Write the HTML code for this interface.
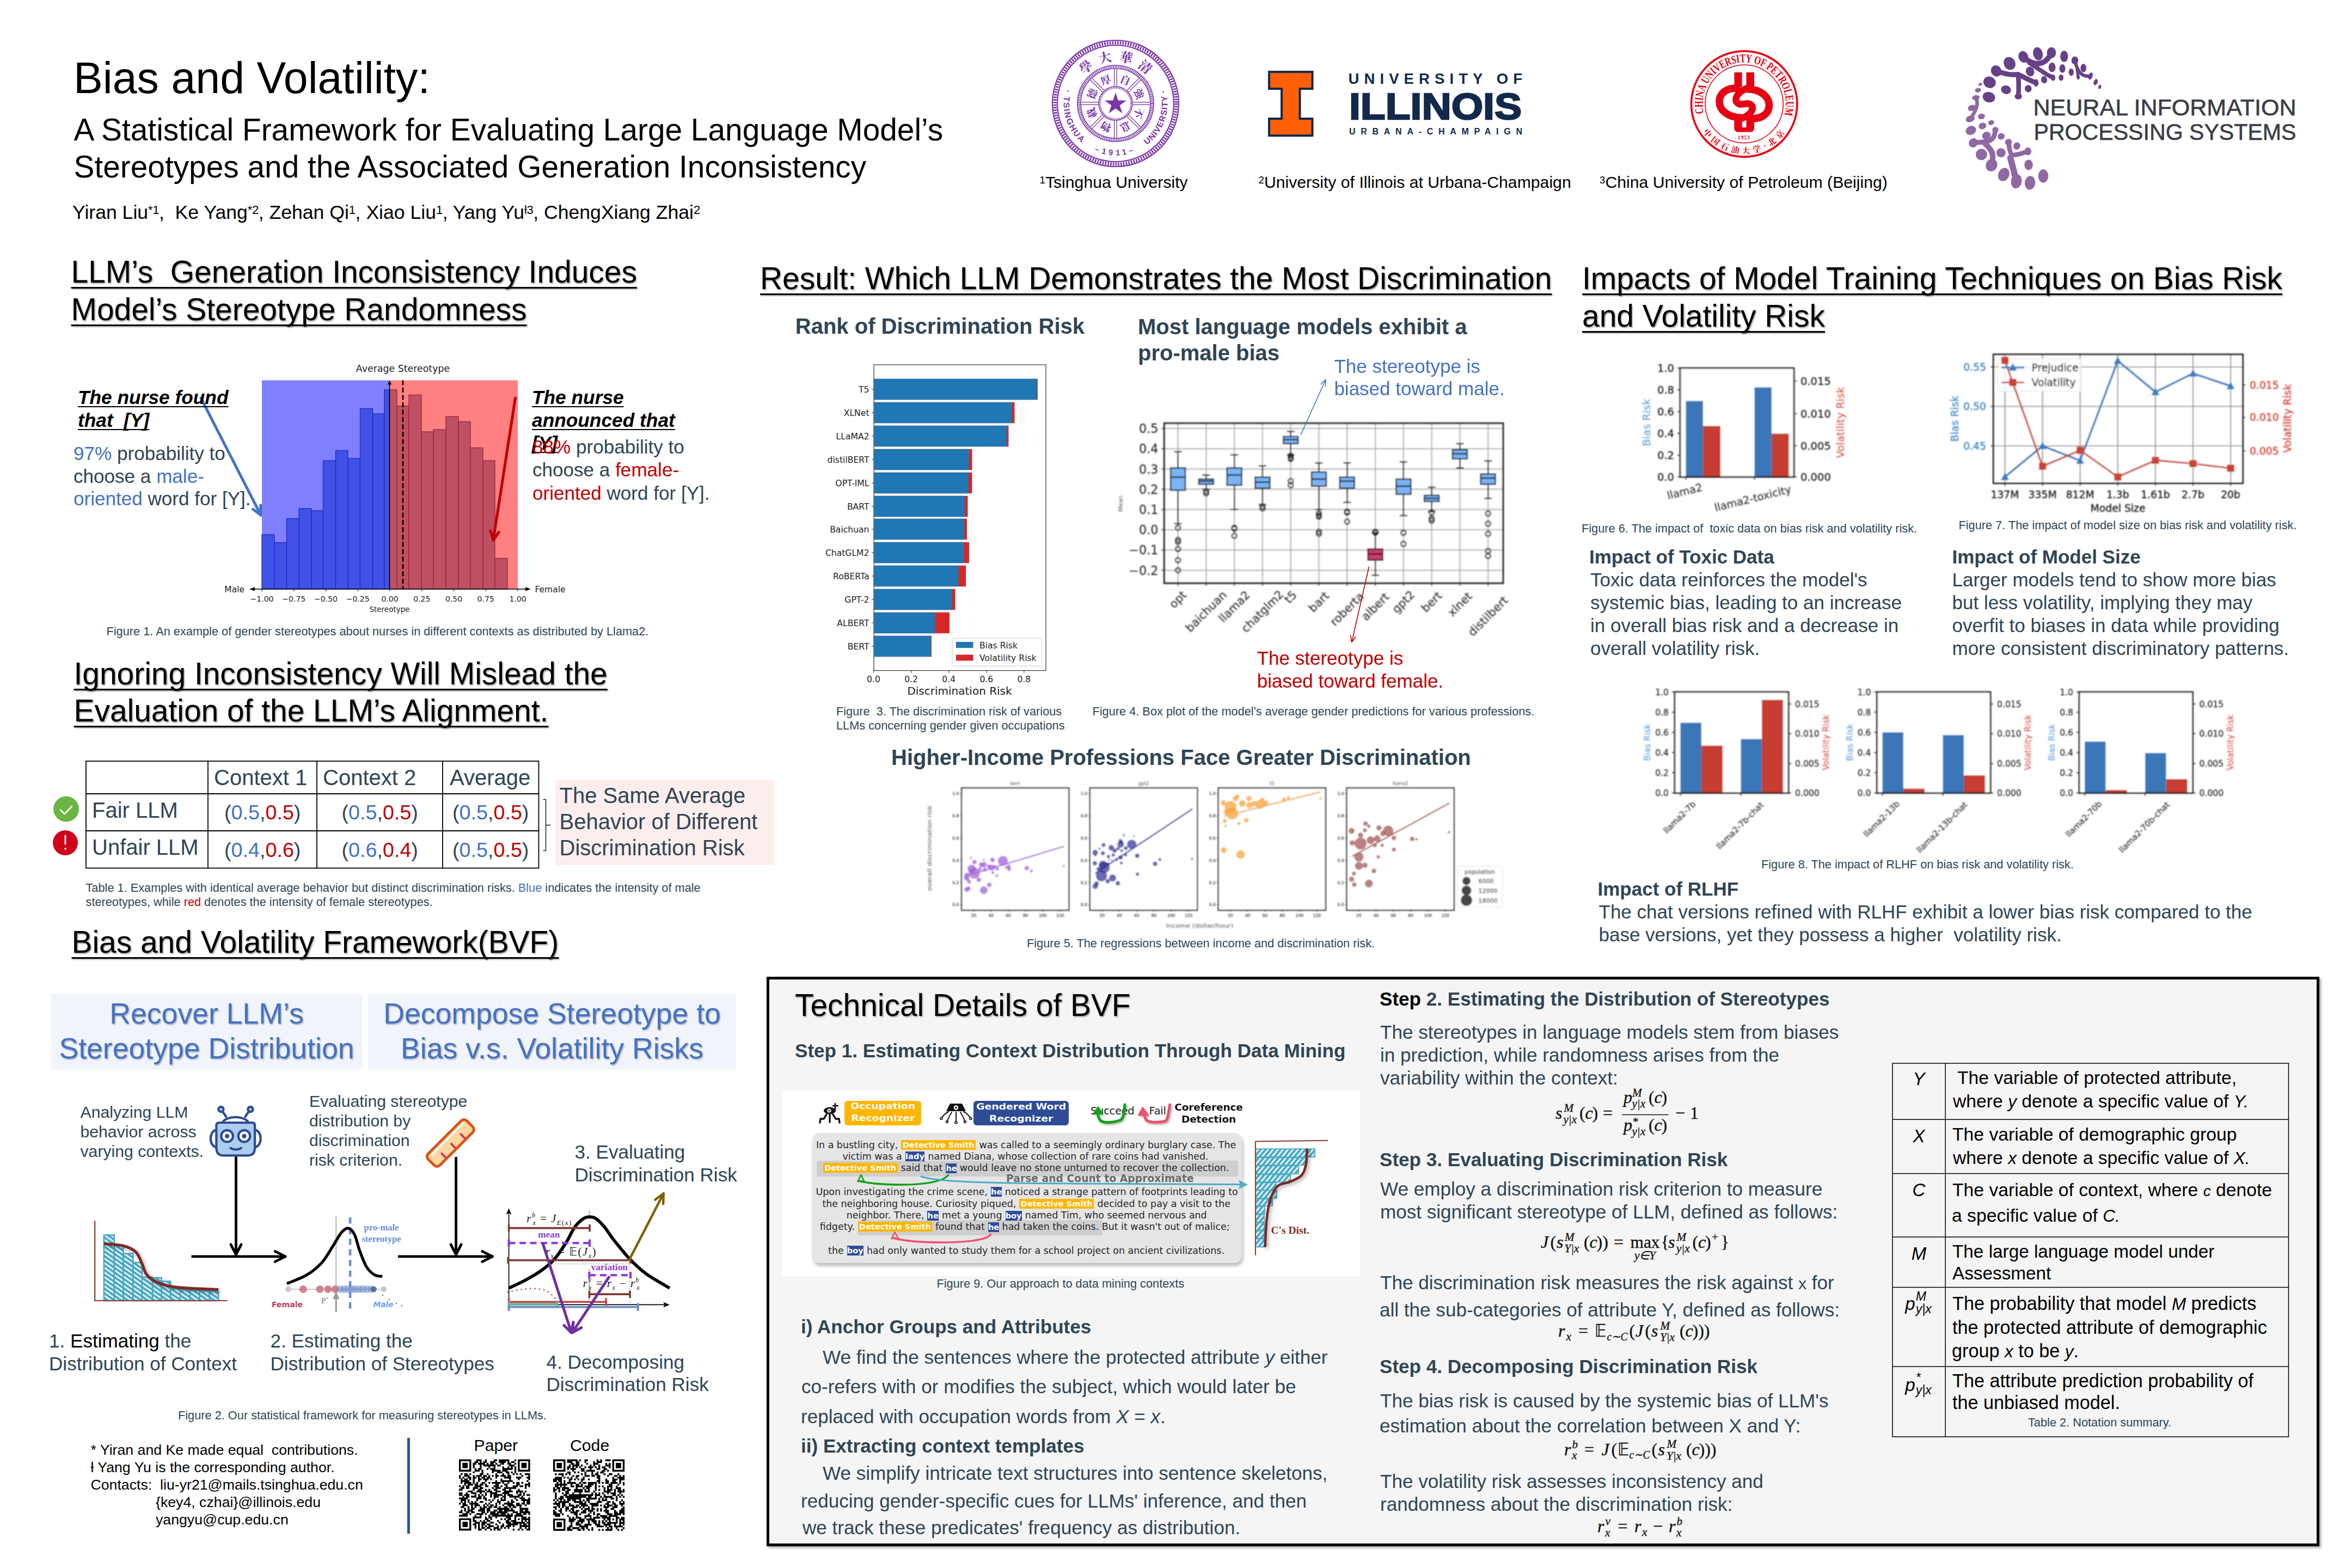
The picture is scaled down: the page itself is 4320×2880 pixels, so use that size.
<!DOCTYPE html>
<html lang="en"><head><meta charset="utf-8"><title>Bias and Volatility poster</title>
<style>
html,body{margin:0;padding:0;background:#fff}
#p{position:relative;width:4320px;height:2880px;overflow:hidden;background:#fff;font-family:'Liberation Sans',sans-serif}
.t{position:absolute;white-space:nowrap;margin:0}
.h{text-decoration:underline;text-decoration-thickness:3px;text-underline-offset:8px;text-decoration-skip-ink:none;text-shadow:1.5px 1.5px 2.5px rgba(0,0,0,.38)}
.sh{text-shadow:2px 2px 3px rgba(0,0,0,.4)}
svg text{white-space:pre}
</style></head><body><div id="p">
<div style="position:absolute;left:1020px;top:1432.5px;width:402px;height:156.5px;background:#fdeeee"></div>
<div style="position:absolute;left:94px;top:1824.5px;width:571px;height:140.5px;background:#f1f4fb"></div>
<div style="position:absolute;left:676px;top:1824.5px;width:676px;height:140.5px;background:#f1f4fb"></div>
<div style="position:absolute;left:748px;top:2641px;width:5px;height:175.5px;background:#2f5597"></div><div style="position:absolute;left:1408px;top:1794px;width:2842px;height:1036px;background:#f5f5f5;border:5px solid #000;box-shadow:3px 3px 4px rgba(0,0,0,.35)"></div>
<div style="position:absolute;left:1437px;top:2003px;width:1060.7px;height:340.5px;background:#fff"></div>
<div style="position:absolute;left:1491.5px;top:2080.6px;width:789.3px;height:239.6px;background:#e5e5e5;border-radius:14px;box-shadow:2px 5px 6px rgba(0,0,0,.28)"></div>
<div style="position:absolute;left:1500.4px;top:2132px;width:773.5px;height:29px;background:#cecece;border-radius:4px"></div>
<div style="position:absolute;left:1575.7px;top:2241px;width:449px;height:27.5px;background:#cecece;border-radius:4px"></div>
<div style="position:absolute;left:1551.4px;top:2022.4px;width:141.1px;height:44.4px;background:#ffb600;border-radius:6px"></div>
<div style="position:absolute;left:1788.2px;top:2022.4px;width:175.2px;height:44.4px;background:#2e4c96;border-radius:6px"></div>
<div class="t" style="font-family:'DejaVu Sans',sans-serif;left:1551.4px;width:141.1px;top:2020.8px;text-align:center;font-weight:bold;font-size:16.2px;line-height:22px;color:#fff;letter-spacing:-0.2px;transform:scaleX(1.18);transform-origin:50% 50%">Occupation</div>
<div class="t" style="font-family:'DejaVu Sans',sans-serif;left:1551.4px;width:141.1px;top:2043.2px;text-align:center;font-weight:bold;font-size:16.2px;line-height:22px;color:#fff;letter-spacing:-0.2px;transform:scaleX(1.18);transform-origin:50% 50%">Recognizer</div>
<div class="t" style="font-family:'DejaVu Sans',sans-serif;left:1788.2px;width:175.2px;top:2022.0px;text-align:center;font-weight:bold;font-size:16.2px;line-height:22px;color:#fff;letter-spacing:-0.2px;transform:scaleX(1.18);transform-origin:50% 50%">Gendered Word</div>
<div class="t" style="font-family:'DejaVu Sans',sans-serif;left:1788.2px;width:175.2px;top:2044.2px;text-align:center;font-weight:bold;font-size:16.2px;line-height:22px;color:#fff;letter-spacing:-0.2px;transform:scaleX(1.18);transform-origin:50% 50%">Recognizer</div>
<div class="t" style="font-family:'DejaVu Sans',sans-serif;left:2140px;width:160px;top:2023.4px;text-align:center;font-weight:bold;font-size:17.6px;line-height:22px;color:#111;letter-spacing:-0.2px;transform:scaleX(1.06);transform-origin:50% 50%">Coreference</div>
<div class="t" style="font-family:'DejaVu Sans',sans-serif;left:2140px;width:160px;top:2044.9px;text-align:center;font-weight:bold;font-size:17.6px;line-height:22px;color:#111;letter-spacing:-0.2px;transform:scaleX(1.06);transform-origin:50% 50%">Detection</div>
<div class="t" style="font-family:'DejaVu Sans',sans-serif;left:2003px;top:2028.8px;font-size:19.5px;line-height:24px;color:#222;letter-spacing:-0.3px">Succeed</div>
<div class="t" style="font-family:'DejaVu Sans',sans-serif;left:2110.5px;top:2029.3px;font-size:19.5px;line-height:24px;color:#222;letter-spacing:-0.3px">Fail</div>
<div class="t" style="font-family:'DejaVu Sans',sans-serif;left:1848px;top:2153.8px;font-size:18.6px;font-weight:bold;line-height:22px;color:#6a6a6a;letter-spacing:0.1px">Parse and Count to Approximate</div>
<div class="t" style="font-family:'DejaVu Sans',sans-serif;left:1498.9px;top:2091.1px;font-size:17.45px;line-height:24px;color:#262626;white-space:pre">In a bustling city, <span style="display:inline-block;width:137px;height:18px;line-height:18px;background:#ffb600;color:#fff;font-weight:bold;font-size:14.6px;text-align:center;vertical-align:1.2px;margin:0 0.5px">Detective Smith</span> was called to a seemingly ordinary burglary case. The</div>
<div class="t" style="font-family:'DejaVu Sans',sans-serif;left:1547.4px;top:2111.5px;font-size:17.45px;line-height:24px;color:#262626;white-space:pre">victim was a <span style="display:inline-block;width:35.7px;height:18px;line-height:18px;background:#2e4c96;color:#fff;font-weight:bold;font-size:14.6px;text-align:center;vertical-align:0.5px;margin:0 0.5px">lady</span> named Diana, whose collection of rare coins had vanished.</div>
<div class="t" style="font-family:'DejaVu Sans',sans-serif;left:1511.2px;top:2133.2px;font-size:17.45px;line-height:24px;color:#262626;white-space:pre"><span style="display:inline-block;width:137px;height:18px;line-height:18px;background:#ffb600;color:#fff;font-weight:bold;font-size:14.6px;text-align:center;vertical-align:1.2px;margin:0 0.5px">Detective Smith</span> said that <span style="display:inline-block;width:19.3px;height:18px;line-height:18px;background:#2e4c96;color:#fff;font-weight:bold;font-size:14.6px;text-align:center;vertical-align:0.5px;margin:0 0.5px">he</span> would leave no stone unturned to recover the collection.</div>
<div class="t" style="font-family:'DejaVu Sans',sans-serif;left:1498.4px;top:2176.8px;font-size:17.45px;line-height:24px;color:#262626;white-space:pre">Upon investigating the crime scene, <span style="display:inline-block;width:19.6px;height:18px;line-height:18px;background:#2e4c96;color:#fff;font-weight:bold;font-size:14.6px;text-align:center;vertical-align:0.5px;margin:0 0.5px">he</span> noticed a strange pattern of footprints leading to</div>
<div class="t" style="font-family:'DejaVu Sans',sans-serif;left:1510.4px;top:2198.9px;font-size:17.45px;line-height:24px;color:#262626;white-space:pre">the neighboring house. Curiosity piqued, <span style="display:inline-block;width:137px;height:18px;line-height:18px;background:#ffb600;color:#fff;font-weight:bold;font-size:14.6px;text-align:center;vertical-align:1.2px;margin:0 0.5px">Detective Smith</span> decided to pay a visit to the</div>
<div class="t" style="font-family:'DejaVu Sans',sans-serif;left:1554.8px;top:2220.2px;font-size:17.45px;line-height:24px;color:#262626;white-space:pre">neighbor. There, <span style="display:inline-block;width:20.5px;height:18px;line-height:18px;background:#2e4c96;color:#fff;font-weight:bold;font-size:14.6px;text-align:center;vertical-align:0.5px;margin:0 0.5px">he</span> met a young <span style="display:inline-block;width:30.2px;height:18px;line-height:18px;background:#2e4c96;color:#fff;font-weight:bold;font-size:14.6px;text-align:center;vertical-align:0.5px;margin:0 0.5px">boy</span> named Tim, who seemed nervous and</div>
<div class="t" style="font-family:'DejaVu Sans',sans-serif;left:1505.8px;top:2241.1px;font-size:17.45px;line-height:24px;color:#262626;white-space:pre">fidgety. <span style="display:inline-block;width:136px;height:18px;line-height:18px;background:#ffb600;color:#fff;font-weight:bold;font-size:14.6px;text-align:center;vertical-align:1.2px;margin:0 0.5px">Detective Smith</span> found that <span style="display:inline-block;width:19.6px;height:18px;line-height:18px;background:#2e4c96;color:#fff;font-weight:bold;font-size:14.6px;text-align:center;vertical-align:0.5px;margin:0 0.5px">he</span> had taken the coins. But it wasn't out of malice;</div>
<div class="t" style="font-family:'DejaVu Sans',sans-serif;left:1521.1px;top:2284.5px;font-size:17.45px;line-height:24px;color:#262626;white-space:pre">the <span style="display:inline-block;width:30.1px;height:18px;line-height:18px;background:#2e4c96;color:#fff;font-weight:bold;font-size:14.6px;text-align:center;vertical-align:0.5px;margin:0 0.5px">boy</span> had only wanted to study them for a school project on ancient civilizations.</div>
<div class="t" style="font-family:'Liberation Serif',serif;left:2334.5px;top:2248.1px;font-size:19.5px;font-weight:bold;line-height:24px;color:#7b2c25">C's Dist.</div>
<svg width="4320" height="2880" viewBox="0 0 4320 2880" style="position:absolute;left:0;top:0">
<g fill="none" stroke="#7a35a6">
<circle cx="2049" cy="190" r="116" stroke-width="2.2"/>
<circle cx="2049" cy="190" r="111.5" stroke-width="6" stroke-dasharray="2.6 2.2"/>
<circle cx="2049" cy="190" r="107" stroke-width="2.2"/>
<circle cx="2049" cy="190" r="70" stroke-width="1.6"/>
<circle cx="2049" cy="190" r="67" stroke-width="4" stroke-dasharray="1.6 1.6"/>
<circle cx="2049" cy="190" r="64" stroke-width="1.6"/>
<circle cx="2049" cy="190" r="31" stroke-width="1.6"/>
<circle cx="2049" cy="190" r="28.5" stroke-width="2.5" stroke-dasharray="1.5 1.5"/>
<line x1="2081.0" y1="187.8" x2="2112.0" y2="187.8" stroke-width="1.3"/>
<line x1="2081.0" y1="192.2" x2="2112.0" y2="192.2" stroke-width="1.3"/>
<line x1="2073.2" y1="211.1" x2="2095.1" y2="233.0" stroke-width="1.3"/>
<line x1="2070.1" y1="214.2" x2="2092.0" y2="236.1" stroke-width="1.3"/>
<line x1="2051.2" y1="222.0" x2="2051.2" y2="253.0" stroke-width="1.3"/>
<line x1="2046.8" y1="222.0" x2="2046.8" y2="253.0" stroke-width="1.3"/>
<line x1="2027.9" y1="214.2" x2="2006.0" y2="236.1" stroke-width="1.3"/>
<line x1="2024.8" y1="211.1" x2="2002.9" y2="233.0" stroke-width="1.3"/>
<line x1="2017.0" y1="192.2" x2="1986.0" y2="192.2" stroke-width="1.3"/>
<line x1="2017.0" y1="187.8" x2="1986.0" y2="187.8" stroke-width="1.3"/>
<line x1="2024.8" y1="168.9" x2="2002.9" y2="147.0" stroke-width="1.3"/>
<line x1="2027.9" y1="165.8" x2="2006.0" y2="143.9" stroke-width="1.3"/>
<line x1="2046.8" y1="158.0" x2="2046.8" y2="127.0" stroke-width="1.3"/>
<line x1="2051.2" y1="158.0" x2="2051.2" y2="127.0" stroke-width="1.3"/>
<line x1="2070.1" y1="165.8" x2="2092.0" y2="143.9" stroke-width="1.3"/>
<line x1="2073.2" y1="168.9" x2="2095.1" y2="147.0" stroke-width="1.3"/>
</g>
<polygon points="2049.0,170.0 2053.8,184.4 2069.0,184.5 2056.8,193.5 2061.3,208.0 2049.0,199.2 2036.7,208.0 2041.2,193.5 2029.0,184.5 2044.2,184.4" fill="#7a35a6"/>
<text x="2067.4" y="145.7" transform="rotate(22.5 2067.4 145.7)" font-family="'Noto Serif CJK SC','Noto Sans CJK SC',serif" font-weight="bold" font-size="19" fill="#7a35a6" text-anchor="middle" dominant-baseline="central">自</text>
<text x="2093.3" y="171.6" transform="rotate(67.5 2093.3 171.6)" font-family="'Noto Serif CJK SC','Noto Sans CJK SC',serif" font-weight="bold" font-size="19" fill="#7a35a6" text-anchor="middle" dominant-baseline="central">強</text>
<text x="2093.3" y="208.4" transform="rotate(112.5 2093.3 208.4)" font-family="'Noto Serif CJK SC','Noto Sans CJK SC',serif" font-weight="bold" font-size="19" fill="#7a35a6" text-anchor="middle" dominant-baseline="central">不</text>
<text x="2067.4" y="234.3" transform="rotate(157.5 2067.4 234.3)" font-family="'Noto Serif CJK SC','Noto Sans CJK SC',serif" font-weight="bold" font-size="19" fill="#7a35a6" text-anchor="middle" dominant-baseline="central">息</text>
<text x="2030.6" y="234.3" transform="rotate(202.5 2030.6 234.3)" font-family="'Noto Serif CJK SC','Noto Sans CJK SC',serif" font-weight="bold" font-size="19" fill="#7a35a6" text-anchor="middle" dominant-baseline="central">物</text>
<text x="2004.7" y="208.4" transform="rotate(247.5 2004.7 208.4)" font-family="'Noto Serif CJK SC','Noto Sans CJK SC',serif" font-weight="bold" font-size="19" fill="#7a35a6" text-anchor="middle" dominant-baseline="central">載</text>
<text x="2004.7" y="171.6" transform="rotate(-67.5 2004.7 171.6)" font-family="'Noto Serif CJK SC','Noto Sans CJK SC',serif" font-weight="bold" font-size="19" fill="#7a35a6" text-anchor="middle" dominant-baseline="central">德</text>
<text x="2030.6" y="145.7" transform="rotate(-22.5 2030.6 145.7)" font-family="'Noto Serif CJK SC','Noto Sans CJK SC',serif" font-weight="bold" font-size="19" fill="#7a35a6" text-anchor="middle" dominant-baseline="central">厚</text>
<text x="1993.6" y="121.6" transform="rotate(-39.0 1993.6 121.6)" font-family="'Noto Serif CJK SC','Noto Sans CJK SC',serif" font-weight="bold" font-size="24" fill="#7a35a6" text-anchor="middle" dominant-baseline="central">學</text>
<text x="2029.2" y="104.3" transform="rotate(-13.0 2029.2 104.3)" font-family="'Noto Serif CJK SC','Noto Sans CJK SC',serif" font-weight="bold" font-size="24" fill="#7a35a6" text-anchor="middle" dominant-baseline="central">大</text>
<text x="2068.8" y="104.3" transform="rotate(13.0 2068.8 104.3)" font-family="'Noto Serif CJK SC','Noto Sans CJK SC',serif" font-weight="bold" font-size="24" fill="#7a35a6" text-anchor="middle" dominant-baseline="central">華</text>
<text x="2104.4" y="121.6" transform="rotate(39.0 2104.4 121.6)" font-family="'Noto Serif CJK SC','Noto Sans CJK SC',serif" font-weight="bold" font-size="24" fill="#7a35a6" text-anchor="middle" dominant-baseline="central">清</text>
<path id="tsA" d="M1957.2 163.7A95.5 95.5 0 0 0 1990.2 265.3" fill="none"/>
<path id="tsB" d="M2010.2 277.2A95.5 95.5 0 0 0 2087.8 277.2" fill="none"/>
<path id="tsC" d="M2106.5 266.3A95.5 95.5 0 0 0 2139.8 160.5" fill="none"/>
<text font-family="'Liberation Sans',sans-serif" font-weight="bold" font-size="15.5" fill="#7a35a6"><textPath href="#tsA" textLength="108" lengthAdjust="spacing">· TSINGHUA</textPath></text>
<text font-family="'Liberation Sans',sans-serif" font-weight="bold" font-size="14.5" fill="#7a35a6"><textPath href="#tsB" textLength="74" lengthAdjust="spacing">–1911–</textPath></text>
<text font-family="'Liberation Sans',sans-serif" font-weight="bold" font-size="15.5" fill="#7a35a6"><textPath href="#tsC" textLength="114" lengthAdjust="spacing">UNIVERSITY ·</textPath></text>
<polygon points="2331,132 2410.5,132 2410.5,163 2387.5,163 2387.5,218 2410.5,218 2410.5,249 2331,249 2331,218 2354,218 2354,163 2331,163" fill="#ff5f05" stroke="#13294b" stroke-width="4"/>
<text x="2476.5" y="154" font-family="'Liberation Sans',sans-serif" font-weight="bold" font-size="27.5" fill="#13294b" textLength="319.5" lengthAdjust="spacing">UNIVERSITY OF</text>
<text x="2478" y="218.5" font-family="'Liberation Sans',sans-serif" font-weight="bold" font-size="69" fill="#13294b" stroke="#13294b" stroke-width="2.5" textLength="317" lengthAdjust="spacingAndGlyphs">ILLINOIS</text>
<text x="2478" y="246.5" font-family="'Liberation Sans',sans-serif" font-weight="bold" font-size="16" fill="#13294b" textLength="318" lengthAdjust="spacing">URBANA-CHAMPAIGN</text>
<circle cx="3203.7" cy="190.9" r="97.2" fill="#fff" stroke="#e60012" stroke-width="3.6"/>
<circle cx="3203.7" cy="190.9" r="71.6" fill="none" stroke="#e60012" stroke-width="1.6"/>
<path id="cuA" d="M3129.2 208.1A76.5 76.5 0 1 1 3276.9 213.3" fill="none"/>
<text font-family="'Liberation Serif',serif" font-weight="bold" font-size="21.5" fill="#e60012"><textPath href="#cuA" textLength="278" lengthAdjust="spacingAndGlyphs">CHINA UNIVERSITY OF PETROLEUM</textPath></text>
<path id="cuB" d="M3127.8 242.1A91.5 91.5 0 0 0 3279.6 242.1" fill="none"/>
<text font-family="'Noto Serif CJK SC','Noto Sans CJK SC',serif" font-weight="bold" font-size="15" fill="#e60012"><textPath href="#cuB" textLength="176" lengthAdjust="spacing">中国石油大学·北京</textPath></text>
<text x="3203.2" y="256.2" font-family="'Liberation Serif',serif" font-weight="bold" font-size="9.5" fill="#e60012" text-anchor="middle" letter-spacing="1">1953</text>
<g transform="translate(3203.7 189.9) scale(1.0 1.0)" fill="none" stroke="#e60012" stroke-linecap="butt">
<path d="M-11.2 -57V-30" stroke-width="14.2"/><path d="M11 -57V-30" stroke-width="14.6"/>
<path d="M-11.2 28V45.5M11 28V45.5" stroke-width="14.4"/>
<path d="M-18.4 44V46a6.5 6.5 0 0 0 6.5 6.5H11.7a6.5 6.5 0 0 0 6.5 -6.5V44z" fill="#e60012" stroke="none"/>
<path d="M-8 -27.5C-58 -34 -60 26 -4 26.5" stroke-width="13.5"/>
<path d="M8 27.5C58 34 60 -26 4 -26.5" stroke-width="13.5"/>
<path d="M13 -30C-22 -22 -22 6 0 1C22 -4 22 22 -13 30" stroke-width="12.5"/>
</g>
<g fill="#674188" stroke="#674188" stroke-linecap="round" stroke-linejoin="round">
<ellipse cx="3743.1" cy="98.7" rx="8.8" ry="12.2" transform="rotate(-15 3743.1 98.7)" stroke="none"/>
<ellipse cx="3767.9" cy="96.8" rx="8.4" ry="10.1" transform="rotate(0 3767.9 96.8)" stroke="none"/>
<ellipse cx="3791.3" cy="103.5" rx="7.2" ry="10.5" transform="rotate(0 3791.3 103.5)" stroke="none"/>
<ellipse cx="3811.0" cy="111.1" rx="6.3" ry="7.4" transform="rotate(0 3811.0 111.1)" stroke="none"/>
<ellipse cx="3826.7" cy="125.1" rx="5.3" ry="7.8" transform="rotate(0 3826.7 125.1)" stroke="none"/>
<ellipse cx="3849.2" cy="150.7" rx="3.6" ry="5.9" transform="rotate(20 3849.2 150.7)" stroke="none"/>
<ellipse cx="3856.7" cy="159.7" rx="2.5" ry="4.0" transform="rotate(20 3856.7 159.7)" stroke="none"/>
<ellipse cx="3716.3" cy="104.4" rx="8.8" ry="10.9" transform="rotate(-20 3716.3 104.4)" stroke="none"/>
<ellipse cx="3691.0" cy="116.5" rx="10.5" ry="12.2" transform="rotate(-30 3691.0 116.5)" stroke="none"/>
<ellipse cx="3666.5" cy="130.3" rx="9.5" ry="10.5" transform="rotate(-30 3666.5 130.3)" stroke="none"/>
<ellipse cx="3654.3" cy="151.1" rx="11.6" ry="10.5" transform="rotate(20 3654.3 151.1)" stroke="none"/>
<ellipse cx="3653.1" cy="178.5" rx="11.6" ry="9.7" transform="rotate(15 3653.1 178.5)" stroke="none"/>
<ellipse cx="3684.5" cy="164.9" rx="9.3" ry="7.8" transform="rotate(15 3684.5 164.9)" stroke="none"/>
<ellipse cx="3728.7" cy="131.4" rx="7.6" ry="9.0" transform="rotate(-20 3728.7 131.4)" stroke="none"/>
<ellipse cx="3769.1" cy="123.6" rx="6.5" ry="8.8" transform="rotate(0 3769.1 123.6)" stroke="none"/>
<ellipse cx="3788.0" cy="125.9" rx="5.5" ry="7.8" transform="rotate(0 3788.0 125.9)" stroke="none"/>
<ellipse cx="3804.3" cy="132.6" rx="4.6" ry="6.7" transform="rotate(0 3804.3 132.6)" stroke="none"/>
<ellipse cx="3785.7" cy="142.7" rx="4.4" ry="5.9" transform="rotate(0 3785.7 142.7)" stroke="none"/>
<ellipse cx="3754.5" cy="146.5" rx="5.5" ry="6.7" transform="rotate(-10 3754.5 146.5)" stroke="none"/>
<ellipse cx="3725.3" cy="162.8" rx="6.3" ry="6.7" transform="rotate(-20 3725.3 162.8)" stroke="none"/>
<ellipse cx="3707.1" cy="177.1" rx="6.7" ry="5.5" transform="rotate(0 3707.1 177.1)" stroke="none"/>
<ellipse cx="3770.8" cy="142.7" rx="4.2" ry="5.9" transform="rotate(0 3770.8 142.7)" stroke="none"/>
<ellipse cx="3739.6" cy="152.3" rx="4.6" ry="6.7" transform="rotate(0 3739.6 152.3)" stroke="none"/>
<ellipse cx="3839.7" cy="139.8" rx="3.8" ry="6.7" transform="rotate(20 3839.7 139.8)" stroke="none"/>
<ellipse cx="3817.1" cy="141.7" rx="2.9" ry="4.2" transform="rotate(0 3817.1 141.7)" stroke="none"/>
<path d="M3666.5 130.3Q3689.5 137.9 3698.1 137.0Q3706.7 136.0 3715.3 140.8Q3723.9 145.6 3739.6 152.3" fill="none" stroke-width="9.2"/>
<path d="M3706.7 136.0Q3708.6 156.1 3707.1 177.1" fill="none" stroke-width="8.6"/>
<path d="M3716.3 104.4Q3727.8 115.0 3737.3 116.4Q3746.9 117.8 3754.5 113.5Q3762.2 109.2 3767.9 96.8" fill="none" stroke-width="9.8"/>
<path d="M3727.8 115.9Q3746.9 128.4 3753.1 132.7Q3759.3 137.0 3770.8 142.7" fill="none" stroke-width="8.0"/>
<path d="M3811.0 111.1Q3814.8 127.4 3821.0 134.1Q3827.2 140.8 3839.7 139.8" fill="none" stroke-width="6.1"/>
<path d="M3814.8 127.4L3817.1 141.7" fill="none" stroke-width="4.9"/>
</g>
<g fill="#9069a4" stroke="#9069a4" stroke-linecap="round" stroke-linejoin="round">
<ellipse cx="3637.4" cy="154.8" rx="3.8" ry="2.5" transform="rotate(-15 3637.4 154.8)" stroke="none"/>
<ellipse cx="3633.2" cy="165.7" rx="5.7" ry="4.0" transform="rotate(-10 3633.2 165.7)" stroke="none"/>
<ellipse cx="3629.2" cy="179.4" rx="6.9" ry="4.6" transform="rotate(-10 3629.2 179.4)" stroke="none"/>
<ellipse cx="3622.0" cy="198.2" rx="7.6" ry="5.5" transform="rotate(-15 3622.0 198.2)" stroke="none"/>
<ellipse cx="3639.4" cy="213.9" rx="6.5" ry="5.1" transform="rotate(-15 3639.4 213.9)" stroke="none"/>
<ellipse cx="3618.7" cy="218.3" rx="8.4" ry="5.9" transform="rotate(-20 3618.7 218.3)" stroke="none"/>
<ellipse cx="3620.0" cy="239.5" rx="9.9" ry="8.0" transform="rotate(-25 3620.0 239.5)" stroke="none"/>
<ellipse cx="3641.3" cy="231.3" rx="7.2" ry="5.9" transform="rotate(-20 3641.3 231.3)" stroke="none"/>
<ellipse cx="3657.3" cy="225.2" rx="5.5" ry="4.4" transform="rotate(-20 3657.3 225.2)" stroke="none"/>
<ellipse cx="3665.0" cy="238.4" rx="5.7" ry="5.1" transform="rotate(0 3665.0 238.4)" stroke="none"/>
<ellipse cx="3648.5" cy="249.1" rx="8.0" ry="6.9" transform="rotate(-25 3648.5 249.1)" stroke="none"/>
<ellipse cx="3675.7" cy="250.4" rx="6.5" ry="5.9" transform="rotate(-25 3675.7 250.4)" stroke="none"/>
<ellipse cx="3624.4" cy="262.3" rx="8.0" ry="8.8" transform="rotate(40 3624.4 262.3)" stroke="none"/>
<ellipse cx="3639.4" cy="283.7" rx="10.5" ry="10.5" transform="rotate(-40 3639.4 283.7)" stroke="none"/>
<ellipse cx="3675.3" cy="280.5" rx="8.4" ry="8.4" transform="rotate(-40 3675.3 280.5)" stroke="none"/>
<ellipse cx="3689.1" cy="261.3" rx="6.3" ry="6.3" transform="rotate(0 3689.1 261.3)" stroke="none"/>
<ellipse cx="3704.4" cy="268.2" rx="6.3" ry="6.9" transform="rotate(20 3704.4 268.2)" stroke="none"/>
<ellipse cx="3724.7" cy="278.0" rx="6.3" ry="7.2" transform="rotate(0 3724.7 278.0)" stroke="none"/>
<ellipse cx="3726.0" cy="302.7" rx="7.8" ry="9.5" transform="rotate(0 3726.0 302.7)" stroke="none"/>
<ellipse cx="3657.9" cy="303.4" rx="10.5" ry="11.6" transform="rotate(30 3657.9 303.4)" stroke="none"/>
<ellipse cx="3680.3" cy="320.6" rx="10.1" ry="12.6" transform="rotate(25 3680.3 320.6)" stroke="none"/>
<ellipse cx="3703.6" cy="333.1" rx="9.9" ry="13.0" transform="rotate(10 3703.6 333.1)" stroke="none"/>
<ellipse cx="3728.5" cy="335.9" rx="9.7" ry="12.6" transform="rotate(5 3728.5 335.9)" stroke="none"/>
<ellipse cx="3753.0" cy="323.3" rx="9.3" ry="12.2" transform="rotate(0 3753.0 323.3)" stroke="none"/>
<path d="M3629.2 179.4Q3636.9 194.4 3618.7 218.3" fill="none" stroke-width="6.7"/>
<path d="M3665.0 238.4Q3663.7 255.6 3653.6 258.5Q3643.6 261.3 3624.4 262.3" fill="none" stroke-width="8.6"/>
<path d="M3643.6 261.3Q3656.0 272.8 3658.9 280.5Q3661.7 288.1 3657.9 303.4" fill="none" stroke-width="10.4"/>
<path d="M3689.1 261.3Q3691.4 280.5 3694.8 283.8Q3698.1 287.2 3724.7 278.0" fill="none" stroke-width="8.6"/>
<path d="M3692.4 290.0Q3698.1 310.1 3703.6 333.1" fill="none" stroke-width="11.6"/>
</g>
<text x="3734.5" y="212" font-family="'Liberation Sans',sans-serif" font-size="43" fill="#3a3d45" stroke="#3a3d45" stroke-width="0.6" textLength="483" lengthAdjust="spacingAndGlyphs">NEURAL INFORMATION</text>
<text x="3735.5" y="256.5" font-family="'Liberation Sans',sans-serif" font-size="43" fill="#3a3d45" stroke="#3a3d45" stroke-width="0.6" textLength="482" lengthAdjust="spacingAndGlyphs">PROCESSING SYSTEMS</text><rect x="481.0" y="698.5" width="234.5" height="383.5" fill="#8080ff"/>
<rect x="715.5" y="698.5" width="235.5" height="383.5" fill="#ff8080"/>
<rect x="481.0" y="982.0" width="23.0" height="100.0" fill="#4052e6" stroke="#2228c0" stroke-width="1.3"/>
<rect x="504.0" y="996.5" width="22.5" height="85.5" fill="#4052e6" stroke="#2228c0" stroke-width="1.3"/>
<rect x="526.5" y="952.5" width="22.5" height="129.5" fill="#4052e6" stroke="#2228c0" stroke-width="1.3"/>
<rect x="549.0" y="934.0" width="23.0" height="148.0" fill="#4052e6" stroke="#2228c0" stroke-width="1.3"/>
<rect x="572.0" y="938.0" width="21.5" height="144.0" fill="#4052e6" stroke="#2228c0" stroke-width="1.3"/>
<rect x="593.5" y="846.0" width="23.0" height="236.0" fill="#4052e6" stroke="#2228c0" stroke-width="1.3"/>
<rect x="616.5" y="827.5" width="22.5" height="254.5" fill="#4052e6" stroke="#2228c0" stroke-width="1.3"/>
<rect x="639.0" y="842.0" width="22.5" height="240.0" fill="#4052e6" stroke="#2228c0" stroke-width="1.3"/>
<rect x="661.5" y="750.5" width="23.0" height="331.5" fill="#4052e6" stroke="#2228c0" stroke-width="1.3"/>
<rect x="684.5" y="760.0" width="21.5" height="322.0" fill="#4052e6" stroke="#2228c0" stroke-width="1.3"/>
<rect x="706.0" y="716.0" width="9.5" height="366.0" fill="#4052e6" stroke="#2228c0" stroke-width="1.3"/>
<rect x="715.5" y="716.0" width="13.5" height="366.0" fill="#bf5062" stroke="#96283c" stroke-width="1.3"/>
<rect x="729.0" y="745.5" width="22.0" height="336.5" fill="#bf5062" stroke="#96283c" stroke-width="1.3"/>
<rect x="751.0" y="725.5" width="23.0" height="356.5" fill="#bf5062" stroke="#96283c" stroke-width="1.3"/>
<rect x="774.0" y="793.0" width="22.0" height="289.0" fill="#bf5062" stroke="#96283c" stroke-width="1.3"/>
<rect x="796.0" y="789.0" width="23.0" height="293.0" fill="#bf5062" stroke="#96283c" stroke-width="1.3"/>
<rect x="819.0" y="765.0" width="23.0" height="317.0" fill="#bf5062" stroke="#96283c" stroke-width="1.3"/>
<rect x="842.0" y="774.5" width="22.0" height="307.5" fill="#bf5062" stroke="#96283c" stroke-width="1.3"/>
<rect x="864.0" y="822.5" width="23.0" height="259.5" fill="#bf5062" stroke="#96283c" stroke-width="1.3"/>
<rect x="887.0" y="846.0" width="22.0" height="236.0" fill="#bf5062" stroke="#96283c" stroke-width="1.3"/>
<rect x="909.0" y="1025.5" width="23.0" height="56.5" fill="#bf5062" stroke="#96283c" stroke-width="1.3"/>
<line x1="715.5" y1="704.5" x2="715.5" y2="1082.0" stroke="#000" stroke-width="1.6"/>
<polygon points="715.5,698.5 712.0,706.5 719.0,706.5" fill="#000"/>
<line x1="740.0" y1="698.5" x2="740.0" y2="1082.0" stroke="#000" stroke-width="2.6" stroke-dasharray="9 4.5"/>
<line x1="462.0" y1="1082.0" x2="971.0" y2="1082.0" stroke="#000" stroke-width="1.6"/>
<polygon points="458.0,1082.0 468.0,1078.5 468.0,1085.5" fill="#000"/>
<polygon points="975.0,1082.0 965.0,1078.5 965.0,1085.5" fill="#000"/>
<g font-family="'DejaVu Sans',sans-serif" fill="#222" font-size="14" text-anchor="middle">
<line x1="481.0" y1="1082.0" x2="481.0" y2="1086.0" stroke="#000" stroke-width="1"/>
<text x="481.0" y="1105.0">−1.00</text>
<line x1="539.8" y1="1082.0" x2="539.8" y2="1086.0" stroke="#000" stroke-width="1"/>
<text x="539.8" y="1105.0">−0.75</text>
<line x1="598.5" y1="1082.0" x2="598.5" y2="1086.0" stroke="#000" stroke-width="1"/>
<text x="598.5" y="1105.0">−0.50</text>
<line x1="657.2" y1="1082.0" x2="657.2" y2="1086.0" stroke="#000" stroke-width="1"/>
<text x="657.2" y="1105.0">−0.25</text>
<line x1="716.0" y1="1082.0" x2="716.0" y2="1086.0" stroke="#000" stroke-width="1"/>
<text x="716.0" y="1105.0">0.00</text>
<line x1="774.8" y1="1082.0" x2="774.8" y2="1086.0" stroke="#000" stroke-width="1"/>
<text x="774.8" y="1105.0">0.25</text>
<line x1="833.5" y1="1082.0" x2="833.5" y2="1086.0" stroke="#000" stroke-width="1"/>
<text x="833.5" y="1105.0">0.50</text>
<line x1="892.2" y1="1082.0" x2="892.2" y2="1086.0" stroke="#000" stroke-width="1"/>
<text x="892.2" y="1105.0">0.75</text>
<line x1="951.0" y1="1082.0" x2="951.0" y2="1086.0" stroke="#000" stroke-width="1"/>
<text x="951.0" y="1105.0">1.00</text>
<text x="715.5" y="1124.0" font-size="13.5">Stereotype</text>
<text x="740.0" y="682.5" font-size="17.4">Average Stereotype</text>
<text x="449.0" y="1088.0" font-size="15.5" text-anchor="end">Male</text>
<text x="982.5" y="1088.0" font-size="15.5" text-anchor="start">Female</text>
</g>
<line x1="369.0" y1="731.0" x2="479.0" y2="946.0" stroke="#4472c4" stroke-width="5" stroke-linecap="round"/><line x1="479.0" y1="946.0" x2="464.6" y2="935.2" stroke="#4472c4" stroke-width="5" stroke-linecap="round"/><line x1="479.0" y1="946.0" x2="478.7" y2="928.0" stroke="#4472c4" stroke-width="5" stroke-linecap="round"/>
<line x1="946.5" y1="731.0" x2="906.0" y2="992.0" stroke="#c00000" stroke-width="5" stroke-linecap="round"/><line x1="906.0" y1="992.0" x2="900.7" y2="974.8" stroke="#c00000" stroke-width="5" stroke-linecap="round"/><line x1="906.0" y1="992.0" x2="916.3" y2="977.2" stroke="#c00000" stroke-width="5" stroke-linecap="round"/>
<g stroke="#000" stroke-width="1.8" fill="none"><rect x="158" y="1398" width="831.5" height="196.5"/>
<line x1="382" y1="1398" x2="382" y2="1594.5"/>
<line x1="582" y1="1398" x2="582" y2="1594.5"/>
<line x1="813" y1="1398" x2="813" y2="1594.5"/>
<line x1="158" y1="1458" x2="989.5" y2="1458"/>
<line x1="158" y1="1526" x2="989.5" y2="1526"/>
</g>
<circle cx="121.5" cy="1486" r="23.5" fill="#6ab544"/>
<path d="M111 1487.5l7.5 7.5l13.5 -14" fill="none" stroke="#fff" stroke-width="2.6" stroke-linecap="round" stroke-linejoin="round"/>
<circle cx="120" cy="1548" r="23" fill="#d0021b"/>
<path d="M120 1535v15" stroke="#fff" stroke-width="3" stroke-linecap="round"/><circle cx="120" cy="1559" r="1.8" fill="#fff"/>
<path d="M997.5 1468.5h5v47h9h-9v47h-5" fill="none" stroke="#222" stroke-width="1.5"/>
<defs><pattern id="hat" width="7" height="7" patternUnits="userSpaceOnUse" patternTransform="rotate(35)"><rect width="7" height="7" fill="#e3f1f6"/><rect width="7" height="3.8" fill="#44a6c2"/></pattern><filter id="soft" x="-5%" y="-5%" width="110%" height="110%"><feGaussianBlur stdDeviation="0.7"/></filter><filter id="soft2" x="-5%" y="-5%" width="110%" height="110%"><feGaussianBlur stdDeviation="0.8"/></filter><filter id="soft3" x="-5%" y="-5%" width="110%" height="110%"><feGaussianBlur stdDeviation="0.85"/></filter><filter id="sh" x="-10%" y="-10%" width="130%" height="140%"><feDropShadow dx="3" dy="3" stdDeviation="3" flood-color="#000" flood-opacity="0.35"/></filter></defs>
<g stroke="#2e4a8f" stroke-width="4.2" fill="#aacdf0" stroke-linecap="round" stroke-linejoin="round">
<line x1="415.3" y1="2051.0" x2="405.9" y2="2037.5"/>
<circle cx="405.9" cy="2037.5" r="4.6" fill="#aacdf0"/>
<line x1="450.5" y1="2051.0" x2="459.9" y2="2037.5"/>
<circle cx="459.9" cy="2037.5" r="4.6" fill="#aacdf0"/>
<path d="M408.9 2061.2A25 14 0 0 1 456.1 2061.2" fill="#fff"/>
<path d="M397.4 2075.3C383.4 2077.3 383.4 2105.1 397.4 2107.1" fill="#fff"/>
<path d="M468.2 2075.3C482.2 2077.3 482.2 2105.1 468.2 2107.1" fill="#fff"/>
<path d="M402.4 2062.0H463.1Q468.1 2062.0 468.1 2067.0V2108.4Q468.1 2122.4 454.1 2122.4H411.4Q397.4 2122.4 397.4 2108.4V2067.0Q397.4 2062.0 402.4 2062.0Z"/>
<circle cx="417.1" cy="2086.7" r="10.8" fill="#fff"/>
<circle cx="417.1" cy="2086.7" r="4" fill="#2e4a8f" stroke="none"/>
<circle cx="448.5" cy="2086.7" r="10.8" fill="#fff"/>
<circle cx="448.5" cy="2086.7" r="4" fill="#2e4a8f" stroke="none"/>
<path d="M423.5 2108.7Q433.2 2114.3 442.9 2108.7" fill="none"/>
</g>
<line x1="433.5" y1="2124.5" x2="433.5" y2="2304.5" stroke="#000" stroke-width="4.8" stroke-linecap="butt"/><line x1="433.5" y1="2304.5" x2="424.0" y2="2285.8" stroke="#000" stroke-width="4.8" stroke-linecap="round"/><line x1="433.5" y1="2304.5" x2="443.0" y2="2285.8" stroke="#000" stroke-width="4.8" stroke-linecap="round"/>
<line x1="351.5" y1="2307.8" x2="524.0" y2="2307.8" stroke="#000" stroke-width="4.8" stroke-linecap="butt"/><line x1="524.0" y1="2307.8" x2="505.3" y2="2317.3" stroke="#000" stroke-width="4.8" stroke-linecap="round"/><line x1="524.0" y1="2307.8" x2="505.3" y2="2298.3" stroke="#000" stroke-width="4.8" stroke-linecap="round"/>
<line x1="837.6" y1="2125.0" x2="837.6" y2="2304.5" stroke="#000" stroke-width="4.8" stroke-linecap="butt"/><line x1="837.6" y1="2304.5" x2="828.1" y2="2285.8" stroke="#000" stroke-width="4.8" stroke-linecap="round"/><line x1="837.6" y1="2304.5" x2="847.1" y2="2285.8" stroke="#000" stroke-width="4.8" stroke-linecap="round"/>
<line x1="731.0" y1="2307.8" x2="904.5" y2="2307.8" stroke="#000" stroke-width="4.8" stroke-linecap="butt"/><line x1="904.5" y1="2307.8" x2="885.8" y2="2317.3" stroke="#000" stroke-width="4.8" stroke-linecap="round"/><line x1="904.5" y1="2307.8" x2="885.8" y2="2298.3" stroke="#000" stroke-width="4.8" stroke-linecap="round"/>
<g filter="url(#soft)">
<rect x="190.8" y="2268.4" width="19.1" height="120.7" fill="url(#hat)" stroke="#44a6c2" stroke-width="2.4"/>
<rect x="209.9" y="2287.0" width="16.6" height="102.0" fill="url(#hat)" stroke="#44a6c2" stroke-width="2.4"/>
<rect x="226.5" y="2302.3" width="17.9" height="86.7" fill="url(#hat)" stroke="#44a6c2" stroke-width="2.4"/>
<rect x="244.4" y="2318.9" width="16.6" height="70.2" fill="url(#hat)" stroke="#44a6c2" stroke-width="2.4"/>
<rect x="261.0" y="2345.7" width="19.1" height="43.4" fill="url(#hat)" stroke="#44a6c2" stroke-width="2.4"/>
<rect x="280.1" y="2346.9" width="16.6" height="42.1" fill="url(#hat)" stroke="#44a6c2" stroke-width="2.4"/>
<rect x="296.7" y="2353.3" width="16.6" height="35.7" fill="url(#hat)" stroke="#44a6c2" stroke-width="2.4"/>
<rect x="313.3" y="2367.3" width="17.9" height="21.7" fill="url(#hat)" stroke="#44a6c2" stroke-width="2.4"/>
<rect x="331.1" y="2369.4" width="17.9" height="19.6" fill="url(#hat)" stroke="#44a6c2" stroke-width="2.4"/>
<rect x="349.0" y="2370.4" width="17.9" height="18.6" fill="url(#hat)" stroke="#44a6c2" stroke-width="2.4"/>
<rect x="366.8" y="2371.2" width="17.9" height="17.9" fill="url(#hat)" stroke="#44a6c2" stroke-width="2.4"/>
<rect x="384.7" y="2372.4" width="16.6" height="16.6" fill="url(#hat)" stroke="#44a6c2" stroke-width="2.4"/>
<path d="M190.8 2284.4C196.8 2285.1 216.8 2285.7 226.5 2288.3C236.3 2290.8 243.8 2294.2 249.5 2299.7C255.2 2305.3 257.6 2314.4 261.0 2321.4C264.4 2328.4 264.6 2335.9 269.9 2341.8C275.2 2347.8 283.1 2353.3 292.9 2357.1C302.6 2361.0 310.5 2362.9 328.6 2364.8C346.6 2366.7 389.2 2368.0 401.3 2368.6" fill="none" stroke="#7b2c25" stroke-width="5.2" filter="url(#sh)"/>
<path d="M174.2 2242.3L174.2 2389.0L417.9 2389.0" fill="none" stroke="#8b3a32" stroke-width="2.2"/>
</g>
<line x1="617.3" y1="2233.5" x2="617.3" y2="2410" stroke="#c8c8c8" stroke-width="3"/>
<polygon points="617.3,2372 611,2386 623.6,2386" fill="#9a9a9a"/><line x1="617.3" y1="2384" x2="617.3" y2="2410" stroke="#9a9a9a" stroke-width="3"/>
<line x1="529.6" y1="2367.9" x2="704.8" y2="2367.9" stroke="#d0d0d0" stroke-width="2.5"/>
<circle cx="529.6" cy="2367.9" r="5.5" fill="#c9c9c9"/><circle cx="704.8" cy="2367.9" r="5.5" fill="#c9c9c9"/>
<circle cx="556.9" cy="2367.9" r="7" fill="#c8707c" fill-opacity="0.85"/>
<circle cx="587.5" cy="2367.9" r="7" fill="#c8707c" fill-opacity="0.85"/>
<circle cx="602.3" cy="2367.9" r="7" fill="#c8707c" fill-opacity="0.85"/>
<circle cx="615.6" cy="2367.9" r="7" fill="#c8707c" fill-opacity="0.85"/>
<circle cx="625" cy="2367.9" r="7" fill="#6c8dcc" fill-opacity="0.55"/>
<circle cx="632" cy="2367.9" r="7" fill="#6c8dcc" fill-opacity="0.55"/>
<circle cx="639" cy="2367.9" r="7" fill="#6c8dcc" fill-opacity="0.55"/>
<circle cx="646" cy="2367.9" r="7" fill="#6c8dcc" fill-opacity="0.55"/>
<circle cx="652" cy="2367.9" r="7" fill="#6c8dcc" fill-opacity="0.55"/>
<circle cx="659" cy="2367.9" r="7" fill="#6c8dcc" fill-opacity="0.55"/>
<circle cx="666" cy="2367.9" r="7" fill="#6c8dcc" fill-opacity="0.55"/>
<circle cx="674" cy="2367.9" r="7" fill="#6c8dcc" fill-opacity="0.55"/>
<circle cx="682" cy="2367.9" r="7" fill="#6c8dcc" fill-opacity="0.55"/>
<circle cx="686.5" cy="2367.9" r="5.5" fill="#4a5a78" fill-opacity="0.8"/>
<line x1="643.1" y1="2236" x2="643.1" y2="2406" stroke="#6b8fd4" stroke-width="4.6" stroke-dasharray="11.5 8"/>
<path d="M527.0 2357.7C533.1 2355.0 552.6 2348.3 563.3 2341.8C574.0 2335.4 583.2 2327.8 591.3 2318.9C599.4 2309.9 605.8 2297.4 611.7 2288.3C617.7 2279.1 622.4 2269.4 627.0 2264.0C631.7 2258.6 635.8 2255.2 639.8 2255.9C643.8 2256.5 647.9 2261.2 651.3 2267.9C654.7 2274.5 656.6 2286.1 660.2 2295.9C663.8 2305.7 668.3 2318.9 673.0 2326.5C677.6 2334.2 683.4 2338.9 688.3 2341.8C693.2 2344.8 700.0 2344.0 702.3 2344.4" fill="none" stroke="#000" stroke-width="5.2"/>
<g font-family="'Liberation Serif',serif" font-weight="bold" font-size="16.5" fill="#6b8fd4" text-anchor="middle"><text x="700.5" y="2259.7">pro-male</text><text x="700.5" y="2281.4">stereotype</text></g>
<text x="499" y="2401" font-family="'DejaVu Sans',sans-serif" font-weight="bold" font-size="14.5" fill="#b8405c" textLength="57" lengthAdjust="spacingAndGlyphs">Female</text>
<text x="685.5" y="2401" font-family="'DejaVu Sans',sans-serif" font-style="italic" font-weight="bold" font-size="14.5" fill="#6ba4f0" textLength="37" lengthAdjust="spacingAndGlyphs">Male</text>
<text x="590" y="2394" font-family="'Liberation Serif',serif" font-weight="bold" font-size="14" fill="#999">P<tspan dy="-5" font-size="9">*</tspan></text>
<circle cx="703" cy="2379" r="1.2" fill="#555"/>
<circle cx="715" cy="2387" r="1.2" fill="#555"/>
<circle cx="728" cy="2394" r="1.2" fill="#555"/>
<circle cx="738" cy="2398" r="1.2" fill="#555"/>
<g transform="translate(827.4 2099.5) rotate(-45)"><rect x="-50" y="-15" width="100" height="30" rx="7" fill="#fdd9a0" stroke="#d9541a" stroke-width="5"/><line x1="-42" y1="-9.5" x2="42" y2="-9.5" stroke="#fff" stroke-width="3.5"/><g stroke="#d6336c" stroke-width="4" stroke-linecap="round"><line x1="-25" y1="12" x2="-25" y2="2"/><line x1="0" y1="12" x2="0" y2="2"/><line x1="25" y1="12" x2="25" y2="2"/></g></g>
<line x1="934.6" y1="2226.5" x2="934.6" y2="2398.0" stroke="#000" stroke-width="1.6" stroke-linecap="butt"/>
<polygon points="934.6,2218.9 929.6,2230.9 934.6,2227.9 939.6,2230.9" fill="#000"/>
<line x1="934.6" y1="2396.4" x2="1223.9" y2="2396.4" stroke="#000" stroke-width="1.6" stroke-linecap="butt"/>
<polygon points="1230.0,2396.4 1218.0,2391.4 1221.0,2396.4 1218.0,2401.4" fill="#000"/>
<line x1="1082.4" y1="2223.5" x2="1082.4" y2="2235.7" stroke="#c8c8c8" stroke-width="3" stroke-linecap="butt"/>
<line x1="1014.2" y1="2321.4" x2="1156.5" y2="2321.4" stroke="#c8c8c8" stroke-width="2.2" stroke-dasharray="2.5 2.5" stroke-linecap="butt"/>
<line x1="1156.5" y1="2321.4" x2="1156.5" y2="2394.9" stroke="#c8c8c8" stroke-width="2.2" stroke-dasharray="2.5 2.5" stroke-linecap="butt"/>
<line x1="1082.4" y1="2330.6" x2="1082.4" y2="2388.8" stroke="#c8c8c8" stroke-width="3" stroke-linecap="butt"/>
<path d="M934.6 2365.8C939.4 2363.5 953.7 2357.4 963.7 2352.0C973.6 2346.7 985.1 2340.3 994.3 2333.7C1003.5 2327.0 1011.1 2320.9 1018.8 2312.2C1026.4 2303.6 1034.1 2291.3 1040.2 2281.6C1046.3 2271.9 1050.4 2261.2 1055.5 2254.1C1060.6 2246.9 1066.2 2241.9 1070.8 2238.8C1075.4 2235.6 1079.0 2235.1 1083.1 2235.1C1087.1 2235.1 1090.7 2235.6 1095.3 2238.8C1099.9 2241.9 1105.5 2248.0 1110.6 2254.1C1115.7 2260.2 1118.3 2265.8 1125.9 2275.5C1133.6 2285.2 1146.3 2301.5 1156.5 2312.2C1166.7 2323.0 1174.9 2330.9 1187.1 2339.8C1199.4 2348.7 1222.9 2361.5 1230.0 2365.8" fill="none" stroke="#000" stroke-width="5.8"/>
<line x1="934.6" y1="2255.6" x2="1083.1" y2="2255.6" stroke="#7b3a33" stroke-width="3.6" stroke-linecap="butt"/><line x1="934.6" y1="2248.9" x2="934.6" y2="2262.3" stroke="#7b3a33" stroke-width="3.6" stroke-linecap="butt"/><line x1="1083.1" y1="2248.9" x2="1083.1" y2="2262.3" stroke="#7b3a33" stroke-width="3.6" stroke-linecap="butt"/>
<line x1="934.6" y1="2283.2" x2="1083.1" y2="2283.2" stroke="#8a3fd9" stroke-width="4.2" stroke-dasharray="12 7.5" stroke-linecap="butt"/><line x1="934.6" y1="2276.4" x2="934.6" y2="2289.9" stroke="#8a3fd9" stroke-width="4.2" stroke-linecap="butt"/><line x1="1083.1" y1="2276.4" x2="1083.1" y2="2289.9" stroke="#8a3fd9" stroke-width="4.2" stroke-linecap="butt"/>
<line x1="933.1" y1="2314.7" x2="1158.1" y2="2314.7" stroke="#7b3a33" stroke-width="3.6" stroke-linecap="butt"/><line x1="933.1" y1="2308.6" x2="933.1" y2="2320.8" stroke="#7b3a33" stroke-width="3.6" stroke-linecap="butt"/><line x1="1158.1" y1="2308.6" x2="1158.1" y2="2320.8" stroke="#7b3a33" stroke-width="3.6" stroke-linecap="butt"/>
<line x1="1082.4" y1="2342.2" x2="1158.1" y2="2342.2" stroke="#8a3fd9" stroke-width="4.2" stroke-dasharray="12 7.5" stroke-linecap="butt"/><line x1="1082.4" y1="2336.1" x2="1082.4" y2="2348.4" stroke="#8a3fd9" stroke-width="4.2" stroke-linecap="butt"/><line x1="1158.1" y1="2336.1" x2="1158.1" y2="2348.4" stroke="#8a3fd9" stroke-width="4.2" stroke-linecap="butt"/>
<line x1="1082.4" y1="2377.1" x2="1157.1" y2="2377.1" stroke="#7b3a33" stroke-width="3.6" stroke-linecap="butt"/><line x1="1082.4" y1="2370.4" x2="1082.4" y2="2383.9" stroke="#7b3a33" stroke-width="3.6" stroke-linecap="butt"/><line x1="1157.1" y1="2370.4" x2="1157.1" y2="2383.9" stroke="#7b3a33" stroke-width="3.6" stroke-linecap="butt"/>
<line x1="934.6" y1="2391.2" x2="1113.1" y2="2391.2" stroke="#c0474a" stroke-width="3.6" stroke-linecap="butt"/>
<line x1="1113.1" y1="2384.2" x2="1113.1" y2="2398.6" stroke="#c0474a" stroke-width="3.6" stroke-linecap="butt"/>
<line x1="934.6" y1="2384.2" x2="934.6" y2="2394.9" stroke="#c0474a" stroke-width="3.6" stroke-linecap="butt"/>
<line x1="934.6" y1="2395.8" x2="1023.4" y2="2395.8" stroke="#6fb09c" stroke-width="5" stroke-linecap="butt"/>
<line x1="1023.4" y1="2388.8" x2="1023.4" y2="2402.6" stroke="#6fb09c" stroke-width="4" stroke-linecap="butt"/>
<line x1="934.6" y1="2390.3" x2="934.6" y2="2402.6" stroke="#6fb09c" stroke-width="4" stroke-linecap="butt"/>
<line x1="934.6" y1="2400.7" x2="1171.8" y2="2400.7" stroke="#6a8ccb" stroke-width="3.6" stroke-linecap="butt"/>
<line x1="1171.8" y1="2393.4" x2="1171.8" y2="2407.8" stroke="#6a8ccb" stroke-width="4" stroke-linecap="butt"/>
<line x1="934.6" y1="2398.0" x2="934.6" y2="2407.8" stroke="#6a8ccb" stroke-width="4" stroke-linecap="butt"/>
<path d="M931.5 2373.5C935.4 2372.7 946.6 2370.0 954.5 2368.9C962.4 2367.8 970.8 2366.4 979.0 2366.7C987.1 2367.1 996.3 2367.8 1003.5 2371.0C1010.6 2374.3 1018.8 2383.8 1021.8 2386.3" fill="none" stroke="#c0474a" stroke-width="2.4" stroke-dasharray="2.4 6"/>
<g font-family="'Liberation Serif',serif" font-style="italic" font-size="20.5" fill="#111" letter-spacing="1.6">
<text x="967.3" y="2244.9">r<tspan font-size="12" dy="-9">b</tspan><tspan font-size="12" dy="14" dx="-6">x</tspan><tspan dy="-5" font-style="normal"> = </tspan>J<tspan font-size="12.5" dy="5">E</tspan><tspan font-size="12.5" font-style="normal">(</tspan><tspan font-size="12.5">x</tspan><tspan font-size="12.5" font-style="normal">)</tspan></text>
<text x="1001.9" y="2306.1">r<tspan font-size="12" dy="5">x</tspan><tspan dy="-5" font-style="normal"> = 𝔼(</tspan>J<tspan font-size="12" dy="5">x</tspan><tspan dy="-5" font-style="normal">)</tspan></text>
<text x="1070.8" y="2364.3">r<tspan font-size="12" dy="-9">v</tspan><tspan font-size="12" dy="14" dx="-6">x</tspan><tspan dy="-5" font-style="normal"> = </tspan>r<tspan font-size="12" dy="5">x</tspan><tspan dy="-5" font-style="normal"> − </tspan>r<tspan font-size="12" dy="-9">b</tspan><tspan font-size="12" dy="14" dx="-6">x</tspan></text>
</g>
<g font-family="'Liberation Serif',serif" font-weight="bold" font-size="16.5" fill="#8a3fd9">
<text x="988.2" y="2273.4" textLength="40" lengthAdjust="spacingAndGlyphs">mean</text>
<text x="1085.5" y="2333.1" textLength="67.5" lengthAdjust="spacingAndGlyphs">variation</text>
</g>
<line x1="997.3" y1="2284.7" x2="1049.4" y2="2447.6" stroke="#7030a0" stroke-width="5" stroke-linecap="round"/><line x1="1049.4" y1="2447.6" x2="1035.8" y2="2434.3" stroke="#7030a0" stroke-width="5" stroke-linecap="round"/><line x1="1049.4" y1="2447.6" x2="1052.8" y2="2428.9" stroke="#7030a0" stroke-width="5" stroke-linecap="round"/>
<line x1="1118.3" y1="2345.9" x2="1051.2" y2="2447.6" stroke="#7030a0" stroke-width="5" stroke-linecap="round"/><line x1="1051.2" y1="2447.6" x2="1053.0" y2="2428.6" stroke="#7030a0" stroke-width="5" stroke-linecap="round"/><line x1="1051.2" y1="2447.6" x2="1067.9" y2="2438.5" stroke="#7030a0" stroke-width="5" stroke-linecap="round"/>
<line x1="1155.9" y1="2313.8" x2="1218.7" y2="2192.2" stroke="#7f6000" stroke-width="4.4" stroke-linecap="round"/><line x1="1218.7" y1="2192.2" x2="1218.2" y2="2211.2" stroke="#7f6000" stroke-width="4.4" stroke-linecap="round"/><line x1="1218.7" y1="2192.2" x2="1203.4" y2="2203.6" stroke="#7f6000" stroke-width="4.4" stroke-linecap="round"/>
<rect x="843" y="2680.5" width="130.5" height="130.5" fill="#fff"/><path d="M843.00 2680.50h22.43v3.33h-22.43zM874.83 2680.50h9.70v3.33h-9.70zM890.74 2680.50h3.33v3.33h-3.33zM906.66 2680.50h6.52v3.33h-6.52zM916.21 2680.50h19.25v3.33h-19.25zM944.85 2680.50h3.33v3.33h-3.33zM951.22 2680.50h22.43v3.33h-22.43zM843.00 2683.68h3.33v3.33h-3.33zM862.10 2683.68h3.33v3.33h-3.33zM871.65 2683.68h6.52v3.33h-6.52zM881.20 2683.68h3.33v3.33h-3.33zM887.56 2683.68h6.52v3.33h-6.52zM900.29 2683.68h9.70v3.33h-9.70zM916.21 2683.68h12.88v3.33h-12.88zM932.12 2683.68h3.33v3.33h-3.33zM938.49 2683.68h6.52v3.33h-6.52zM951.22 2683.68h3.33v3.33h-3.33zM970.32 2683.68h3.33v3.33h-3.33zM843.00 2686.87h3.33v3.33h-3.33zM849.37 2686.87h9.70v3.33h-9.70zM862.10 2686.87h3.33v3.33h-3.33zM868.46 2686.87h6.52v3.33h-6.52zM878.01 2686.87h12.88v3.33h-12.88zM893.93 2686.87h3.33v3.33h-3.33zM900.29 2686.87h6.52v3.33h-6.52zM909.84 2686.87h3.33v3.33h-3.33zM919.39 2686.87h6.52v3.33h-6.52zM932.12 2686.87h6.52v3.33h-6.52zM944.85 2686.87h3.33v3.33h-3.33zM951.22 2686.87h3.33v3.33h-3.33zM957.59 2686.87h9.70v3.33h-9.70zM970.32 2686.87h3.33v3.33h-3.33zM843.00 2690.05h3.33v3.33h-3.33zM849.37 2690.05h9.70v3.33h-9.70zM862.10 2690.05h3.33v3.33h-3.33zM868.46 2690.05h3.33v3.33h-3.33zM881.20 2690.05h3.33v3.33h-3.33zM887.56 2690.05h22.43v3.33h-22.43zM913.02 2690.05h6.52v3.33h-6.52zM935.30 2690.05h9.70v3.33h-9.70zM951.22 2690.05h3.33v3.33h-3.33zM957.59 2690.05h9.70v3.33h-9.70zM970.32 2690.05h3.33v3.33h-3.33zM843.00 2693.23h3.33v3.33h-3.33zM849.37 2693.23h9.70v3.33h-9.70zM862.10 2693.23h3.33v3.33h-3.33zM868.46 2693.23h3.33v3.33h-3.33zM881.20 2693.23h3.33v3.33h-3.33zM897.11 2693.23h3.33v3.33h-3.33zM906.66 2693.23h3.33v3.33h-3.33zM922.57 2693.23h3.33v3.33h-3.33zM932.12 2693.23h3.33v3.33h-3.33zM938.49 2693.23h3.33v3.33h-3.33zM944.85 2693.23h3.33v3.33h-3.33zM951.22 2693.23h3.33v3.33h-3.33zM957.59 2693.23h9.70v3.33h-9.70zM970.32 2693.23h3.33v3.33h-3.33zM843.00 2696.41h3.33v3.33h-3.33zM862.10 2696.41h3.33v3.33h-3.33zM871.65 2696.41h3.33v3.33h-3.33zM878.01 2696.41h6.52v3.33h-6.52zM893.93 2696.41h3.33v3.33h-3.33zM900.29 2696.41h9.70v3.33h-9.70zM922.57 2696.41h19.25v3.33h-19.25zM944.85 2696.41h3.33v3.33h-3.33zM951.22 2696.41h3.33v3.33h-3.33zM970.32 2696.41h3.33v3.33h-3.33zM843.00 2699.60h22.43v3.33h-22.43zM871.65 2699.60h9.70v3.33h-9.70zM884.38 2699.60h3.33v3.33h-3.33zM903.48 2699.60h16.06v3.33h-16.06zM922.57 2699.60h9.70v3.33h-9.70zM944.85 2699.60h3.33v3.33h-3.33zM951.22 2699.60h22.43v3.33h-22.43zM868.46 2702.78h3.33v3.33h-3.33zM884.38 2702.78h3.33v3.33h-3.33zM903.48 2702.78h3.33v3.33h-3.33zM913.02 2702.78h9.70v3.33h-9.70zM928.94 2702.78h6.52v3.33h-6.52zM938.49 2702.78h3.33v3.33h-3.33zM944.85 2702.78h3.33v3.33h-3.33zM846.18 2705.96h3.33v3.33h-3.33zM852.55 2705.96h6.52v3.33h-6.52zM862.10 2705.96h3.33v3.33h-3.33zM881.20 2705.96h6.52v3.33h-6.52zM893.93 2705.96h3.33v3.33h-3.33zM909.84 2705.96h3.33v3.33h-3.33zM922.57 2705.96h3.33v3.33h-3.33zM932.12 2705.96h3.33v3.33h-3.33zM941.67 2705.96h3.33v3.33h-3.33zM948.04 2705.96h3.33v3.33h-3.33zM954.40 2705.96h3.33v3.33h-3.33zM963.95 2705.96h9.70v3.33h-9.70zM843.00 2709.15h3.33v3.33h-3.33zM852.55 2709.15h9.70v3.33h-9.70zM868.46 2709.15h3.33v3.33h-3.33zM874.83 2709.15h9.70v3.33h-9.70zM887.56 2709.15h6.52v3.33h-6.52zM897.11 2709.15h3.33v3.33h-3.33zM903.48 2709.15h3.33v3.33h-3.33zM909.84 2709.15h6.52v3.33h-6.52zM919.39 2709.15h9.70v3.33h-9.70zM932.12 2709.15h6.52v3.33h-6.52zM957.59 2709.15h3.33v3.33h-3.33zM970.32 2709.15h3.33v3.33h-3.33zM843.00 2712.33h3.33v3.33h-3.33zM849.37 2712.33h3.33v3.33h-3.33zM858.91 2712.33h6.52v3.33h-6.52zM868.46 2712.33h6.52v3.33h-6.52zM878.01 2712.33h3.33v3.33h-3.33zM884.38 2712.33h6.52v3.33h-6.52zM893.93 2712.33h6.52v3.33h-6.52zM909.84 2712.33h3.33v3.33h-3.33zM925.76 2712.33h12.88v3.33h-12.88zM948.04 2712.33h9.70v3.33h-9.70zM967.13 2712.33h6.52v3.33h-6.52zM846.18 2715.51h3.33v3.33h-3.33zM852.55 2715.51h6.52v3.33h-6.52zM862.10 2715.51h3.33v3.33h-3.33zM868.46 2715.51h3.33v3.33h-3.33zM878.01 2715.51h6.52v3.33h-6.52zM887.56 2715.51h9.70v3.33h-9.70zM900.29 2715.51h3.33v3.33h-3.33zM919.39 2715.51h3.33v3.33h-3.33zM935.30 2715.51h3.33v3.33h-3.33zM951.22 2715.51h3.33v3.33h-3.33zM970.32 2715.51h3.33v3.33h-3.33zM846.18 2718.70h16.06v3.33h-16.06zM868.46 2718.70h3.33v3.33h-3.33zM878.01 2718.70h3.33v3.33h-3.33zM890.74 2718.70h3.33v3.33h-3.33zM909.84 2718.70h3.33v3.33h-3.33zM919.39 2718.70h22.43v3.33h-22.43zM967.13 2718.70h3.33v3.33h-3.33zM846.18 2721.88h3.33v3.33h-3.33zM852.55 2721.88h12.88v3.33h-12.88zM868.46 2721.88h3.33v3.33h-3.33zM874.83 2721.88h3.33v3.33h-3.33zM884.38 2721.88h6.52v3.33h-6.52zM897.11 2721.88h3.33v3.33h-3.33zM903.48 2721.88h16.06v3.33h-16.06zM922.57 2721.88h3.33v3.33h-3.33zM932.12 2721.88h3.33v3.33h-3.33zM941.67 2721.88h3.33v3.33h-3.33zM948.04 2721.88h6.52v3.33h-6.52zM957.59 2721.88h3.33v3.33h-3.33zM970.32 2721.88h3.33v3.33h-3.33zM852.55 2725.06h3.33v3.33h-3.33zM858.91 2725.06h9.70v3.33h-9.70zM871.65 2725.06h6.52v3.33h-6.52zM881.20 2725.06h6.52v3.33h-6.52zM890.74 2725.06h3.33v3.33h-3.33zM909.84 2725.06h6.52v3.33h-6.52zM925.76 2725.06h6.52v3.33h-6.52zM948.04 2725.06h6.52v3.33h-6.52zM963.95 2725.06h9.70v3.33h-9.70zM843.00 2728.24h3.33v3.33h-3.33zM849.37 2728.24h3.33v3.33h-3.33zM855.73 2728.24h6.52v3.33h-6.52zM871.65 2728.24h12.88v3.33h-12.88zM890.74 2728.24h6.52v3.33h-6.52zM906.66 2728.24h9.70v3.33h-9.70zM919.39 2728.24h3.33v3.33h-3.33zM928.94 2728.24h3.33v3.33h-3.33zM941.67 2728.24h9.70v3.33h-9.70zM954.40 2728.24h6.52v3.33h-6.52zM963.95 2728.24h3.33v3.33h-3.33zM970.32 2728.24h3.33v3.33h-3.33zM846.18 2731.43h6.52v3.33h-6.52zM855.73 2731.43h6.52v3.33h-6.52zM868.46 2731.43h9.70v3.33h-9.70zM881.20 2731.43h6.52v3.33h-6.52zM903.48 2731.43h3.33v3.33h-3.33zM909.84 2731.43h9.70v3.33h-9.70zM925.76 2731.43h22.43v3.33h-22.43zM963.95 2731.43h3.33v3.33h-3.33zM843.00 2734.61h6.52v3.33h-6.52zM868.46 2734.61h3.33v3.33h-3.33zM878.01 2734.61h6.52v3.33h-6.52zM890.74 2734.61h3.33v3.33h-3.33zM897.11 2734.61h3.33v3.33h-3.33zM906.66 2734.61h6.52v3.33h-6.52zM922.57 2734.61h6.52v3.33h-6.52zM935.30 2734.61h3.33v3.33h-3.33zM951.22 2734.61h3.33v3.33h-3.33zM858.91 2737.79h9.70v3.33h-9.70zM874.83 2737.79h16.06v3.33h-16.06zM893.93 2737.79h9.70v3.33h-9.70zM909.84 2737.79h9.70v3.33h-9.70zM925.76 2737.79h16.06v3.33h-16.06zM948.04 2737.79h12.88v3.33h-12.88zM963.95 2737.79h3.33v3.33h-3.33zM843.00 2740.98h6.52v3.33h-6.52zM855.73 2740.98h3.33v3.33h-3.33zM865.28 2740.98h9.70v3.33h-9.70zM881.20 2740.98h3.33v3.33h-3.33zM890.74 2740.98h3.33v3.33h-3.33zM900.29 2740.98h12.88v3.33h-12.88zM922.57 2740.98h12.88v3.33h-12.88zM948.04 2740.98h3.33v3.33h-3.33zM954.40 2740.98h3.33v3.33h-3.33zM960.77 2740.98h3.33v3.33h-3.33zM843.00 2744.16h6.52v3.33h-6.52zM852.55 2744.16h9.70v3.33h-9.70zM871.65 2744.16h3.33v3.33h-3.33zM878.01 2744.16h3.33v3.33h-3.33zM884.38 2744.16h3.33v3.33h-3.33zM890.74 2744.16h3.33v3.33h-3.33zM900.29 2744.16h3.33v3.33h-3.33zM906.66 2744.16h16.06v3.33h-16.06zM925.76 2744.16h3.33v3.33h-3.33zM932.12 2744.16h9.70v3.33h-9.70zM951.22 2744.16h6.52v3.33h-6.52zM960.77 2744.16h3.33v3.33h-3.33zM967.13 2744.16h6.52v3.33h-6.52zM849.37 2747.34h3.33v3.33h-3.33zM855.73 2747.34h6.52v3.33h-6.52zM865.28 2747.34h9.70v3.33h-9.70zM878.01 2747.34h6.52v3.33h-6.52zM887.56 2747.34h3.33v3.33h-3.33zM900.29 2747.34h3.33v3.33h-3.33zM906.66 2747.34h9.70v3.33h-9.70zM922.57 2747.34h6.52v3.33h-6.52zM935.30 2747.34h19.25v3.33h-19.25zM957.59 2747.34h3.33v3.33h-3.33zM843.00 2750.52h16.06v3.33h-16.06zM874.83 2750.52h9.70v3.33h-9.70zM887.56 2750.52h6.52v3.33h-6.52zM906.66 2750.52h3.33v3.33h-3.33zM919.39 2750.52h3.33v3.33h-3.33zM925.76 2750.52h3.33v3.33h-3.33zM944.85 2750.52h3.33v3.33h-3.33zM954.40 2750.52h9.70v3.33h-9.70zM970.32 2750.52h3.33v3.33h-3.33zM846.18 2753.71h9.70v3.33h-9.70zM858.91 2753.71h3.33v3.33h-3.33zM874.83 2753.71h3.33v3.33h-3.33zM890.74 2753.71h3.33v3.33h-3.33zM897.11 2753.71h3.33v3.33h-3.33zM903.48 2753.71h3.33v3.33h-3.33zM913.02 2753.71h3.33v3.33h-3.33zM919.39 2753.71h9.70v3.33h-9.70zM938.49 2753.71h3.33v3.33h-3.33zM948.04 2753.71h3.33v3.33h-3.33zM957.59 2753.71h16.06v3.33h-16.06zM846.18 2756.89h3.33v3.33h-3.33zM852.55 2756.89h3.33v3.33h-3.33zM858.91 2756.89h3.33v3.33h-3.33zM865.28 2756.89h3.33v3.33h-3.33zM871.65 2756.89h3.33v3.33h-3.33zM881.20 2756.89h6.52v3.33h-6.52zM900.29 2756.89h3.33v3.33h-3.33zM913.02 2756.89h6.52v3.33h-6.52zM932.12 2756.89h3.33v3.33h-3.33zM938.49 2756.89h6.52v3.33h-6.52zM960.77 2756.89h3.33v3.33h-3.33zM967.13 2756.89h6.52v3.33h-6.52zM843.00 2760.07h3.33v3.33h-3.33zM849.37 2760.07h6.52v3.33h-6.52zM862.10 2760.07h16.06v3.33h-16.06zM890.74 2760.07h3.33v3.33h-3.33zM897.11 2760.07h3.33v3.33h-3.33zM909.84 2760.07h3.33v3.33h-3.33zM916.21 2760.07h3.33v3.33h-3.33zM925.76 2760.07h16.06v3.33h-16.06zM948.04 2760.07h6.52v3.33h-6.52zM957.59 2760.07h6.52v3.33h-6.52zM967.13 2760.07h6.52v3.33h-6.52zM849.37 2763.26h9.70v3.33h-9.70zM865.28 2763.26h3.33v3.33h-3.33zM871.65 2763.26h9.70v3.33h-9.70zM887.56 2763.26h3.33v3.33h-3.33zM893.93 2763.26h3.33v3.33h-3.33zM900.29 2763.26h6.52v3.33h-6.52zM909.84 2763.26h3.33v3.33h-3.33zM922.57 2763.26h3.33v3.33h-3.33zM932.12 2763.26h12.88v3.33h-12.88zM948.04 2763.26h9.70v3.33h-9.70zM963.95 2763.26h3.33v3.33h-3.33zM846.18 2766.44h6.52v3.33h-6.52zM858.91 2766.44h3.33v3.33h-3.33zM865.28 2766.44h3.33v3.33h-3.33zM871.65 2766.44h3.33v3.33h-3.33zM881.20 2766.44h3.33v3.33h-3.33zM887.56 2766.44h6.52v3.33h-6.52zM897.11 2766.44h6.52v3.33h-6.52zM906.66 2766.44h6.52v3.33h-6.52zM916.21 2766.44h3.33v3.33h-3.33zM925.76 2766.44h6.52v3.33h-6.52zM935.30 2766.44h3.33v3.33h-3.33zM941.67 2766.44h6.52v3.33h-6.52zM954.40 2766.44h3.33v3.33h-3.33zM852.55 2769.62h3.33v3.33h-3.33zM858.91 2769.62h3.33v3.33h-3.33zM865.28 2769.62h6.52v3.33h-6.52zM881.20 2769.62h9.70v3.33h-9.70zM893.93 2769.62h6.52v3.33h-6.52zM913.02 2769.62h22.43v3.33h-22.43zM938.49 2769.62h3.33v3.33h-3.33zM954.40 2769.62h16.06v3.33h-16.06zM846.18 2772.80h3.33v3.33h-3.33zM852.55 2772.80h3.33v3.33h-3.33zM858.91 2772.80h9.70v3.33h-9.70zM878.01 2772.80h12.88v3.33h-12.88zM893.93 2772.80h6.52v3.33h-6.52zM906.66 2772.80h6.52v3.33h-6.52zM916.21 2772.80h6.52v3.33h-6.52zM925.76 2772.80h19.25v3.33h-19.25zM954.40 2772.80h6.52v3.33h-6.52zM963.95 2772.80h6.52v3.33h-6.52zM843.00 2775.99h6.52v3.33h-6.52zM855.73 2775.99h6.52v3.33h-6.52zM865.28 2775.99h6.52v3.33h-6.52zM884.38 2775.99h6.52v3.33h-6.52zM893.93 2775.99h3.33v3.33h-3.33zM900.29 2775.99h9.70v3.33h-9.70zM913.02 2775.99h19.25v3.33h-19.25zM941.67 2775.99h9.70v3.33h-9.70zM954.40 2775.99h19.25v3.33h-19.25zM849.37 2779.17h9.70v3.33h-9.70zM862.10 2779.17h3.33v3.33h-3.33zM874.83 2779.17h12.88v3.33h-12.88zM890.74 2779.17h3.33v3.33h-3.33zM900.29 2779.17h16.06v3.33h-16.06zM919.39 2779.17h9.70v3.33h-9.70zM932.12 2779.17h3.33v3.33h-3.33zM938.49 2779.17h3.33v3.33h-3.33zM948.04 2779.17h9.70v3.33h-9.70zM960.77 2779.17h6.52v3.33h-6.52zM970.32 2779.17h3.33v3.33h-3.33zM843.00 2782.35h16.06v3.33h-16.06zM871.65 2782.35h3.33v3.33h-3.33zM881.20 2782.35h3.33v3.33h-3.33zM897.11 2782.35h3.33v3.33h-3.33zM903.48 2782.35h38.35v3.33h-38.35zM944.85 2782.35h16.06v3.33h-16.06zM868.46 2785.54h16.06v3.33h-16.06zM890.74 2785.54h3.33v3.33h-3.33zM897.11 2785.54h6.52v3.33h-6.52zM909.84 2785.54h3.33v3.33h-3.33zM928.94 2785.54h9.70v3.33h-9.70zM944.85 2785.54h3.33v3.33h-3.33zM957.59 2785.54h9.70v3.33h-9.70zM970.32 2785.54h3.33v3.33h-3.33zM843.00 2788.72h22.43v3.33h-22.43zM868.46 2788.72h3.33v3.33h-3.33zM890.74 2788.72h6.52v3.33h-6.52zM900.29 2788.72h3.33v3.33h-3.33zM919.39 2788.72h3.33v3.33h-3.33zM925.76 2788.72h3.33v3.33h-3.33zM932.12 2788.72h6.52v3.33h-6.52zM944.85 2788.72h3.33v3.33h-3.33zM951.22 2788.72h3.33v3.33h-3.33zM957.59 2788.72h16.06v3.33h-16.06zM843.00 2791.90h3.33v3.33h-3.33zM862.10 2791.90h3.33v3.33h-3.33zM868.46 2791.90h6.52v3.33h-6.52zM881.20 2791.90h3.33v3.33h-3.33zM887.56 2791.90h3.33v3.33h-3.33zM893.93 2791.90h6.52v3.33h-6.52zM913.02 2791.90h3.33v3.33h-3.33zM928.94 2791.90h6.52v3.33h-6.52zM938.49 2791.90h9.70v3.33h-9.70zM957.59 2791.90h3.33v3.33h-3.33zM963.95 2791.90h3.33v3.33h-3.33zM970.32 2791.90h3.33v3.33h-3.33zM843.00 2795.09h3.33v3.33h-3.33zM849.37 2795.09h9.70v3.33h-9.70zM862.10 2795.09h3.33v3.33h-3.33zM871.65 2795.09h9.70v3.33h-9.70zM884.38 2795.09h9.70v3.33h-9.70zM900.29 2795.09h6.52v3.33h-6.52zM916.21 2795.09h3.33v3.33h-3.33zM928.94 2795.09h9.70v3.33h-9.70zM941.67 2795.09h22.43v3.33h-22.43zM967.13 2795.09h6.52v3.33h-6.52zM843.00 2798.27h3.33v3.33h-3.33zM849.37 2798.27h9.70v3.33h-9.70zM862.10 2798.27h3.33v3.33h-3.33zM868.46 2798.27h6.52v3.33h-6.52zM878.01 2798.27h3.33v3.33h-3.33zM884.38 2798.27h6.52v3.33h-6.52zM893.93 2798.27h6.52v3.33h-6.52zM909.84 2798.27h3.33v3.33h-3.33zM922.57 2798.27h3.33v3.33h-3.33zM932.12 2798.27h19.25v3.33h-19.25zM954.40 2798.27h3.33v3.33h-3.33zM960.77 2798.27h6.52v3.33h-6.52zM970.32 2798.27h3.33v3.33h-3.33zM843.00 2801.45h3.33v3.33h-3.33zM849.37 2801.45h9.70v3.33h-9.70zM862.10 2801.45h3.33v3.33h-3.33zM871.65 2801.45h3.33v3.33h-3.33zM878.01 2801.45h3.33v3.33h-3.33zM884.38 2801.45h3.33v3.33h-3.33zM890.74 2801.45h3.33v3.33h-3.33zM897.11 2801.45h9.70v3.33h-9.70zM913.02 2801.45h3.33v3.33h-3.33zM919.39 2801.45h6.52v3.33h-6.52zM928.94 2801.45h9.70v3.33h-9.70zM941.67 2801.45h3.33v3.33h-3.33zM954.40 2801.45h19.25v3.33h-19.25zM843.00 2804.63h3.33v3.33h-3.33zM862.10 2804.63h3.33v3.33h-3.33zM871.65 2804.63h3.33v3.33h-3.33zM878.01 2804.63h3.33v3.33h-3.33zM884.38 2804.63h6.52v3.33h-6.52zM893.93 2804.63h6.52v3.33h-6.52zM906.66 2804.63h9.70v3.33h-9.70zM919.39 2804.63h3.33v3.33h-3.33zM925.76 2804.63h3.33v3.33h-3.33zM932.12 2804.63h3.33v3.33h-3.33zM954.40 2804.63h3.33v3.33h-3.33zM963.95 2804.63h3.33v3.33h-3.33zM970.32 2804.63h3.33v3.33h-3.33zM843.00 2807.82h22.43v3.33h-22.43zM878.01 2807.82h6.52v3.33h-6.52zM890.74 2807.82h3.33v3.33h-3.33zM900.29 2807.82h3.33v3.33h-3.33zM906.66 2807.82h3.33v3.33h-3.33zM913.02 2807.82h6.52v3.33h-6.52zM941.67 2807.82h3.33v3.33h-3.33zM951.22 2807.82h3.33v3.33h-3.33zM957.59 2807.82h3.33v3.33h-3.33zM967.13 2807.82h6.52v3.33h-6.52z" fill="#000"/>
<rect x="1016" y="2680.5" width="131" height="131" fill="#fff"/><path d="M1016.00 2680.50h22.52v3.35h-22.52zM1041.56 2680.50h19.32v3.35h-19.32zM1063.93 2680.50h3.35v3.35h-3.35zM1073.51 2680.50h6.54v3.35h-6.54zM1095.88 2680.50h3.35v3.35h-3.35zM1102.27 2680.50h3.35v3.35h-3.35zM1111.85 2680.50h9.74v3.35h-9.74zM1124.63 2680.50h22.52v3.35h-22.52zM1016.00 2683.70h3.35v3.35h-3.35zM1035.17 2683.70h3.35v3.35h-3.35zM1041.56 2683.70h9.74v3.35h-9.74zM1057.54 2683.70h6.54v3.35h-6.54zM1073.51 2683.70h3.35v3.35h-3.35zM1089.49 2683.70h3.35v3.35h-3.35zM1095.88 2683.70h9.74v3.35h-9.74zM1124.63 2683.70h3.35v3.35h-3.35zM1143.80 2683.70h3.35v3.35h-3.35zM1016.00 2686.89h3.35v3.35h-3.35zM1022.39 2686.89h9.74v3.35h-9.74zM1035.17 2686.89h3.35v3.35h-3.35zM1047.95 2686.89h6.54v3.35h-6.54zM1057.54 2686.89h6.54v3.35h-6.54zM1076.71 2686.89h3.35v3.35h-3.35zM1089.49 2686.89h9.74v3.35h-9.74zM1111.85 2686.89h3.35v3.35h-3.35zM1118.24 2686.89h3.35v3.35h-3.35zM1124.63 2686.89h3.35v3.35h-3.35zM1131.02 2686.89h9.74v3.35h-9.74zM1143.80 2686.89h3.35v3.35h-3.35zM1016.00 2690.09h3.35v3.35h-3.35zM1022.39 2690.09h9.74v3.35h-9.74zM1035.17 2690.09h3.35v3.35h-3.35zM1044.76 2690.09h3.35v3.35h-3.35zM1051.15 2690.09h12.93v3.35h-12.93zM1067.12 2690.09h3.35v3.35h-3.35zM1083.10 2690.09h3.35v3.35h-3.35zM1089.49 2690.09h3.35v3.35h-3.35zM1099.07 2690.09h3.35v3.35h-3.35zM1111.85 2690.09h9.74v3.35h-9.74zM1124.63 2690.09h3.35v3.35h-3.35zM1131.02 2690.09h9.74v3.35h-9.74zM1143.80 2690.09h3.35v3.35h-3.35zM1016.00 2693.28h3.35v3.35h-3.35zM1022.39 2693.28h9.74v3.35h-9.74zM1035.17 2693.28h3.35v3.35h-3.35zM1041.56 2693.28h6.54v3.35h-6.54zM1051.15 2693.28h3.35v3.35h-3.35zM1057.54 2693.28h3.35v3.35h-3.35zM1063.93 2693.28h3.35v3.35h-3.35zM1073.51 2693.28h3.35v3.35h-3.35zM1079.90 2693.28h9.74v3.35h-9.74zM1092.68 2693.28h3.35v3.35h-3.35zM1099.07 2693.28h3.35v3.35h-3.35zM1105.46 2693.28h6.54v3.35h-6.54zM1118.24 2693.28h3.35v3.35h-3.35zM1124.63 2693.28h3.35v3.35h-3.35zM1131.02 2693.28h9.74v3.35h-9.74zM1143.80 2693.28h3.35v3.35h-3.35zM1016.00 2696.48h3.35v3.35h-3.35zM1035.17 2696.48h3.35v3.35h-3.35zM1041.56 2696.48h3.35v3.35h-3.35zM1047.95 2696.48h9.74v3.35h-9.74zM1067.12 2696.48h6.54v3.35h-6.54zM1083.10 2696.48h3.35v3.35h-3.35zM1095.88 2696.48h6.54v3.35h-6.54zM1108.66 2696.48h6.54v3.35h-6.54zM1124.63 2696.48h3.35v3.35h-3.35zM1143.80 2696.48h3.35v3.35h-3.35zM1016.00 2699.67h22.52v3.35h-22.52zM1051.15 2699.67h3.35v3.35h-3.35zM1067.12 2699.67h6.54v3.35h-6.54zM1076.71 2699.67h16.13v3.35h-16.13zM1105.46 2699.67h6.54v3.35h-6.54zM1115.05 2699.67h3.35v3.35h-3.35zM1124.63 2699.67h22.52v3.35h-22.52zM1041.56 2702.87h6.54v3.35h-6.54zM1054.34 2702.87h3.35v3.35h-3.35zM1060.73 2702.87h3.35v3.35h-3.35zM1073.51 2702.87h3.35v3.35h-3.35zM1086.29 2702.87h3.35v3.35h-3.35zM1095.88 2702.87h3.35v3.35h-3.35zM1102.27 2702.87h6.54v3.35h-6.54zM1019.20 2706.06h3.35v3.35h-3.35zM1025.59 2706.06h9.74v3.35h-9.74zM1038.37 2706.06h3.35v3.35h-3.35zM1044.76 2706.06h3.35v3.35h-3.35zM1067.12 2706.06h3.35v3.35h-3.35zM1073.51 2706.06h3.35v3.35h-3.35zM1086.29 2706.06h3.35v3.35h-3.35zM1092.68 2706.06h6.54v3.35h-6.54zM1108.66 2706.06h3.35v3.35h-3.35zM1118.24 2706.06h6.54v3.35h-6.54zM1134.22 2706.06h3.35v3.35h-3.35zM1031.98 2709.26h3.35v3.35h-3.35zM1051.15 2709.26h3.35v3.35h-3.35zM1057.54 2709.26h6.54v3.35h-6.54zM1073.51 2709.26h9.74v3.35h-9.74zM1086.29 2709.26h6.54v3.35h-6.54zM1095.88 2709.26h6.54v3.35h-6.54zM1115.05 2709.26h3.35v3.35h-3.35zM1127.83 2709.26h6.54v3.35h-6.54zM1137.41 2709.26h3.35v3.35h-3.35zM1143.80 2709.26h3.35v3.35h-3.35zM1019.20 2712.45h12.93v3.35h-12.93zM1035.17 2712.45h3.35v3.35h-3.35zM1041.56 2712.45h3.35v3.35h-3.35zM1047.95 2712.45h3.35v3.35h-3.35zM1057.54 2712.45h3.35v3.35h-3.35zM1070.32 2712.45h3.35v3.35h-3.35zM1095.88 2712.45h6.54v3.35h-6.54zM1124.63 2712.45h3.35v3.35h-3.35zM1134.22 2712.45h12.93v3.35h-12.93zM1016.00 2715.65h16.13v3.35h-16.13zM1044.76 2715.65h6.54v3.35h-6.54zM1054.34 2715.65h3.35v3.35h-3.35zM1060.73 2715.65h3.35v3.35h-3.35zM1067.12 2715.65h6.54v3.35h-6.54zM1079.90 2715.65h3.35v3.35h-3.35zM1099.07 2715.65h3.35v3.35h-3.35zM1111.85 2715.65h3.35v3.35h-3.35zM1124.63 2715.65h9.74v3.35h-9.74zM1137.41 2715.65h9.74v3.35h-9.74zM1016.00 2718.84h6.54v3.35h-6.54zM1025.59 2718.84h6.54v3.35h-6.54zM1035.17 2718.84h3.35v3.35h-3.35zM1044.76 2718.84h3.35v3.35h-3.35zM1067.12 2718.84h3.35v3.35h-3.35zM1095.88 2718.84h6.54v3.35h-6.54zM1111.85 2718.84h6.54v3.35h-6.54zM1124.63 2718.84h6.54v3.35h-6.54zM1137.41 2718.84h3.35v3.35h-3.35zM1022.39 2722.04h3.35v3.35h-3.35zM1028.78 2722.04h3.35v3.35h-3.35zM1035.17 2722.04h3.35v3.35h-3.35zM1041.56 2722.04h16.13v3.35h-16.13zM1063.93 2722.04h3.35v3.35h-3.35zM1070.32 2722.04h6.54v3.35h-6.54zM1079.90 2722.04h16.13v3.35h-16.13zM1099.07 2722.04h3.35v3.35h-3.35zM1105.46 2722.04h3.35v3.35h-3.35zM1111.85 2722.04h6.54v3.35h-6.54zM1121.44 2722.04h12.93v3.35h-12.93zM1137.41 2722.04h3.35v3.35h-3.35zM1143.80 2722.04h3.35v3.35h-3.35zM1019.20 2725.23h22.52v3.35h-22.52zM1047.95 2725.23h3.35v3.35h-3.35zM1057.54 2725.23h6.54v3.35h-6.54zM1067.12 2725.23h3.35v3.35h-3.35zM1079.90 2725.23h9.74v3.35h-9.74zM1092.68 2725.23h3.35v3.35h-3.35zM1118.24 2725.23h6.54v3.35h-6.54zM1134.22 2725.23h3.35v3.35h-3.35zM1143.80 2725.23h3.35v3.35h-3.35zM1019.20 2728.43h6.54v3.35h-6.54zM1028.78 2728.43h3.35v3.35h-3.35zM1035.17 2728.43h3.35v3.35h-3.35zM1047.95 2728.43h6.54v3.35h-6.54zM1057.54 2728.43h12.93v3.35h-12.93zM1073.51 2728.43h12.93v3.35h-12.93zM1092.68 2728.43h3.35v3.35h-3.35zM1099.07 2728.43h3.35v3.35h-3.35zM1105.46 2728.43h3.35v3.35h-3.35zM1115.05 2728.43h9.74v3.35h-9.74zM1131.02 2728.43h3.35v3.35h-3.35zM1016.00 2731.62h3.35v3.35h-3.35zM1022.39 2731.62h6.54v3.35h-6.54zM1031.98 2731.62h12.93v3.35h-12.93zM1057.54 2731.62h3.35v3.35h-3.35zM1070.32 2731.62h3.35v3.35h-3.35zM1076.71 2731.62h6.54v3.35h-6.54zM1092.68 2731.62h3.35v3.35h-3.35zM1108.66 2731.62h3.35v3.35h-3.35zM1115.05 2731.62h3.35v3.35h-3.35zM1121.44 2731.62h3.35v3.35h-3.35zM1131.02 2731.62h9.74v3.35h-9.74zM1016.00 2734.82h6.54v3.35h-6.54zM1025.59 2734.82h3.35v3.35h-3.35zM1031.98 2734.82h6.54v3.35h-6.54zM1041.56 2734.82h6.54v3.35h-6.54zM1054.34 2734.82h16.13v3.35h-16.13zM1073.51 2734.82h3.35v3.35h-3.35zM1079.90 2734.82h3.35v3.35h-3.35zM1092.68 2734.82h3.35v3.35h-3.35zM1099.07 2734.82h3.35v3.35h-3.35zM1108.66 2734.82h3.35v3.35h-3.35zM1115.05 2734.82h9.74v3.35h-9.74zM1127.83 2734.82h3.35v3.35h-3.35zM1134.22 2734.82h6.54v3.35h-6.54zM1143.80 2734.82h3.35v3.35h-3.35zM1016.00 2738.01h3.35v3.35h-3.35zM1025.59 2738.01h3.35v3.35h-3.35zM1038.37 2738.01h6.54v3.35h-6.54zM1054.34 2738.01h16.13v3.35h-16.13zM1073.51 2738.01h9.74v3.35h-9.74zM1089.49 2738.01h3.35v3.35h-3.35zM1108.66 2738.01h12.93v3.35h-12.93zM1127.83 2738.01h3.35v3.35h-3.35zM1134.22 2738.01h12.93v3.35h-12.93zM1019.20 2741.21h3.35v3.35h-3.35zM1031.98 2741.21h3.35v3.35h-3.35zM1038.37 2741.21h6.54v3.35h-6.54zM1051.15 2741.21h3.35v3.35h-3.35zM1063.93 2741.21h3.35v3.35h-3.35zM1086.29 2741.21h3.35v3.35h-3.35zM1092.68 2741.21h3.35v3.35h-3.35zM1099.07 2741.21h3.35v3.35h-3.35zM1105.46 2741.21h3.35v3.35h-3.35zM1115.05 2741.21h3.35v3.35h-3.35zM1121.44 2741.21h9.74v3.35h-9.74zM1137.41 2741.21h3.35v3.35h-3.35zM1019.20 2744.40h3.35v3.35h-3.35zM1035.17 2744.40h6.54v3.35h-6.54zM1044.76 2744.40h44.88v3.35h-44.88zM1092.68 2744.40h9.74v3.35h-9.74zM1108.66 2744.40h3.35v3.35h-3.35zM1124.63 2744.40h6.54v3.35h-6.54zM1134.22 2744.40h3.35v3.35h-3.35zM1140.61 2744.40h3.35v3.35h-3.35zM1019.20 2747.60h3.35v3.35h-3.35zM1028.78 2747.60h6.54v3.35h-6.54zM1038.37 2747.60h38.49v3.35h-38.49zM1079.90 2747.60h6.54v3.35h-6.54zM1092.68 2747.60h3.35v3.35h-3.35zM1102.27 2747.60h3.35v3.35h-3.35zM1108.66 2747.60h16.13v3.35h-16.13zM1131.02 2747.60h3.35v3.35h-3.35zM1137.41 2747.60h3.35v3.35h-3.35zM1143.80 2747.60h3.35v3.35h-3.35zM1019.20 2750.79h3.35v3.35h-3.35zM1025.59 2750.79h9.74v3.35h-9.74zM1041.56 2750.79h25.71v3.35h-25.71zM1076.71 2750.79h19.32v3.35h-19.32zM1099.07 2750.79h3.35v3.35h-3.35zM1105.46 2750.79h3.35v3.35h-3.35zM1111.85 2750.79h3.35v3.35h-3.35zM1121.44 2750.79h6.54v3.35h-6.54zM1131.02 2750.79h3.35v3.35h-3.35zM1016.00 2753.99h3.35v3.35h-3.35zM1022.39 2753.99h3.35v3.35h-3.35zM1028.78 2753.99h3.35v3.35h-3.35zM1035.17 2753.99h3.35v3.35h-3.35zM1041.56 2753.99h6.54v3.35h-6.54zM1051.15 2753.99h6.54v3.35h-6.54zM1063.93 2753.99h3.35v3.35h-3.35zM1070.32 2753.99h3.35v3.35h-3.35zM1076.71 2753.99h6.54v3.35h-6.54zM1099.07 2753.99h3.35v3.35h-3.35zM1105.46 2753.99h9.74v3.35h-9.74zM1131.02 2753.99h3.35v3.35h-3.35zM1140.61 2753.99h3.35v3.35h-3.35zM1019.20 2757.18h3.35v3.35h-3.35zM1025.59 2757.18h19.32v3.35h-19.32zM1054.34 2757.18h16.13v3.35h-16.13zM1073.51 2757.18h3.35v3.35h-3.35zM1079.90 2757.18h3.35v3.35h-3.35zM1095.88 2757.18h9.74v3.35h-9.74zM1115.05 2757.18h6.54v3.35h-6.54zM1124.63 2757.18h3.35v3.35h-3.35zM1137.41 2757.18h3.35v3.35h-3.35zM1143.80 2757.18h3.35v3.35h-3.35zM1016.00 2760.38h12.93v3.35h-12.93zM1031.98 2760.38h6.54v3.35h-6.54zM1044.76 2760.38h3.35v3.35h-3.35zM1063.93 2760.38h12.93v3.35h-12.93zM1083.10 2760.38h16.13v3.35h-16.13zM1111.85 2760.38h6.54v3.35h-6.54zM1124.63 2760.38h6.54v3.35h-6.54zM1137.41 2760.38h9.74v3.35h-9.74zM1022.39 2763.57h6.54v3.35h-6.54zM1031.98 2763.57h6.54v3.35h-6.54zM1044.76 2763.57h9.74v3.35h-9.74zM1057.54 2763.57h6.54v3.35h-6.54zM1067.12 2763.57h12.93v3.35h-12.93zM1086.29 2763.57h12.93v3.35h-12.93zM1102.27 2763.57h3.35v3.35h-3.35zM1108.66 2763.57h3.35v3.35h-3.35zM1115.05 2763.57h9.74v3.35h-9.74zM1127.83 2763.57h6.54v3.35h-6.54zM1140.61 2763.57h3.35v3.35h-3.35zM1016.00 2766.77h6.54v3.35h-6.54zM1025.59 2766.77h3.35v3.35h-3.35zM1031.98 2766.77h3.35v3.35h-3.35zM1038.37 2766.77h6.54v3.35h-6.54zM1051.15 2766.77h9.74v3.35h-9.74zM1063.93 2766.77h3.35v3.35h-3.35zM1070.32 2766.77h3.35v3.35h-3.35zM1079.90 2766.77h3.35v3.35h-3.35zM1086.29 2766.77h3.35v3.35h-3.35zM1108.66 2766.77h9.74v3.35h-9.74zM1124.63 2766.77h9.74v3.35h-9.74zM1143.80 2766.77h3.35v3.35h-3.35zM1019.20 2769.96h3.35v3.35h-3.35zM1028.78 2769.96h3.35v3.35h-3.35zM1038.37 2769.96h6.54v3.35h-6.54zM1047.95 2769.96h6.54v3.35h-6.54zM1067.12 2769.96h3.35v3.35h-3.35zM1073.51 2769.96h9.74v3.35h-9.74zM1086.29 2769.96h6.54v3.35h-6.54zM1095.88 2769.96h3.35v3.35h-3.35zM1102.27 2769.96h3.35v3.35h-3.35zM1111.85 2769.96h3.35v3.35h-3.35zM1121.44 2769.96h6.54v3.35h-6.54zM1140.61 2769.96h6.54v3.35h-6.54zM1016.00 2773.16h3.35v3.35h-3.35zM1025.59 2773.16h6.54v3.35h-6.54zM1038.37 2773.16h3.35v3.35h-3.35zM1044.76 2773.16h3.35v3.35h-3.35zM1051.15 2773.16h3.35v3.35h-3.35zM1057.54 2773.16h6.54v3.35h-6.54zM1070.32 2773.16h6.54v3.35h-6.54zM1079.90 2773.16h9.74v3.35h-9.74zM1095.88 2773.16h3.35v3.35h-3.35zM1102.27 2773.16h3.35v3.35h-3.35zM1108.66 2773.16h9.74v3.35h-9.74zM1127.83 2773.16h3.35v3.35h-3.35zM1137.41 2773.16h9.74v3.35h-9.74zM1016.00 2776.35h6.54v3.35h-6.54zM1028.78 2776.35h3.35v3.35h-3.35zM1047.95 2776.35h12.93v3.35h-12.93zM1067.12 2776.35h9.74v3.35h-9.74zM1083.10 2776.35h3.35v3.35h-3.35zM1089.49 2776.35h3.35v3.35h-3.35zM1111.85 2776.35h6.54v3.35h-6.54zM1127.83 2776.35h6.54v3.35h-6.54zM1137.41 2776.35h9.74v3.35h-9.74zM1016.00 2779.55h12.93v3.35h-12.93zM1031.98 2779.55h3.35v3.35h-3.35zM1054.34 2779.55h6.54v3.35h-6.54zM1063.93 2779.55h3.35v3.35h-3.35zM1079.90 2779.55h3.35v3.35h-3.35zM1089.49 2779.55h3.35v3.35h-3.35zM1095.88 2779.55h6.54v3.35h-6.54zM1115.05 2779.55h9.74v3.35h-9.74zM1127.83 2779.55h12.93v3.35h-12.93zM1143.80 2779.55h3.35v3.35h-3.35zM1019.20 2782.74h9.74v3.35h-9.74zM1041.56 2782.74h3.35v3.35h-3.35zM1057.54 2782.74h3.35v3.35h-3.35zM1073.51 2782.74h12.93v3.35h-12.93zM1095.88 2782.74h3.35v3.35h-3.35zM1102.27 2782.74h12.93v3.35h-12.93zM1118.24 2782.74h16.13v3.35h-16.13zM1044.76 2785.94h3.35v3.35h-3.35zM1051.15 2785.94h3.35v3.35h-3.35zM1057.54 2785.94h9.74v3.35h-9.74zM1073.51 2785.94h3.35v3.35h-3.35zM1083.10 2785.94h3.35v3.35h-3.35zM1089.49 2785.94h12.93v3.35h-12.93zM1105.46 2785.94h16.13v3.35h-16.13zM1131.02 2785.94h6.54v3.35h-6.54zM1140.61 2785.94h6.54v3.35h-6.54zM1016.00 2789.13h22.52v3.35h-22.52zM1044.76 2789.13h12.93v3.35h-12.93zM1063.93 2789.13h9.74v3.35h-9.74zM1076.71 2789.13h16.13v3.35h-16.13zM1108.66 2789.13h3.35v3.35h-3.35zM1115.05 2789.13h6.54v3.35h-6.54zM1124.63 2789.13h3.35v3.35h-3.35zM1131.02 2789.13h3.35v3.35h-3.35zM1137.41 2789.13h9.74v3.35h-9.74zM1016.00 2792.33h3.35v3.35h-3.35zM1035.17 2792.33h3.35v3.35h-3.35zM1044.76 2792.33h9.74v3.35h-9.74zM1060.73 2792.33h12.93v3.35h-12.93zM1079.90 2792.33h3.35v3.35h-3.35zM1086.29 2792.33h9.74v3.35h-9.74zM1099.07 2792.33h3.35v3.35h-3.35zM1105.46 2792.33h3.35v3.35h-3.35zM1111.85 2792.33h3.35v3.35h-3.35zM1118.24 2792.33h3.35v3.35h-3.35zM1131.02 2792.33h3.35v3.35h-3.35zM1137.41 2792.33h3.35v3.35h-3.35zM1143.80 2792.33h3.35v3.35h-3.35zM1016.00 2795.52h3.35v3.35h-3.35zM1022.39 2795.52h9.74v3.35h-9.74zM1035.17 2795.52h3.35v3.35h-3.35zM1047.95 2795.52h3.35v3.35h-3.35zM1057.54 2795.52h6.54v3.35h-6.54zM1067.12 2795.52h3.35v3.35h-3.35zM1079.90 2795.52h3.35v3.35h-3.35zM1089.49 2795.52h6.54v3.35h-6.54zM1099.07 2795.52h3.35v3.35h-3.35zM1105.46 2795.52h6.54v3.35h-6.54zM1115.05 2795.52h19.32v3.35h-19.32zM1137.41 2795.52h9.74v3.35h-9.74zM1016.00 2798.72h3.35v3.35h-3.35zM1022.39 2798.72h9.74v3.35h-9.74zM1035.17 2798.72h3.35v3.35h-3.35zM1047.95 2798.72h3.35v3.35h-3.35zM1057.54 2798.72h9.74v3.35h-9.74zM1073.51 2798.72h12.93v3.35h-12.93zM1092.68 2798.72h9.74v3.35h-9.74zM1108.66 2798.72h12.93v3.35h-12.93zM1127.83 2798.72h3.35v3.35h-3.35zM1137.41 2798.72h3.35v3.35h-3.35zM1143.80 2798.72h3.35v3.35h-3.35zM1016.00 2801.91h3.35v3.35h-3.35zM1022.39 2801.91h9.74v3.35h-9.74zM1035.17 2801.91h3.35v3.35h-3.35zM1044.76 2801.91h6.54v3.35h-6.54zM1063.93 2801.91h16.13v3.35h-16.13zM1095.88 2801.91h12.93v3.35h-12.93zM1111.85 2801.91h3.35v3.35h-3.35zM1118.24 2801.91h6.54v3.35h-6.54zM1127.83 2801.91h16.13v3.35h-16.13zM1016.00 2805.11h3.35v3.35h-3.35zM1035.17 2805.11h3.35v3.35h-3.35zM1041.56 2805.11h6.54v3.35h-6.54zM1051.15 2805.11h12.93v3.35h-12.93zM1067.12 2805.11h6.54v3.35h-6.54zM1076.71 2805.11h3.35v3.35h-3.35zM1086.29 2805.11h3.35v3.35h-3.35zM1115.05 2805.11h3.35v3.35h-3.35zM1121.44 2805.11h3.35v3.35h-3.35zM1131.02 2805.11h3.35v3.35h-3.35zM1143.80 2805.11h3.35v3.35h-3.35zM1016.00 2808.30h22.52v3.35h-22.52zM1041.56 2808.30h9.74v3.35h-9.74zM1060.73 2808.30h6.54v3.35h-6.54zM1070.32 2808.30h3.35v3.35h-3.35zM1079.90 2808.30h3.35v3.35h-3.35zM1086.29 2808.30h3.35v3.35h-3.35zM1099.07 2808.30h3.35v3.35h-3.35zM1105.46 2808.30h3.35v3.35h-3.35zM1111.85 2808.30h12.93v3.35h-12.93zM1134.22 2808.30h3.35v3.35h-3.35zM1140.61 2808.30h3.35v3.35h-3.35z" fill="#000"/><rect x="1605" y="670" width="316" height="561.5999999999999" fill="#fff" stroke="#222" stroke-width="1.1"/>
<g font-family="'DejaVu Sans',sans-serif" font-size="15.6" fill="#222" text-anchor="end">
<rect x="1605" y="695.8" width="301.0" height="38.4" fill="#d62728"/>
<rect x="1605" y="695.8" width="300.0" height="38.4" fill="#1f77b4"/>
<line x1="1601" y1="715.0" x2="1605" y2="715.0" stroke="#222" stroke-width="1"/>
<text x="1596.5" y="720.6">T5</text>
<rect x="1605" y="738.8" width="258.5" height="38.4" fill="#d62728"/>
<rect x="1605" y="738.8" width="253.5" height="38.4" fill="#1f77b4"/>
<line x1="1601" y1="758.0" x2="1605" y2="758.0" stroke="#222" stroke-width="1"/>
<text x="1596.5" y="763.6">XLNet</text>
<rect x="1605" y="781.8" width="247.5" height="38.4" fill="#d62728"/>
<rect x="1605" y="781.8" width="244.5" height="38.4" fill="#1f77b4"/>
<line x1="1601" y1="801.0" x2="1605" y2="801.0" stroke="#222" stroke-width="1"/>
<text x="1596.5" y="806.6">LLaMA2</text>
<rect x="1605" y="824.8" width="180.5" height="38.4" fill="#d62728"/>
<rect x="1605" y="824.8" width="175.0" height="38.4" fill="#1f77b4"/>
<line x1="1601" y1="844.0" x2="1605" y2="844.0" stroke="#222" stroke-width="1"/>
<text x="1596.5" y="849.6">distilBERT</text>
<rect x="1605" y="867.8" width="180.5" height="38.4" fill="#d62728"/>
<rect x="1605" y="867.8" width="174.0" height="38.4" fill="#1f77b4"/>
<line x1="1601" y1="887.0" x2="1605" y2="887.0" stroke="#222" stroke-width="1"/>
<text x="1596.5" y="892.6">OPT-IML</text>
<rect x="1605" y="910.8" width="172.5" height="38.4" fill="#d62728"/>
<rect x="1605" y="910.8" width="167.0" height="38.4" fill="#1f77b4"/>
<line x1="1601" y1="930.0" x2="1605" y2="930.0" stroke="#222" stroke-width="1"/>
<text x="1596.5" y="935.6">BART</text>
<rect x="1605" y="952.8" width="171.0" height="38.4" fill="#d62728"/>
<rect x="1605" y="952.8" width="166.0" height="38.4" fill="#1f77b4"/>
<line x1="1601" y1="972.0" x2="1605" y2="972.0" stroke="#222" stroke-width="1"/>
<text x="1596.5" y="977.6">Baichuan</text>
<rect x="1605" y="995.8" width="175.0" height="38.4" fill="#d62728"/>
<rect x="1605" y="995.8" width="165.0" height="38.4" fill="#1f77b4"/>
<line x1="1601" y1="1015.0" x2="1605" y2="1015.0" stroke="#222" stroke-width="1"/>
<text x="1596.5" y="1020.6">ChatGLM2</text>
<rect x="1605" y="1038.8" width="169.0" height="38.4" fill="#d62728"/>
<rect x="1605" y="1038.8" width="155.5" height="38.4" fill="#1f77b4"/>
<line x1="1601" y1="1058.0" x2="1605" y2="1058.0" stroke="#222" stroke-width="1"/>
<text x="1596.5" y="1063.6">RoBERTa</text>
<rect x="1605" y="1081.8" width="149.5" height="38.4" fill="#d62728"/>
<rect x="1605" y="1081.8" width="143.5" height="38.4" fill="#1f77b4"/>
<line x1="1601" y1="1101.0" x2="1605" y2="1101.0" stroke="#222" stroke-width="1"/>
<text x="1596.5" y="1106.6">GPT-2</text>
<rect x="1605" y="1124.8" width="139.0" height="38.4" fill="#d62728"/>
<rect x="1605" y="1124.8" width="112.5" height="38.4" fill="#1f77b4"/>
<line x1="1601" y1="1144.0" x2="1605" y2="1144.0" stroke="#222" stroke-width="1"/>
<text x="1596.5" y="1149.6">ALBERT</text>
<rect x="1605" y="1167.8" width="106.0" height="38.4" fill="#d62728"/>
<rect x="1605" y="1167.8" width="105.0" height="38.4" fill="#1f77b4"/>
<line x1="1601" y1="1187.0" x2="1605" y2="1187.0" stroke="#222" stroke-width="1"/>
<text x="1596.5" y="1192.6">BERT</text>
</g>
<g font-family="'DejaVu Sans',sans-serif" font-size="15.6" fill="#222" text-anchor="middle">
<line x1="1604.5" y1="1231.6" x2="1604.5" y2="1236.1" stroke="#222" stroke-width="1"/>
<text x="1604.5" y="1253">0.0</text>
<line x1="1673.6" y1="1231.6" x2="1673.6" y2="1236.1" stroke="#222" stroke-width="1"/>
<text x="1673.6" y="1253">0.2</text>
<line x1="1742.7" y1="1231.6" x2="1742.7" y2="1236.1" stroke="#222" stroke-width="1"/>
<text x="1742.7" y="1253">0.4</text>
<line x1="1811.8" y1="1231.6" x2="1811.8" y2="1236.1" stroke="#222" stroke-width="1"/>
<text x="1811.8" y="1253">0.6</text>
<line x1="1880.9" y1="1231.6" x2="1880.9" y2="1236.1" stroke="#222" stroke-width="1"/>
<text x="1880.9" y="1253">0.8</text>
<text x="1762.5" y="1276" font-size="20">Discrimination Risk</text>
</g>
<rect x="1749" y="1172" width="164.5" height="51.5" rx="3" fill="#fff" fill-opacity="0.85" stroke="#ccc" stroke-width="1"/>
<rect x="1756" y="1179" width="31.5" height="11" fill="#1f77b4"/><rect x="1756" y="1202.5" width="31.5" height="11" fill="#d62728"/>
<g font-family="'DejaVu Sans',sans-serif" font-size="15.6" fill="#222"><text x="1799" y="1190.5">Bias Risk</text><text x="1799" y="1214">Volatility Risk</text></g>
<g filter="url(#soft3)">
<rect x="2138.5" y="777.5" width="622.1999999999998" height="293.5" fill="#fff"/>
<line x1="2138.5" y1="787.0" x2="2760.7" y2="787.0" stroke="#aaa" stroke-width="2"/>
<line x1="2133.5" y1="787.0" x2="2138.5" y2="787.0" stroke="#333" stroke-width="1.6"/>
<line x1="2138.5" y1="824.2" x2="2760.7" y2="824.2" stroke="#aaa" stroke-width="2"/>
<line x1="2133.5" y1="824.2" x2="2138.5" y2="824.2" stroke="#333" stroke-width="1.6"/>
<line x1="2138.5" y1="861.4" x2="2760.7" y2="861.4" stroke="#aaa" stroke-width="2"/>
<line x1="2133.5" y1="861.4" x2="2138.5" y2="861.4" stroke="#333" stroke-width="1.6"/>
<line x1="2138.5" y1="898.6" x2="2760.7" y2="898.6" stroke="#aaa" stroke-width="2"/>
<line x1="2133.5" y1="898.6" x2="2138.5" y2="898.6" stroke="#333" stroke-width="1.6"/>
<line x1="2138.5" y1="935.8" x2="2760.7" y2="935.8" stroke="#aaa" stroke-width="2"/>
<line x1="2133.5" y1="935.8" x2="2138.5" y2="935.8" stroke="#333" stroke-width="1.6"/>
<line x1="2138.5" y1="973.0" x2="2760.7" y2="973.0" stroke="#aaa" stroke-width="2"/>
<line x1="2133.5" y1="973.0" x2="2138.5" y2="973.0" stroke="#333" stroke-width="1.6"/>
<line x1="2138.5" y1="1010.2" x2="2760.7" y2="1010.2" stroke="#aaa" stroke-width="2"/>
<line x1="2133.5" y1="1010.2" x2="2138.5" y2="1010.2" stroke="#333" stroke-width="1.6"/>
<line x1="2138.5" y1="1047.4" x2="2760.7" y2="1047.4" stroke="#aaa" stroke-width="2"/>
<line x1="2133.5" y1="1047.4" x2="2138.5" y2="1047.4" stroke="#333" stroke-width="1.6"/>
<line x1="2163.6" y1="777.5" x2="2163.6" y2="1071" stroke="#aaa" stroke-width="2"/>
<line x1="2163.6" y1="1071" x2="2163.6" y2="1076" stroke="#333" stroke-width="1.6"/>
<line x1="2215.4" y1="777.5" x2="2215.4" y2="1071" stroke="#aaa" stroke-width="2"/>
<line x1="2215.4" y1="1071" x2="2215.4" y2="1076" stroke="#333" stroke-width="1.6"/>
<line x1="2267.2" y1="777.5" x2="2267.2" y2="1071" stroke="#aaa" stroke-width="2"/>
<line x1="2267.2" y1="1071" x2="2267.2" y2="1076" stroke="#333" stroke-width="1.6"/>
<line x1="2318.9" y1="777.5" x2="2318.9" y2="1071" stroke="#aaa" stroke-width="2"/>
<line x1="2318.9" y1="1071" x2="2318.9" y2="1076" stroke="#333" stroke-width="1.6"/>
<line x1="2370.7" y1="777.5" x2="2370.7" y2="1071" stroke="#aaa" stroke-width="2"/>
<line x1="2370.7" y1="1071" x2="2370.7" y2="1076" stroke="#333" stroke-width="1.6"/>
<line x1="2422.5" y1="777.5" x2="2422.5" y2="1071" stroke="#aaa" stroke-width="2"/>
<line x1="2422.5" y1="1071" x2="2422.5" y2="1076" stroke="#333" stroke-width="1.6"/>
<line x1="2474.3" y1="777.5" x2="2474.3" y2="1071" stroke="#aaa" stroke-width="2"/>
<line x1="2474.3" y1="1071" x2="2474.3" y2="1076" stroke="#333" stroke-width="1.6"/>
<line x1="2526.1" y1="777.5" x2="2526.1" y2="1071" stroke="#aaa" stroke-width="2"/>
<line x1="2526.1" y1="1071" x2="2526.1" y2="1076" stroke="#333" stroke-width="1.6"/>
<line x1="2577.8" y1="777.5" x2="2577.8" y2="1071" stroke="#aaa" stroke-width="2"/>
<line x1="2577.8" y1="1071" x2="2577.8" y2="1076" stroke="#333" stroke-width="1.6"/>
<line x1="2629.6" y1="777.5" x2="2629.6" y2="1071" stroke="#aaa" stroke-width="2"/>
<line x1="2629.6" y1="1071" x2="2629.6" y2="1076" stroke="#333" stroke-width="1.6"/>
<line x1="2681.4" y1="777.5" x2="2681.4" y2="1071" stroke="#aaa" stroke-width="2"/>
<line x1="2681.4" y1="1071" x2="2681.4" y2="1076" stroke="#333" stroke-width="1.6"/>
<line x1="2733.2" y1="777.5" x2="2733.2" y2="1071" stroke="#aaa" stroke-width="2"/>
<line x1="2733.2" y1="1071" x2="2733.2" y2="1076" stroke="#333" stroke-width="1.6"/>
<line x1="2163.6" y1="829.8" x2="2163.6" y2="961.8" stroke="#2a2a2a" stroke-width="2.5"/>
<line x1="2156.6" y1="961.8" x2="2170.6" y2="961.8" stroke="#2a2a2a" stroke-width="2.5"/>
<line x1="2156.6" y1="829.8" x2="2170.6" y2="829.8" stroke="#2a2a2a" stroke-width="2.5"/>
<rect x="2150.1" y="859.5" width="27" height="40.9" fill="#7ab4f5" stroke="#26364a" stroke-width="2.5"/>
<line x1="2150.1" y1="876.3" x2="2177.1" y2="876.3" stroke="#26364a" stroke-width="2.8"/>
<circle cx="2163.6" cy="969.3" r="4.6" fill="none" stroke="#2a2a2a" stroke-width="2.5"/>
<circle cx="2163.6" cy="991.6" r="4.6" fill="none" stroke="#2a2a2a" stroke-width="2.5"/>
<circle cx="2163.6" cy="995.3" r="4.6" fill="none" stroke="#2a2a2a" stroke-width="2.5"/>
<circle cx="2163.6" cy="1008.3" r="4.6" fill="none" stroke="#2a2a2a" stroke-width="2.5"/>
<circle cx="2163.6" cy="1028.8" r="4.6" fill="none" stroke="#2a2a2a" stroke-width="2.5"/>
<circle cx="2163.6" cy="1047.4" r="4.6" fill="none" stroke="#2a2a2a" stroke-width="2.5"/>
<line x1="2215.4" y1="872.6" x2="2215.4" y2="898.6" stroke="#2a2a2a" stroke-width="2.5"/>
<line x1="2208.4" y1="898.6" x2="2222.4" y2="898.6" stroke="#2a2a2a" stroke-width="2.5"/>
<line x1="2208.4" y1="872.6" x2="2222.4" y2="872.6" stroke="#2a2a2a" stroke-width="2.5"/>
<rect x="2201.9" y="880.0" width="27" height="9.3" fill="#7ab4f5" stroke="#26364a" stroke-width="2.5"/>
<line x1="2201.9" y1="883.7" x2="2228.9" y2="883.7" stroke="#26364a" stroke-width="2.8"/>
<circle cx="2215.4" cy="902.3" r="4.6" fill="none" stroke="#2a2a2a" stroke-width="2.5"/>
<circle cx="2215.4" cy="906.0" r="4.6" fill="none" stroke="#2a2a2a" stroke-width="2.5"/>
<line x1="2267.2" y1="835.4" x2="2267.2" y2="935.8" stroke="#2a2a2a" stroke-width="2.5"/>
<line x1="2260.2" y1="935.8" x2="2274.2" y2="935.8" stroke="#2a2a2a" stroke-width="2.5"/>
<line x1="2260.2" y1="835.4" x2="2274.2" y2="835.4" stroke="#2a2a2a" stroke-width="2.5"/>
<rect x="2253.7" y="859.5" width="27" height="31.6" fill="#7ab4f5" stroke="#26364a" stroke-width="2.5"/>
<line x1="2253.7" y1="872.6" x2="2280.7" y2="872.6" stroke="#26364a" stroke-width="2.8"/>
<circle cx="2267.2" cy="969.3" r="4.6" fill="none" stroke="#2a2a2a" stroke-width="2.5"/>
<circle cx="2267.2" cy="971.1" r="4.6" fill="none" stroke="#2a2a2a" stroke-width="2.5"/>
<circle cx="2267.2" cy="984.2" r="4.6" fill="none" stroke="#2a2a2a" stroke-width="2.5"/>
<line x1="2318.9" y1="855.8" x2="2318.9" y2="926.5" stroke="#2a2a2a" stroke-width="2.5"/>
<line x1="2311.9" y1="926.5" x2="2325.9" y2="926.5" stroke="#2a2a2a" stroke-width="2.5"/>
<line x1="2311.9" y1="855.8" x2="2325.9" y2="855.8" stroke="#2a2a2a" stroke-width="2.5"/>
<rect x="2305.4" y="876.3" width="27" height="20.5" fill="#7ab4f5" stroke="#26364a" stroke-width="2.5"/>
<line x1="2305.4" y1="885.6" x2="2332.4" y2="885.6" stroke="#26364a" stroke-width="2.8"/>
<circle cx="2318.9" cy="930.2" r="4.6" fill="none" stroke="#2a2a2a" stroke-width="2.5"/>
<circle cx="2318.9" cy="933.9" r="4.6" fill="none" stroke="#2a2a2a" stroke-width="2.5"/>
<line x1="2370.7" y1="792.6" x2="2370.7" y2="835.4" stroke="#2a2a2a" stroke-width="2.5"/>
<line x1="2363.7" y1="835.4" x2="2377.7" y2="835.4" stroke="#2a2a2a" stroke-width="2.5"/>
<line x1="2363.7" y1="792.6" x2="2377.7" y2="792.6" stroke="#2a2a2a" stroke-width="2.5"/>
<rect x="2357.2" y="801.9" width="27" height="13.0" fill="#7ab4f5" stroke="#26364a" stroke-width="2.5"/>
<line x1="2357.2" y1="807.5" x2="2384.2" y2="807.5" stroke="#26364a" stroke-width="2.8"/>
<circle cx="2370.7" cy="837.2" r="4.6" fill="none" stroke="#2a2a2a" stroke-width="2.5"/>
<circle cx="2370.7" cy="840.9" r="4.6" fill="none" stroke="#2a2a2a" stroke-width="2.5"/>
<circle cx="2370.7" cy="842.8" r="4.6" fill="none" stroke="#2a2a2a" stroke-width="2.5"/>
<circle cx="2370.7" cy="883.7" r="4.6" fill="none" stroke="#2a2a2a" stroke-width="2.5"/>
<circle cx="2370.7" cy="891.2" r="4.6" fill="none" stroke="#2a2a2a" stroke-width="2.5"/>
<line x1="2422.5" y1="850.2" x2="2422.5" y2="935.8" stroke="#2a2a2a" stroke-width="2.5"/>
<line x1="2415.5" y1="935.8" x2="2429.5" y2="935.8" stroke="#2a2a2a" stroke-width="2.5"/>
<line x1="2415.5" y1="850.2" x2="2429.5" y2="850.2" stroke="#2a2a2a" stroke-width="2.5"/>
<rect x="2409.0" y="867.0" width="27" height="26.0" fill="#7ab4f5" stroke="#26364a" stroke-width="2.5"/>
<line x1="2409.0" y1="880.0" x2="2436.0" y2="880.0" stroke="#26364a" stroke-width="2.8"/>
<circle cx="2422.5" cy="943.2" r="4.6" fill="none" stroke="#2a2a2a" stroke-width="2.5"/>
<circle cx="2422.5" cy="947.0" r="4.6" fill="none" stroke="#2a2a2a" stroke-width="2.5"/>
<circle cx="2422.5" cy="948.8" r="4.6" fill="none" stroke="#2a2a2a" stroke-width="2.5"/>
<circle cx="2422.5" cy="976.7" r="4.6" fill="none" stroke="#2a2a2a" stroke-width="2.5"/>
<circle cx="2422.5" cy="980.4" r="4.6" fill="none" stroke="#2a2a2a" stroke-width="2.5"/>
<line x1="2474.3" y1="850.2" x2="2474.3" y2="922.8" stroke="#2a2a2a" stroke-width="2.5"/>
<line x1="2467.3" y1="922.8" x2="2481.3" y2="922.8" stroke="#2a2a2a" stroke-width="2.5"/>
<line x1="2467.3" y1="850.2" x2="2481.3" y2="850.2" stroke="#2a2a2a" stroke-width="2.5"/>
<rect x="2460.8" y="876.3" width="27" height="20.5" fill="#7ab4f5" stroke="#26364a" stroke-width="2.5"/>
<line x1="2460.8" y1="883.7" x2="2487.8" y2="883.7" stroke="#26364a" stroke-width="2.8"/>
<circle cx="2474.3" cy="939.5" r="4.6" fill="none" stroke="#2a2a2a" stroke-width="2.5"/>
<circle cx="2474.3" cy="941.4" r="4.6" fill="none" stroke="#2a2a2a" stroke-width="2.5"/>
<circle cx="2474.3" cy="958.1" r="4.6" fill="none" stroke="#2a2a2a" stroke-width="2.5"/>
<line x1="2526.1" y1="978.6" x2="2526.1" y2="1056.7" stroke="#2a2a2a" stroke-width="2.5"/>
<line x1="2519.1" y1="1056.7" x2="2533.1" y2="1056.7" stroke="#2a2a2a" stroke-width="2.5"/>
<line x1="2519.1" y1="978.6" x2="2533.1" y2="978.6" stroke="#2a2a2a" stroke-width="2.5"/>
<rect x="2512.6" y="1008.3" width="27" height="20.5" fill="#c04070" stroke="#6a1030" stroke-width="2.5"/>
<line x1="2512.6" y1="1017.6" x2="2539.6" y2="1017.6" stroke="#6a1030" stroke-width="2.8"/>
<circle cx="2526.1" cy="976.7" r="4.6" fill="none" stroke="#2a2a2a" stroke-width="2.5"/>
<circle cx="2526.1" cy="978.6" r="4.6" fill="none" stroke="#2a2a2a" stroke-width="2.5"/>
<line x1="2577.8" y1="848.4" x2="2577.8" y2="947.0" stroke="#2a2a2a" stroke-width="2.5"/>
<line x1="2570.8" y1="947.0" x2="2584.8" y2="947.0" stroke="#2a2a2a" stroke-width="2.5"/>
<line x1="2570.8" y1="848.4" x2="2584.8" y2="848.4" stroke="#2a2a2a" stroke-width="2.5"/>
<rect x="2564.3" y="880.0" width="27" height="27.9" fill="#7ab4f5" stroke="#26364a" stroke-width="2.5"/>
<line x1="2564.3" y1="893.0" x2="2591.3" y2="893.0" stroke="#26364a" stroke-width="2.8"/>
<circle cx="2577.8" cy="978.6" r="4.6" fill="none" stroke="#2a2a2a" stroke-width="2.5"/>
<circle cx="2577.8" cy="999.0" r="4.6" fill="none" stroke="#2a2a2a" stroke-width="2.5"/>
<line x1="2629.6" y1="894.9" x2="2629.6" y2="939.5" stroke="#2a2a2a" stroke-width="2.5"/>
<line x1="2622.6" y1="939.5" x2="2636.6" y2="939.5" stroke="#2a2a2a" stroke-width="2.5"/>
<line x1="2622.6" y1="894.9" x2="2636.6" y2="894.9" stroke="#2a2a2a" stroke-width="2.5"/>
<rect x="2616.1" y="909.8" width="27" height="11.2" fill="#7ab4f5" stroke="#26364a" stroke-width="2.5"/>
<line x1="2616.1" y1="915.3" x2="2643.1" y2="915.3" stroke="#26364a" stroke-width="2.8"/>
<circle cx="2629.6" cy="941.4" r="4.6" fill="none" stroke="#2a2a2a" stroke-width="2.5"/>
<circle cx="2629.6" cy="952.5" r="4.6" fill="none" stroke="#2a2a2a" stroke-width="2.5"/>
<circle cx="2629.6" cy="956.3" r="4.6" fill="none" stroke="#2a2a2a" stroke-width="2.5"/>
<line x1="2681.4" y1="814.9" x2="2681.4" y2="859.5" stroke="#2a2a2a" stroke-width="2.5"/>
<line x1="2674.4" y1="859.5" x2="2688.4" y2="859.5" stroke="#2a2a2a" stroke-width="2.5"/>
<line x1="2674.4" y1="814.9" x2="2688.4" y2="814.9" stroke="#2a2a2a" stroke-width="2.5"/>
<rect x="2667.9" y="826.1" width="27" height="16.7" fill="#7ab4f5" stroke="#26364a" stroke-width="2.5"/>
<line x1="2667.9" y1="833.5" x2="2694.9" y2="833.5" stroke="#26364a" stroke-width="2.8"/>
<line x1="2733.2" y1="846.5" x2="2733.2" y2="915.3" stroke="#2a2a2a" stroke-width="2.5"/>
<line x1="2726.2" y1="915.3" x2="2740.2" y2="915.3" stroke="#2a2a2a" stroke-width="2.5"/>
<line x1="2726.2" y1="846.5" x2="2740.2" y2="846.5" stroke="#2a2a2a" stroke-width="2.5"/>
<rect x="2719.7" y="870.7" width="27" height="18.6" fill="#7ab4f5" stroke="#26364a" stroke-width="2.5"/>
<line x1="2719.7" y1="878.1" x2="2746.7" y2="878.1" stroke="#26364a" stroke-width="2.8"/>
<circle cx="2733.2" cy="943.2" r="4.6" fill="none" stroke="#2a2a2a" stroke-width="2.5"/>
<circle cx="2733.2" cy="961.8" r="4.6" fill="none" stroke="#2a2a2a" stroke-width="2.5"/>
<circle cx="2733.2" cy="980.4" r="4.6" fill="none" stroke="#2a2a2a" stroke-width="2.5"/>
<circle cx="2733.2" cy="1012.1" r="4.6" fill="none" stroke="#2a2a2a" stroke-width="2.5"/>
<circle cx="2733.2" cy="1021.4" r="4.6" fill="none" stroke="#2a2a2a" stroke-width="2.5"/>
<rect x="2138.5" y="777.5" width="622.1999999999998" height="293.5" fill="none" stroke="#2a2a2a" stroke-width="3.4"/>
<g font-family="'DejaVu Sans',sans-serif" font-size="22.3" fill="#333" stroke="#333" stroke-width="0.3" text-anchor="end">
<text x="2127.5" y="795.2">0.5</text>
<text x="2127.5" y="832.4">0.4</text>
<text x="2127.5" y="869.6">0.3</text>
<text x="2127.5" y="906.8">0.2</text>
<text x="2127.5" y="944.0">0.1</text>
<text x="2127.5" y="981.2">0.0</text>
<text x="2127.5" y="1018.4">−0.1</text>
<text x="2127.5" y="1055.6">−0.2</text>
</g>
<text x="2062" y="925" font-family="'DejaVu Sans',sans-serif" font-size="11" font-style="italic" fill="#555" text-anchor="middle" transform="rotate(-90 2062 925)">Mean</text>
<g font-family="'DejaVu Sans',sans-serif" font-size="21" fill="#3a3a3a" stroke="#3a3a3a" stroke-width="0.3" text-anchor="middle">
<text x="2163.6" y="1108.2" transform="rotate(-45 2163.6 1101.2)">opt</text>
<text x="2215.4" y="1130.1" transform="rotate(-45 2215.4 1123.1)">baichuan</text>
<text x="2267.2" y="1121.4" transform="rotate(-45 2267.2 1114.4)">llama2</text>
<text x="2318.9" y="1130.1" transform="rotate(-45 2318.9 1123.1)">chatglm2</text>
<text x="2370.7" y="1103.8" transform="rotate(-45 2370.7 1096.8)">t5</text>
<text x="2422.5" y="1112.6" transform="rotate(-45 2422.5 1105.6)">bart</text>
<text x="2474.3" y="1125.8" transform="rotate(-45 2474.3 1118.8)">roberta</text>
<text x="2526.1" y="1121.4" transform="rotate(-45 2526.1 1114.4)">albert</text>
<text x="2577.8" y="1112.6" transform="rotate(-45 2577.8 1105.6)">gpt2</text>
<text x="2629.6" y="1112.6" transform="rotate(-45 2629.6 1105.6)">bert</text>
<text x="2681.4" y="1117.0" transform="rotate(-45 2681.4 1110.0)">xlnet</text>
<text x="2733.2" y="1138.9" transform="rotate(-45 2733.2 1131.9)">distilbert</text>
</g>
</g>
<g filter="url(#soft2)">
<rect x="1766.2" y="1447.3" width="197.0" height="224.5" fill="#fff" stroke="#222" stroke-width="2.2"/>
<text x="1864.7" y="1442" font-family="'DejaVu Sans',sans-serif" font-size="8.5" fill="#555" text-anchor="middle">bert</text>
<g font-family="'DejaVu Sans',sans-serif" font-size="7.5" fill="#444" stroke="#444" stroke-width="0.25">
<line x1="1763.2" y1="1661.8" x2="1766.2" y2="1661.8" stroke="#333" stroke-width="1"/>
<text x="1761.2" y="1664.4" text-anchor="end">0.0</text>
<line x1="1763.2" y1="1621.0" x2="1766.2" y2="1621.0" stroke="#333" stroke-width="1"/>
<text x="1761.2" y="1623.6" text-anchor="end">0.2</text>
<line x1="1763.2" y1="1580.2" x2="1766.2" y2="1580.2" stroke="#333" stroke-width="1"/>
<text x="1761.2" y="1582.8" text-anchor="end">0.4</text>
<line x1="1763.2" y1="1539.4" x2="1766.2" y2="1539.4" stroke="#333" stroke-width="1"/>
<text x="1761.2" y="1542.0" text-anchor="end">0.6</text>
<line x1="1763.2" y1="1498.6" x2="1766.2" y2="1498.6" stroke="#333" stroke-width="1"/>
<text x="1761.2" y="1501.2" text-anchor="end">0.8</text>
<line x1="1763.2" y1="1457.8" x2="1766.2" y2="1457.8" stroke="#333" stroke-width="1"/>
<text x="1761.2" y="1460.4" text-anchor="end">1.0</text>
<line x1="1788.4" y1="1671.8" x2="1788.4" y2="1674.8" stroke="#333" stroke-width="1"/>
<text x="1788.4" y="1683.8" text-anchor="middle">20</text>
<line x1="1820.2" y1="1671.8" x2="1820.2" y2="1674.8" stroke="#333" stroke-width="1"/>
<text x="1820.2" y="1683.8" text-anchor="middle">40</text>
<line x1="1852.0" y1="1671.8" x2="1852.0" y2="1674.8" stroke="#333" stroke-width="1"/>
<text x="1852.0" y="1683.8" text-anchor="middle">60</text>
<line x1="1883.7" y1="1671.8" x2="1883.7" y2="1674.8" stroke="#333" stroke-width="1"/>
<text x="1883.7" y="1683.8" text-anchor="middle">80</text>
<line x1="1915.5" y1="1671.8" x2="1915.5" y2="1674.8" stroke="#333" stroke-width="1"/>
<text x="1915.5" y="1683.8" text-anchor="middle">100</text>
<line x1="1947.3" y1="1671.8" x2="1947.3" y2="1674.8" stroke="#333" stroke-width="1"/>
<text x="1947.3" y="1683.8" text-anchor="middle">120</text>
</g>
<rect x="2002" y="1447.3" width="197.0999999999999" height="224.5" fill="#fff" stroke="#222" stroke-width="2.2"/>
<text x="2100.6" y="1442" font-family="'DejaVu Sans',sans-serif" font-size="8.5" fill="#555" text-anchor="middle">gpt2</text>
<g font-family="'DejaVu Sans',sans-serif" font-size="7.5" fill="#444" stroke="#444" stroke-width="0.25">
<line x1="1999" y1="1661.8" x2="2002" y2="1661.8" stroke="#333" stroke-width="1"/>
<text x="1997" y="1664.4" text-anchor="end">0.0</text>
<line x1="1999" y1="1621.0" x2="2002" y2="1621.0" stroke="#333" stroke-width="1"/>
<text x="1997" y="1623.6" text-anchor="end">0.2</text>
<line x1="1999" y1="1580.2" x2="2002" y2="1580.2" stroke="#333" stroke-width="1"/>
<text x="1997" y="1582.8" text-anchor="end">0.4</text>
<line x1="1999" y1="1539.4" x2="2002" y2="1539.4" stroke="#333" stroke-width="1"/>
<text x="1997" y="1542.0" text-anchor="end">0.6</text>
<line x1="1999" y1="1498.6" x2="2002" y2="1498.6" stroke="#333" stroke-width="1"/>
<text x="1997" y="1501.2" text-anchor="end">0.8</text>
<line x1="1999" y1="1457.8" x2="2002" y2="1457.8" stroke="#333" stroke-width="1"/>
<text x="1997" y="1460.4" text-anchor="end">1.0</text>
<line x1="2024.2" y1="1671.8" x2="2024.2" y2="1674.8" stroke="#333" stroke-width="1"/>
<text x="2024.2" y="1683.8" text-anchor="middle">20</text>
<line x1="2056.0" y1="1671.8" x2="2056.0" y2="1674.8" stroke="#333" stroke-width="1"/>
<text x="2056.0" y="1683.8" text-anchor="middle">40</text>
<line x1="2087.8" y1="1671.8" x2="2087.8" y2="1674.8" stroke="#333" stroke-width="1"/>
<text x="2087.8" y="1683.8" text-anchor="middle">60</text>
<line x1="2119.5" y1="1671.8" x2="2119.5" y2="1674.8" stroke="#333" stroke-width="1"/>
<text x="2119.5" y="1683.8" text-anchor="middle">80</text>
<line x1="2151.3" y1="1671.8" x2="2151.3" y2="1674.8" stroke="#333" stroke-width="1"/>
<text x="2151.3" y="1683.8" text-anchor="middle">100</text>
<line x1="2183.1" y1="1671.8" x2="2183.1" y2="1674.8" stroke="#333" stroke-width="1"/>
<text x="2183.1" y="1683.8" text-anchor="middle">120</text>
</g>
<rect x="2237.7" y="1447.3" width="197.20000000000027" height="224.5" fill="#fff" stroke="#222" stroke-width="2.2"/>
<text x="2336.3" y="1442" font-family="'DejaVu Sans',sans-serif" font-size="8.5" fill="#555" text-anchor="middle">t5</text>
<g font-family="'DejaVu Sans',sans-serif" font-size="7.5" fill="#444" stroke="#444" stroke-width="0.25">
<line x1="2234.7" y1="1661.8" x2="2237.7" y2="1661.8" stroke="#333" stroke-width="1"/>
<text x="2232.7" y="1664.4" text-anchor="end">0.0</text>
<line x1="2234.7" y1="1621.0" x2="2237.7" y2="1621.0" stroke="#333" stroke-width="1"/>
<text x="2232.7" y="1623.6" text-anchor="end">0.2</text>
<line x1="2234.7" y1="1580.2" x2="2237.7" y2="1580.2" stroke="#333" stroke-width="1"/>
<text x="2232.7" y="1582.8" text-anchor="end">0.4</text>
<line x1="2234.7" y1="1539.4" x2="2237.7" y2="1539.4" stroke="#333" stroke-width="1"/>
<text x="2232.7" y="1542.0" text-anchor="end">0.6</text>
<line x1="2234.7" y1="1498.6" x2="2237.7" y2="1498.6" stroke="#333" stroke-width="1"/>
<text x="2232.7" y="1501.2" text-anchor="end">0.8</text>
<line x1="2234.7" y1="1457.8" x2="2237.7" y2="1457.8" stroke="#333" stroke-width="1"/>
<text x="2232.7" y="1460.4" text-anchor="end">1.0</text>
<line x1="2259.9" y1="1671.8" x2="2259.9" y2="1674.8" stroke="#333" stroke-width="1"/>
<text x="2259.9" y="1683.8" text-anchor="middle">20</text>
<line x1="2291.7" y1="1671.8" x2="2291.7" y2="1674.8" stroke="#333" stroke-width="1"/>
<text x="2291.7" y="1683.8" text-anchor="middle">40</text>
<line x1="2323.5" y1="1671.8" x2="2323.5" y2="1674.8" stroke="#333" stroke-width="1"/>
<text x="2323.5" y="1683.8" text-anchor="middle">60</text>
<line x1="2355.2" y1="1671.8" x2="2355.2" y2="1674.8" stroke="#333" stroke-width="1"/>
<text x="2355.2" y="1683.8" text-anchor="middle">80</text>
<line x1="2387.0" y1="1671.8" x2="2387.0" y2="1674.8" stroke="#333" stroke-width="1"/>
<text x="2387.0" y="1683.8" text-anchor="middle">100</text>
<line x1="2418.8" y1="1671.8" x2="2418.8" y2="1674.8" stroke="#333" stroke-width="1"/>
<text x="2418.8" y="1683.8" text-anchor="middle">120</text>
</g>
<rect x="2473.5" y="1447.3" width="197.19999999999982" height="224.5" fill="#fff" stroke="#222" stroke-width="2.2"/>
<text x="2572.1" y="1442" font-family="'DejaVu Sans',sans-serif" font-size="8.5" fill="#555" text-anchor="middle">llama2</text>
<g font-family="'DejaVu Sans',sans-serif" font-size="7.5" fill="#444" stroke="#444" stroke-width="0.25">
<line x1="2470.5" y1="1661.8" x2="2473.5" y2="1661.8" stroke="#333" stroke-width="1"/>
<text x="2468.5" y="1664.4" text-anchor="end">0.0</text>
<line x1="2470.5" y1="1621.0" x2="2473.5" y2="1621.0" stroke="#333" stroke-width="1"/>
<text x="2468.5" y="1623.6" text-anchor="end">0.2</text>
<line x1="2470.5" y1="1580.2" x2="2473.5" y2="1580.2" stroke="#333" stroke-width="1"/>
<text x="2468.5" y="1582.8" text-anchor="end">0.4</text>
<line x1="2470.5" y1="1539.4" x2="2473.5" y2="1539.4" stroke="#333" stroke-width="1"/>
<text x="2468.5" y="1542.0" text-anchor="end">0.6</text>
<line x1="2470.5" y1="1498.6" x2="2473.5" y2="1498.6" stroke="#333" stroke-width="1"/>
<text x="2468.5" y="1501.2" text-anchor="end">0.8</text>
<line x1="2470.5" y1="1457.8" x2="2473.5" y2="1457.8" stroke="#333" stroke-width="1"/>
<text x="2468.5" y="1460.4" text-anchor="end">1.0</text>
<line x1="2495.7" y1="1671.8" x2="2495.7" y2="1674.8" stroke="#333" stroke-width="1"/>
<text x="2495.7" y="1683.8" text-anchor="middle">20</text>
<line x1="2527.5" y1="1671.8" x2="2527.5" y2="1674.8" stroke="#333" stroke-width="1"/>
<text x="2527.5" y="1683.8" text-anchor="middle">40</text>
<line x1="2559.3" y1="1671.8" x2="2559.3" y2="1674.8" stroke="#333" stroke-width="1"/>
<text x="2559.3" y="1683.8" text-anchor="middle">60</text>
<line x1="2591.0" y1="1671.8" x2="2591.0" y2="1674.8" stroke="#333" stroke-width="1"/>
<text x="2591.0" y="1683.8" text-anchor="middle">80</text>
<line x1="2622.8" y1="1671.8" x2="2622.8" y2="1674.8" stroke="#333" stroke-width="1"/>
<text x="2622.8" y="1683.8" text-anchor="middle">100</text>
<line x1="2654.6" y1="1671.8" x2="2654.6" y2="1674.8" stroke="#333" stroke-width="1"/>
<text x="2654.6" y="1683.8" text-anchor="middle">120</text>
</g>
<g fill="#9b59d9" fill-opacity="0.7">
<circle cx="1783.3" cy="1575.6" r="2.0"/>
<circle cx="1789.7" cy="1583.3" r="4.1"/>
<circle cx="1784.6" cy="1596.0" r="7.7"/>
<circle cx="1789.7" cy="1603.7" r="10.2"/>
<circle cx="1775.7" cy="1607.5" r="4.6"/>
<circle cx="1775.7" cy="1612.6" r="5.1"/>
<circle cx="1780.0" cy="1619.5" r="3.6"/>
<circle cx="1797.9" cy="1615.9" r="4.1"/>
<circle cx="1799.9" cy="1596.0" r="3.1"/>
<circle cx="1802.4" cy="1588.4" r="4.6"/>
<circle cx="1806.8" cy="1579.4" r="2.0"/>
<circle cx="1807.6" cy="1588.4" r="5.1"/>
<circle cx="1808.8" cy="1597.3" r="3.6"/>
<circle cx="1816.5" cy="1591.4" r="3.6"/>
<circle cx="1821.6" cy="1593.5" r="5.6"/>
<circle cx="1822.9" cy="1579.4" r="4.1"/>
<circle cx="1826.7" cy="1592.2" r="3.1"/>
<circle cx="1823.6" cy="1602.7" r="2.6"/>
<circle cx="1831.8" cy="1596.0" r="3.1"/>
<circle cx="1831.0" cy="1608.3" r="2.6"/>
<circle cx="1842.0" cy="1581.2" r="9.2"/>
<circle cx="1847.1" cy="1594.0" r="2.0"/>
<circle cx="1852.2" cy="1592.2" r="4.1"/>
<circle cx="1853.5" cy="1596.5" r="3.1"/>
<circle cx="1817.0" cy="1625.4" r="4.1"/>
<circle cx="1807.0" cy="1635.1" r="7.1"/>
<circle cx="1775.7" cy="1633.8" r="4.6"/>
<circle cx="1779.0" cy="1631.7" r="3.6"/>
<circle cx="1885.9" cy="1594.5" r="4.1"/>
<circle cx="1894.5" cy="1599.8" r="2.6"/>
<circle cx="1953.7" cy="1590.9" r="2.0"/>
</g>
<g fill="#2b2b90" fill-opacity="0.7">
<circle cx="2011.6" cy="1565.9" r="5.1"/>
<circle cx="2011.6" cy="1571.0" r="2.0"/>
<circle cx="2019.3" cy="1558.5" r="2.0"/>
<circle cx="2026.9" cy="1552.1" r="3.6"/>
<circle cx="2025.7" cy="1567.2" r="3.6"/>
<circle cx="2041.0" cy="1557.2" r="5.1"/>
<circle cx="2047.3" cy="1562.3" r="4.1"/>
<circle cx="2035.9" cy="1573.1" r="3.1"/>
<circle cx="2044.8" cy="1570.5" r="3.1"/>
<circle cx="2053.7" cy="1558.5" r="3.1"/>
<circle cx="2058.3" cy="1550.9" r="6.1"/>
<circle cx="2057.6" cy="1544.2" r="3.1"/>
<circle cx="2060.1" cy="1546.8" r="3.1"/>
<circle cx="2064.4" cy="1534.0" r="2.0"/>
<circle cx="2060.1" cy="1562.3" r="2.6"/>
<circle cx="2067.8" cy="1557.8" r="3.6"/>
<circle cx="2078.7" cy="1550.9" r="8.7"/>
<circle cx="2082.6" cy="1535.6" r="1.5"/>
<circle cx="2067.8" cy="1570.5" r="2.6"/>
<circle cx="2058.3" cy="1574.8" r="4.1"/>
<circle cx="2050.7" cy="1578.7" r="2.6"/>
<circle cx="2042.2" cy="1579.4" r="1.5"/>
<circle cx="2037.1" cy="1578.7" r="1.5"/>
<circle cx="2010.9" cy="1585.6" r="4.1"/>
<circle cx="2025.7" cy="1588.4" r="7.7"/>
<circle cx="2028.2" cy="1593.5" r="10.2"/>
<circle cx="2023.1" cy="1608.8" r="10.2"/>
<circle cx="2016.7" cy="1596.0" r="3.1"/>
<circle cx="2034.6" cy="1587.1" r="3.1"/>
<circle cx="2059.6" cy="1585.1" r="2.6"/>
<circle cx="2043.5" cy="1612.6" r="6.6"/>
<circle cx="2034.6" cy="1618.5" r="4.1"/>
<circle cx="2053.2" cy="1622.3" r="4.1"/>
<circle cx="2014.2" cy="1622.8" r="4.1"/>
<circle cx="2011.6" cy="1627.9" r="5.1"/>
<circle cx="2088.7" cy="1571.8" r="4.1"/>
<circle cx="2089.2" cy="1605.5" r="3.1"/>
<circle cx="2121.6" cy="1586.6" r="4.1"/>
<circle cx="2130.3" cy="1578.7" r="2.6"/>
<circle cx="2189.4" cy="1577.4" r="2.0"/>
</g>
<g fill="#f5a033" fill-opacity="0.7">
<circle cx="2246.8" cy="1474.7" r="4.9"/>
<circle cx="2252.3" cy="1491.2" r="4.9"/>
<circle cx="2260.2" cy="1482.0" r="11.0"/>
<circle cx="2263.3" cy="1494.3" r="11.0"/>
<circle cx="2269.4" cy="1466.7" r="4.9"/>
<circle cx="2272.5" cy="1462.5" r="3.7"/>
<circle cx="2281.7" cy="1475.9" r="6.1"/>
<circle cx="2293.9" cy="1466.7" r="4.9"/>
<circle cx="2295.1" cy="1479.0" r="6.1"/>
<circle cx="2303.1" cy="1475.9" r="4.9"/>
<circle cx="2314.1" cy="1477.1" r="8.6"/>
<circle cx="2318.4" cy="1468.6" r="3.7"/>
<circle cx="2324.5" cy="1474.7" r="4.9"/>
<circle cx="2358.2" cy="1468.6" r="3.7"/>
<circle cx="2366.1" cy="1465.5" r="3.1"/>
<circle cx="2425.5" cy="1466.7" r="2.4"/>
<circle cx="2249.8" cy="1507.8" r="3.7"/>
<circle cx="2251.0" cy="1516.9" r="2.4"/>
<circle cx="2289.0" cy="1506.5" r="4.3"/>
<circle cx="2247.4" cy="1561.6" r="5.5"/>
<circle cx="2278.6" cy="1569.6" r="8.0"/>
<circle cx="2275.5" cy="1512.7" r="3.1"/>
</g>
<g fill="#9e4a4a" fill-opacity="0.7">
<circle cx="2482.5" cy="1526.1" r="5.5"/>
<circle cx="2483.7" cy="1548.2" r="4.9"/>
<circle cx="2499.0" cy="1534.1" r="4.9"/>
<circle cx="2508.2" cy="1512.7" r="4.3"/>
<circle cx="2507.0" cy="1524.9" r="3.7"/>
<circle cx="2514.3" cy="1517.6" r="3.1"/>
<circle cx="2499.0" cy="1549.4" r="11.0"/>
<circle cx="2495.9" cy="1573.9" r="8.6"/>
<circle cx="2495.9" cy="1590.4" r="7.3"/>
<circle cx="2507.0" cy="1589.2" r="4.9"/>
<circle cx="2517.4" cy="1543.3" r="7.3"/>
<circle cx="2529.6" cy="1540.2" r="6.1"/>
<circle cx="2532.7" cy="1520.6" r="4.9"/>
<circle cx="2540.0" cy="1531.0" r="4.9"/>
<circle cx="2549.8" cy="1526.1" r="9.8"/>
<circle cx="2560.2" cy="1539.0" r="4.3"/>
<circle cx="2560.2" cy="1560.4" r="3.7"/>
<circle cx="2531.5" cy="1573.9" r="3.1"/>
<circle cx="2523.5" cy="1599.6" r="4.3"/>
<circle cx="2486.8" cy="1604.5" r="3.7"/>
<circle cx="2482.5" cy="1614.9" r="4.9"/>
<circle cx="2487.4" cy="1624.7" r="4.3"/>
<circle cx="2514.3" cy="1622.9" r="7.3"/>
<circle cx="2593.9" cy="1540.8" r="4.3"/>
<circle cx="2601.9" cy="1541.4" r="2.4"/>
<circle cx="2661.3" cy="1528.6" r="2.4"/>
<circle cx="2525.3" cy="1552.5" r="3.7"/>
<circle cx="2538.8" cy="1552.5" r="3.1"/>
</g>
<line x1="1774.4" y1="1608.8" x2="1954.2" y2="1554.7" stroke="#a970e8" stroke-width="2.4"/>
<line x1="2011.6" y1="1604.2" x2="2190.2" y2="1485.8" stroke="#3a3a9a" stroke-width="2.4"/>
<line x1="2248" y1="1499.2" x2="2425.7" y2="1454.5" stroke="#f5b050" stroke-width="2.4"/>
<line x1="2483.9" y1="1572.7" x2="2662.7" y2="1474.7" stroke="#a85a5a" stroke-width="2.4"/>
<text x="1711" y="1558" font-family="'DejaVu Sans',sans-serif" font-size="11" fill="#555" text-anchor="middle" transform="rotate(-90 1711 1558)" textLength="157" lengthAdjust="spacingAndGlyphs">overall discrimination risk</text>
<text x="2203.5" y="1703.5" font-family="'DejaVu Sans',sans-serif" font-size="11" fill="#555" text-anchor="middle" textLength="124" lengthAdjust="spacingAndGlyphs">income (dollar/hour)</text>
<rect x="2677" y="1591" width="82.5" height="75" rx="2" fill="#fff" stroke="#ddd" stroke-width="1"/>
<g font-family="'DejaVu Sans',sans-serif" fill="#444" stroke="#444" stroke-width="0.3" font-size="11"><text x="2718" y="1605" text-anchor="middle" font-size="10.5">population</text>
<circle cx="2693.5" cy="1618" r="7.5" fill="#333" fill-opacity="0.9" stroke="none"/><text x="2715.5" y="1622">6000</text>
<circle cx="2693.5" cy="1635.5" r="9" fill="#333" fill-opacity="0.9" stroke="none"/><text x="2715.5" y="1639.5">12000</text>
<circle cx="2693.5" cy="1653.5" r="10.5" fill="#333" fill-opacity="0.9" stroke="none"/><text x="2715.5" y="1657.5">18000</text>
</g></g>
<line x1="2389" y1="799" x2="2435" y2="697" stroke="#4472c4" stroke-width="1.6"/><line x1="2435" y1="697" x2="2434.5" y2="710.0" stroke="#4472c4" stroke-width="1.6"/><line x1="2435" y1="697" x2="2425.6" y2="706.0" stroke="#4472c4" stroke-width="1.6"/>
<line x1="2514.5" y1="1040.7" x2="2482.7" y2="1179.7" stroke="#c00000" stroke-width="1.6"/><line x1="2482.7" y1="1179.7" x2="2480.6" y2="1166.9" stroke="#c00000" stroke-width="1.6"/><line x1="2482.7" y1="1179.7" x2="2490.1" y2="1169.0" stroke="#c00000" stroke-width="1.6"/><g filter="url(#soft2)"><rect x="3086" y="676" width="209" height="200" fill="#fff"/>
<rect x="3096.5" y="736.5" width="31.5" height="139.5" fill="#3a76b8"/>
<rect x="3128" y="782.5" width="32" height="93.5" fill="#c63c31"/>
<rect x="3222.5" y="711.5" width="31.5" height="164.5" fill="#3a76b8"/>
<rect x="3254" y="796.5" width="31.5" height="79.5" fill="#c63c31"/>
<rect x="3086" y="676" width="209" height="200" fill="none" stroke="#111" stroke-width="2.6"/>
<g font-family="'DejaVu Sans',sans-serif" font-size="19.5" fill="#222" stroke="#222" stroke-width="0.35">
<line x1="3081" y1="876.0" x2="3086" y2="876.0" stroke="#222" stroke-width="1.6"/>
<text x="3075" y="883.0" text-anchor="end">0.0</text>
<line x1="3081" y1="836.0" x2="3086" y2="836.0" stroke="#222" stroke-width="1.6"/>
<text x="3075" y="843.0" text-anchor="end">0.2</text>
<line x1="3081" y1="796.0" x2="3086" y2="796.0" stroke="#222" stroke-width="1.6"/>
<text x="3075" y="803.0" text-anchor="end">0.4</text>
<line x1="3081" y1="756.0" x2="3086" y2="756.0" stroke="#222" stroke-width="1.6"/>
<text x="3075" y="763.0" text-anchor="end">0.6</text>
<line x1="3081" y1="716.0" x2="3086" y2="716.0" stroke="#222" stroke-width="1.6"/>
<text x="3075" y="723.0" text-anchor="end">0.8</text>
<line x1="3081" y1="676.0" x2="3086" y2="676.0" stroke="#222" stroke-width="1.6"/>
<text x="3075" y="683.0" text-anchor="end">1.0</text>
<line x1="3295" y1="876.0" x2="3300" y2="876.0" stroke="#222" stroke-width="1.6"/>
<text x="3307" y="883.0">0.000</text>
<line x1="3295" y1="818.5" x2="3300" y2="818.5" stroke="#222" stroke-width="1.6"/>
<text x="3307" y="825.5">0.005</text>
<line x1="3295" y1="759.5" x2="3300" y2="759.5" stroke="#222" stroke-width="1.6"/>
<text x="3307" y="766.5">0.010</text>
<line x1="3295" y1="700.0" x2="3300" y2="700.0" stroke="#222" stroke-width="1.6"/>
<text x="3307" y="707.0">0.015</text>
</g>
<text x="3031" y="776.0" font-family="'DejaVu Sans',sans-serif" font-size="19.5" fill="#5a9ad4" text-anchor="middle" transform="rotate(-90 3031 776.0)">Bias Risk</text>
<text x="3387" y="776.0" font-family="'DejaVu Sans',sans-serif" font-size="19.5" fill="#d4483d" text-anchor="middle" transform="rotate(-90 3387 776.0)">Volatility Risk</text>
<line x1="3096.5" y1="876" x2="3096.5" y2="881" stroke="#222" stroke-width="1.6"/>
<text x="3096" y="909" font-family="'DejaVu Sans',sans-serif" font-size="19.5" fill="#3a3a3a" stroke="#3a3a3a" stroke-width="0.3" text-anchor="middle" transform="rotate(-14 3096 909)">llama2</text>
<line x1="3222.5" y1="876" x2="3222.5" y2="881" stroke="#222" stroke-width="1.6"/>
<text x="3221" y="922" font-family="'DejaVu Sans',sans-serif" font-size="19.5" fill="#3a3a3a" stroke="#3a3a3a" stroke-width="0.3" text-anchor="middle" transform="rotate(-14 3221 922)">llama2-toxicity</text></g>
<g filter="url(#soft2)">
<rect x="3661.5" y="651" width="457.89999999999964" height="236.5" fill="#fff"/>
<line x1="3661.5" y1="674" x2="4119.4" y2="674" stroke="#9c9c9c" stroke-width="2.2"/>
<line x1="3656.5" y1="674" x2="3661.5" y2="674" stroke="#333" stroke-width="1.6"/>
<line x1="3661.5" y1="746.5" x2="4119.4" y2="746.5" stroke="#9c9c9c" stroke-width="2.2"/>
<line x1="3656.5" y1="746.5" x2="3661.5" y2="746.5" stroke="#333" stroke-width="1.6"/>
<line x1="3661.5" y1="819" x2="4119.4" y2="819" stroke="#9c9c9c" stroke-width="2.2"/>
<line x1="3656.5" y1="819" x2="3661.5" y2="819" stroke="#333" stroke-width="1.6"/>
<line x1="3682.5" y1="651" x2="3682.5" y2="887.5" stroke="#9c9c9c" stroke-width="2.2"/>
<line x1="3682.5" y1="887.5" x2="3682.5" y2="892.5" stroke="#333" stroke-width="1.6"/>
<line x1="3751.6" y1="651" x2="3751.6" y2="887.5" stroke="#9c9c9c" stroke-width="2.2"/>
<line x1="3751.6" y1="887.5" x2="3751.6" y2="892.5" stroke="#333" stroke-width="1.6"/>
<line x1="3820.7" y1="651" x2="3820.7" y2="887.5" stroke="#9c9c9c" stroke-width="2.2"/>
<line x1="3820.7" y1="887.5" x2="3820.7" y2="892.5" stroke="#333" stroke-width="1.6"/>
<line x1="3889.8" y1="651" x2="3889.8" y2="887.5" stroke="#9c9c9c" stroke-width="2.2"/>
<line x1="3889.8" y1="887.5" x2="3889.8" y2="892.5" stroke="#333" stroke-width="1.6"/>
<line x1="3958.9" y1="651" x2="3958.9" y2="887.5" stroke="#9c9c9c" stroke-width="2.2"/>
<line x1="3958.9" y1="887.5" x2="3958.9" y2="892.5" stroke="#333" stroke-width="1.6"/>
<line x1="4028.0" y1="651" x2="4028.0" y2="887.5" stroke="#9c9c9c" stroke-width="2.2"/>
<line x1="4028.0" y1="887.5" x2="4028.0" y2="892.5" stroke="#333" stroke-width="1.6"/>
<line x1="4097.1" y1="651" x2="4097.1" y2="887.5" stroke="#9c9c9c" stroke-width="2.2"/>
<line x1="4097.1" y1="887.5" x2="4097.1" y2="892.5" stroke="#333" stroke-width="1.6"/>
<rect x="3670" y="658.5" width="152.5" height="60.5" rx="3" fill="#fff" fill-opacity="0.8" stroke="#ddd" stroke-width="1"/>
<polyline points="3682.5,876 3751.6,819 3820.7,846 3889.8,662.5 3958.9,720 4028.0,686 4097.1,709" fill="none" stroke="#3a80c2" stroke-width="3.6"/>
<polyline points="3682.5,662 3751.6,856.5 3820.7,827 3889.8,876 3958.9,845.5 4028.0,851.5 4097.1,860" fill="none" stroke="#cb4335" stroke-width="3.2"/>
<polygon points="3682.5,868 3675.0,882 3690.0,882" fill="#3a80c2"/>
<polygon points="3751.6,811 3744.1,825 3759.1,825" fill="#3a80c2"/>
<polygon points="3820.7,838 3813.2,852 3828.2,852" fill="#3a80c2"/>
<polygon points="3889.8,654.5 3882.3,668.5 3897.3,668.5" fill="#3a80c2"/>
<polygon points="3958.9,712 3951.4,726 3966.4,726" fill="#3a80c2"/>
<polygon points="4028.0,678 4020.5,692 4035.5,692" fill="#3a80c2"/>
<polygon points="4097.1,701 4089.6,715 4104.6,715" fill="#3a80c2"/>
<rect x="3675.9" y="655.4" width="13.2" height="13.2" fill="#cb4335"/>
<rect x="3745.0" y="849.9" width="13.2" height="13.2" fill="#cb4335"/>
<rect x="3814.1" y="820.4" width="13.2" height="13.2" fill="#cb4335"/>
<rect x="3883.2" y="869.4" width="13.2" height="13.2" fill="#cb4335"/>
<rect x="3952.3" y="838.9" width="13.2" height="13.2" fill="#cb4335"/>
<rect x="4021.4" y="844.9" width="13.2" height="13.2" fill="#cb4335"/>
<rect x="4090.5" y="853.4" width="13.2" height="13.2" fill="#cb4335"/>
<line x1="3676" y1="675" x2="3718" y2="675" stroke="#3a80c2" stroke-width="3.4"/><polygon points="3697,667 3689.5,681 3704.5,681" fill="#3a80c2"/>
<line x1="3676" y1="702.5" x2="3718" y2="702.5" stroke="#cb4335" stroke-width="3.2"/><rect x="3690.4" y="695.9" width="13.2" height="13.2" fill="#cb4335"/>
<g font-family="'DejaVu Sans',sans-serif" font-size="18.8" fill="#1a1a1a" stroke="#1a1a1a" stroke-width="0.4"><text x="3731.5" y="681.5">Prejudice</text><text x="3731.5" y="709">Volatility</text></g>
<rect x="3661.5" y="651" width="457.89999999999964" height="236.5" fill="none" stroke="#111" stroke-width="3"/>
<g font-family="'DejaVu Sans',sans-serif" font-size="18.8" fill="#3f88cc" stroke="#3f88cc" stroke-width="0.5" text-anchor="end">
<text x="3648" y="680.5">0.55</text>
<text x="3648" y="753.0">0.50</text>
<text x="3648" y="825.5">0.45</text>
</g>
<g font-family="'DejaVu Sans',sans-serif" font-size="18.8" fill="#d4483d" stroke="#d4483d" stroke-width="0.5">
<line x1="4119.4" y1="707.3" x2="4124.4" y2="707.3" stroke="#333" stroke-width="1.6"/>
<text x="4132" y="713.8">0.015</text>
<line x1="4119.4" y1="766.7" x2="4124.4" y2="766.7" stroke="#333" stroke-width="1.6"/>
<text x="4132" y="773.2">0.010</text>
<line x1="4119.4" y1="828" x2="4124.4" y2="828" stroke="#333" stroke-width="1.6"/>
<text x="4132" y="834.5">0.005</text>
</g>
<g font-family="'DejaVu Sans',sans-serif" font-size="18.8" fill="#222" stroke="#222" stroke-width="0.4" text-anchor="middle">
<text x="3682.5" y="914.5">137M</text>
<text x="3751.6" y="914.5">335M</text>
<text x="3820.7" y="914.5">812M</text>
<text x="3889.8" y="914.5">1.3b</text>
<text x="3958.9" y="914.5">1.61b</text>
<text x="4028.0" y="914.5">2.7b</text>
<text x="4097.1" y="914.5">20b</text>
<text x="3890" y="940">Model Size</text></g>
<text x="3597" y="769" font-family="'DejaVu Sans',sans-serif" font-size="18.8" fill="#4a90cf" stroke="#4a90cf" stroke-width="0.4" text-anchor="middle" transform="rotate(-90 3597 769)">Bias Risk</text>
<text x="4208" y="768.5" font-family="'DejaVu Sans',sans-serif" font-size="18.8" fill="#d4483d" stroke="#d4483d" stroke-width="0.4" text-anchor="middle" transform="rotate(-90 4208 768.5)">Volatility Risk</text>
</g>
<g filter="url(#soft2)">
<rect x="3076" y="1271" width="209" height="185.5" fill="#fff"/>
<rect x="3086.5" y="1327.5" width="38.5" height="129.0" fill="#3a76b8"/>
<rect x="3125" y="1369.5" width="39" height="87.0" fill="#c63c31"/>
<rect x="3197.5" y="1357.5" width="38.5" height="99.0" fill="#3a76b8"/>
<rect x="3236" y="1285.5" width="39" height="171.0" fill="#c63c31"/>
<rect x="3076" y="1271" width="209" height="185.5" fill="none" stroke="#111" stroke-width="2.6"/>
<g font-family="'DejaVu Sans',sans-serif" font-size="15.6" fill="#333" stroke="#333" stroke-width="0.35">
<line x1="3071" y1="1456.5" x2="3076" y2="1456.5" stroke="#222" stroke-width="1.6"/>
<text x="3065" y="1462.1" text-anchor="end">0.0</text>
<line x1="3071" y1="1419.4" x2="3076" y2="1419.4" stroke="#222" stroke-width="1.6"/>
<text x="3065" y="1425.0" text-anchor="end">0.2</text>
<line x1="3071" y1="1382.3" x2="3076" y2="1382.3" stroke="#222" stroke-width="1.6"/>
<text x="3065" y="1387.9" text-anchor="end">0.4</text>
<line x1="3071" y1="1345.2" x2="3076" y2="1345.2" stroke="#222" stroke-width="1.6"/>
<text x="3065" y="1350.8" text-anchor="end">0.6</text>
<line x1="3071" y1="1308.1" x2="3076" y2="1308.1" stroke="#222" stroke-width="1.6"/>
<text x="3065" y="1313.7" text-anchor="end">0.8</text>
<line x1="3071" y1="1271.0" x2="3076" y2="1271.0" stroke="#222" stroke-width="1.6"/>
<text x="3065" y="1276.6" text-anchor="end">1.0</text>
<line x1="3285" y1="1456.5" x2="3290" y2="1456.5" stroke="#222" stroke-width="1.6"/>
<text x="3297" y="1462.1">0.000</text>
<line x1="3285" y1="1402.5" x2="3290" y2="1402.5" stroke="#222" stroke-width="1.6"/>
<text x="3297" y="1408.1">0.005</text>
<line x1="3285" y1="1347.5" x2="3290" y2="1347.5" stroke="#222" stroke-width="1.6"/>
<text x="3297" y="1353.1">0.010</text>
<line x1="3285" y1="1293.0" x2="3290" y2="1293.0" stroke="#222" stroke-width="1.6"/>
<text x="3297" y="1298.6">0.015</text>
</g>
<text x="3031" y="1363.75" font-family="'DejaVu Sans',sans-serif" font-size="15.2" fill="#5a9ad4" text-anchor="middle" transform="rotate(-90 3031 1363.75)">Bias Risk</text>
<text x="3359" y="1363.75" font-family="'DejaVu Sans',sans-serif" font-size="15.2" fill="#d4483d" text-anchor="middle" transform="rotate(-90 3359 1363.75)">Volatility Risk</text>
<line x1="3086.5" y1="1456.5" x2="3086.5" y2="1461.5" stroke="#222" stroke-width="1.6"/>
<text x="3088.5" y="1504.8" font-family="'DejaVu Sans',sans-serif" font-size="15.2" fill="#3a3a3a" stroke="#3a3a3a" stroke-width="0.3" text-anchor="middle" transform="rotate(-45 3088.5 1504.8)">llama2-7b</text>
<line x1="3197.5" y1="1456.5" x2="3197.5" y2="1461.5" stroke="#222" stroke-width="1.6"/>
<text x="3199.5" y="1520.0" font-family="'DejaVu Sans',sans-serif" font-size="15.2" fill="#3a3a3a" stroke="#3a3a3a" stroke-width="0.3" text-anchor="middle" transform="rotate(-45 3199.5 1520.0)">llama2-7b-chat</text>
<rect x="3447.5" y="1271" width="208.5" height="185.5" fill="#fff"/>
<rect x="3457.5" y="1345" width="38.5" height="111.5" fill="#3a76b8"/>
<rect x="3496" y="1448.5" width="39" height="8.0" fill="#c63c31"/>
<rect x="3568.5" y="1350" width="38.5" height="106.5" fill="#3a76b8"/>
<rect x="3607" y="1424" width="39" height="32.5" fill="#c63c31"/>
<rect x="3447.5" y="1271" width="208.5" height="185.5" fill="none" stroke="#111" stroke-width="2.6"/>
<g font-family="'DejaVu Sans',sans-serif" font-size="15.6" fill="#333" stroke="#333" stroke-width="0.35">
<line x1="3442.5" y1="1456.5" x2="3447.5" y2="1456.5" stroke="#222" stroke-width="1.6"/>
<text x="3436.5" y="1462.1" text-anchor="end">0.0</text>
<line x1="3442.5" y1="1419.4" x2="3447.5" y2="1419.4" stroke="#222" stroke-width="1.6"/>
<text x="3436.5" y="1425.0" text-anchor="end">0.2</text>
<line x1="3442.5" y1="1382.3" x2="3447.5" y2="1382.3" stroke="#222" stroke-width="1.6"/>
<text x="3436.5" y="1387.9" text-anchor="end">0.4</text>
<line x1="3442.5" y1="1345.2" x2="3447.5" y2="1345.2" stroke="#222" stroke-width="1.6"/>
<text x="3436.5" y="1350.8" text-anchor="end">0.6</text>
<line x1="3442.5" y1="1308.1" x2="3447.5" y2="1308.1" stroke="#222" stroke-width="1.6"/>
<text x="3436.5" y="1313.7" text-anchor="end">0.8</text>
<line x1="3442.5" y1="1271.0" x2="3447.5" y2="1271.0" stroke="#222" stroke-width="1.6"/>
<text x="3436.5" y="1276.6" text-anchor="end">1.0</text>
<line x1="3656" y1="1456.5" x2="3661" y2="1456.5" stroke="#222" stroke-width="1.6"/>
<text x="3668" y="1462.1">0.000</text>
<line x1="3656" y1="1402.5" x2="3661" y2="1402.5" stroke="#222" stroke-width="1.6"/>
<text x="3668" y="1408.1">0.005</text>
<line x1="3656" y1="1347.5" x2="3661" y2="1347.5" stroke="#222" stroke-width="1.6"/>
<text x="3668" y="1353.1">0.010</text>
<line x1="3656" y1="1293.0" x2="3661" y2="1293.0" stroke="#222" stroke-width="1.6"/>
<text x="3668" y="1298.6">0.015</text>
</g>
<text x="3402.5" y="1363.75" font-family="'DejaVu Sans',sans-serif" font-size="15.2" fill="#5a9ad4" text-anchor="middle" transform="rotate(-90 3402.5 1363.75)">Bias Risk</text>
<text x="3730" y="1363.75" font-family="'DejaVu Sans',sans-serif" font-size="15.2" fill="#d4483d" text-anchor="middle" transform="rotate(-90 3730 1363.75)">Volatility Risk</text>
<line x1="3457.5" y1="1456.5" x2="3457.5" y2="1461.5" stroke="#222" stroke-width="1.6"/>
<text x="3459.5" y="1507.9" font-family="'DejaVu Sans',sans-serif" font-size="15.2" fill="#3a3a3a" stroke="#3a3a3a" stroke-width="0.3" text-anchor="middle" transform="rotate(-45 3459.5 1507.9)">llama2-13b</text>
<line x1="3568.5" y1="1456.5" x2="3568.5" y2="1461.5" stroke="#222" stroke-width="1.6"/>
<text x="3570.5" y="1523.1" font-family="'DejaVu Sans',sans-serif" font-size="15.2" fill="#3a3a3a" stroke="#3a3a3a" stroke-width="0.3" text-anchor="middle" transform="rotate(-45 3570.5 1523.1)">llama2-13b-chat</text>
<rect x="3819" y="1271" width="208.5" height="185.5" fill="#fff"/>
<rect x="3829" y="1362" width="38.5" height="94.5" fill="#3a76b8"/>
<rect x="3867.5" y="1451" width="39.0" height="5.5" fill="#c63c31"/>
<rect x="3940" y="1383" width="38.5" height="73.5" fill="#3a76b8"/>
<rect x="3978.5" y="1431" width="39.0" height="25.5" fill="#c63c31"/>
<rect x="3819" y="1271" width="208.5" height="185.5" fill="none" stroke="#111" stroke-width="2.6"/>
<g font-family="'DejaVu Sans',sans-serif" font-size="15.6" fill="#333" stroke="#333" stroke-width="0.35">
<line x1="3814" y1="1456.5" x2="3819" y2="1456.5" stroke="#222" stroke-width="1.6"/>
<text x="3808" y="1462.1" text-anchor="end">0.0</text>
<line x1="3814" y1="1419.4" x2="3819" y2="1419.4" stroke="#222" stroke-width="1.6"/>
<text x="3808" y="1425.0" text-anchor="end">0.2</text>
<line x1="3814" y1="1382.3" x2="3819" y2="1382.3" stroke="#222" stroke-width="1.6"/>
<text x="3808" y="1387.9" text-anchor="end">0.4</text>
<line x1="3814" y1="1345.2" x2="3819" y2="1345.2" stroke="#222" stroke-width="1.6"/>
<text x="3808" y="1350.8" text-anchor="end">0.6</text>
<line x1="3814" y1="1308.1" x2="3819" y2="1308.1" stroke="#222" stroke-width="1.6"/>
<text x="3808" y="1313.7" text-anchor="end">0.8</text>
<line x1="3814" y1="1271.0" x2="3819" y2="1271.0" stroke="#222" stroke-width="1.6"/>
<text x="3808" y="1276.6" text-anchor="end">1.0</text>
<line x1="4027.5" y1="1456.5" x2="4032.5" y2="1456.5" stroke="#222" stroke-width="1.6"/>
<text x="4039.5" y="1462.1">0.000</text>
<line x1="4027.5" y1="1402.5" x2="4032.5" y2="1402.5" stroke="#222" stroke-width="1.6"/>
<text x="4039.5" y="1408.1">0.005</text>
<line x1="4027.5" y1="1347.5" x2="4032.5" y2="1347.5" stroke="#222" stroke-width="1.6"/>
<text x="4039.5" y="1353.1">0.010</text>
<line x1="4027.5" y1="1293.0" x2="4032.5" y2="1293.0" stroke="#222" stroke-width="1.6"/>
<text x="4039.5" y="1298.6">0.015</text>
</g>
<text x="3774" y="1363.75" font-family="'DejaVu Sans',sans-serif" font-size="15.2" fill="#5a9ad4" text-anchor="middle" transform="rotate(-90 3774 1363.75)">Bias Risk</text>
<text x="4101.5" y="1363.75" font-family="'DejaVu Sans',sans-serif" font-size="15.2" fill="#d4483d" text-anchor="middle" transform="rotate(-90 4101.5 1363.75)">Volatility Risk</text>
<line x1="3829" y1="1456.5" x2="3829" y2="1461.5" stroke="#222" stroke-width="1.6"/>
<text x="3831" y="1507.9" font-family="'DejaVu Sans',sans-serif" font-size="15.2" fill="#3a3a3a" stroke="#3a3a3a" stroke-width="0.3" text-anchor="middle" transform="rotate(-45 3831 1507.9)">llama2-70b</text>
<line x1="3940" y1="1456.5" x2="3940" y2="1461.5" stroke="#222" stroke-width="1.6"/>
<text x="3942" y="1523.1" font-family="'DejaVu Sans',sans-serif" font-size="15.2" fill="#3a3a3a" stroke="#3a3a3a" stroke-width="0.3" text-anchor="middle" transform="rotate(-45 3942 1523.1)">llama2-70b-chat</text>
</g><defs><pattern id="hat2" width="7" height="7" patternUnits="userSpaceOnUse" patternTransform="rotate(-50)"><rect width="7" height="7" fill="#e3f1f6"/><rect width="7" height="3.8" fill="#44a6c2"/></pattern><filter id="sh2" x="-20%" y="-20%" width="150%" height="160%"><feDropShadow dx="2" dy="2.5" stdDeviation="1.6" flood-color="#000" flood-opacity="0.3"/></filter></defs>
<g fill="#111" stroke="#111" stroke-width="2.6" stroke-linecap="round"><ellipse cx="1524" cy="2040" rx="11" ry="6.5" stroke="none"/><circle cx="1523" cy="2040" r="3.6" fill="#fff" stroke="none"/><circle cx="1523" cy="2040" r="1.6" stroke="none"/><path d="M1534 2027v12M1530 2031h9" fill="none"/><path d="M1518 2047l-5 8h-6l-1 7M1530 2047l5 8h6l1 7M1524 2047v14" fill="none" stroke-width="3.4"/></g>
<g fill="#111" stroke="#111" stroke-width="2" stroke-linecap="round"><path d="M1745 2027h22l7 14h-36z" stroke="none"/><circle cx="1756" cy="2034.5" r="4.2" fill="#fff" stroke="none"/><circle cx="1756" cy="2034.5" r="1.8" stroke="none"/><path d="M1742 2042q-8 4 -12 11M1748 2043q-5 7 -8 16M1756 2043v17M1764 2043q5 7 8 16M1770 2042q8 4 12 11" fill="none"/><g fill="none" stroke-width="1.6"><circle cx="1729" cy="2054.5" r="2"/><circle cx="1739.5" cy="2060.5" r="2"/><circle cx="1756" cy="2062" r="2"/><circle cx="1772.5" cy="2060.5" r="2"/><circle cx="1783" cy="2054.5" r="2"/></g></g>
<g fill="none" stroke-linecap="round" stroke-linejoin="round" filter="url(#sh2)"><path d="M2066 2029C2064 2048 2063 2056 2056 2058C2044 2062 2030 2063 2022 2059C2017 2055 2016 2046 2015 2040" stroke="#16a016" stroke-width="5"/><path d="M2009 2045l8 -12l8 13z" fill="#16a016" stroke="#16a016" stroke-width="2"/><path d="M2148.5 2029C2146 2046 2145 2055 2141 2059C2130 2062 2112 2062 2106 2058C2102 2053 2101 2046 2100 2042" stroke="#f0506e" stroke-width="5"/><path d="M2091 2048l8 -14l10 14z" fill="#f0506e" stroke="#f0506e" stroke-width="2"/></g>
<g fill="none" stroke-linecap="round" stroke-linejoin="round"><path d="M1741.5 2158.5C1730 2172 1690 2176 1655 2176C1620 2176 1595 2173 1578 2169.5" stroke="#16a016" stroke-width="3.4"/><path d="M1575.5 2170l6 -12l5.5 11z" stroke="#16a016" stroke-width="2.6"/><path d="M1692 2161C1720 2170 1790 2172 1900 2173.5L2278 2175.6" stroke="#4bacc6" stroke-width="3"/><path d="M2290.5 2175.6l-15 -7.5l3.5 7.5l-3.5 7.5z" fill="#4bacc6" stroke="#4bacc6" stroke-width="1"/><path d="M1819.5 2267C1815 2278 1770 2282 1730 2282C1690 2282 1660 2279 1641 2274" stroke="#f0506e" stroke-width="3.4"/><path d="M1637.5 2275l6 -12l6 11z" stroke="#f0506e" stroke-width="2.6"/></g>
<g filter="url(#soft)">
<rect x="2306.0" y="2110.2" width="109.1" height="14.9" fill="url(#hat2)" stroke="#4bacc6" stroke-width="1.8"/>
<rect x="2306.0" y="2126.3" width="91.8" height="13.8" fill="url(#hat2)" stroke="#4bacc6" stroke-width="1.8"/>
<rect x="2306.0" y="2141.2" width="79.2" height="14.9" fill="url(#hat2)" stroke="#4bacc6" stroke-width="1.8"/>
<rect x="2306.0" y="2157.3" width="64.3" height="13.8" fill="url(#hat2)" stroke="#4bacc6" stroke-width="1.8"/>
<rect x="2306.0" y="2172.2" width="37.9" height="13.8" fill="url(#hat2)" stroke="#4bacc6" stroke-width="1.8"/>
<rect x="2306.0" y="2186.4" width="39.0" height="14.5" fill="url(#hat2)" stroke="#4bacc6" stroke-width="1.8"/>
<rect x="2306.0" y="2202.0" width="31.0" height="12.6" fill="url(#hat2)" stroke="#4bacc6" stroke-width="1.8"/>
<rect x="2306.0" y="2215.8" width="17.2" height="13.8" fill="url(#hat2)" stroke="#4bacc6" stroke-width="1.8"/>
<rect x="2306.0" y="2230.7" width="16.1" height="13.8" fill="url(#hat2)" stroke="#4bacc6" stroke-width="1.8"/>
<rect x="2306.0" y="2245.7" width="16.1" height="13.8" fill="url(#hat2)" stroke="#4bacc6" stroke-width="1.8"/>
<rect x="2306.0" y="2260.6" width="16.1" height="13.8" fill="url(#hat2)" stroke="#4bacc6" stroke-width="1.8"/>
<rect x="2306.0" y="2275.5" width="17.2" height="14.9" fill="url(#hat2)" stroke="#4bacc6" stroke-width="1.8"/>
<path d="M2400.6 2109.7C2400.3 2114.4 2400.6 2129.6 2399.0 2137.8C2397.4 2145.9 2395.8 2153.0 2391.0 2158.4C2386.2 2163.9 2377.6 2167.1 2370.3 2170.4C2363.0 2173.6 2353.5 2172.7 2347.3 2177.9C2341.2 2183.2 2337.0 2191.9 2333.6 2202.0C2330.1 2212.2 2328.3 2224.0 2326.7 2238.8C2325.0 2253.5 2324.2 2281.8 2323.7 2290.4" fill="none" stroke="#7b2c25" stroke-width="4.6" filter="url(#sh)"/>
<path d="M2439.2 2094.8L2306.0 2096.4L2306.0 2305.4" fill="none" stroke="#8b3a32" stroke-width="2"/>
</g>
<g font-family="'Liberation Serif',serif" fill="#111" stroke="#111" stroke-width="0.35"><text x="2857.0" y="2055.0" font-size="32.0" font-style="italic">s</text><text x="2872.5" y="2041.5" font-size="21.1" font-style="italic">M</text><text x="2871.5" y="2063.0" font-size="21.1" font-style="italic">y|x</text><text x="2901.0" y="2055.0" font-size="32.0">(</text><text x="2911.5" y="2055.0" font-size="32.0" font-style="italic">c</text><text x="2924.5" y="2055.0" font-size="32.0">)</text><text x="2944.0" y="2055.0" font-size="32.0">=</text><text x="2982.0" y="2026.0" font-size="32.0" font-style="italic">p</text><text x="2998.0" y="2014.0" font-size="21.1" font-style="italic">M</text><text x="2997.5" y="2034.0" font-size="21.1" font-style="italic">y|x</text><text x="3028.0" y="2026.0" font-size="32.0">(</text><text x="3038.5" y="2026.0" font-size="32.0" font-style="italic">c</text><text x="3051.5" y="2026.0" font-size="32.0">)</text><text x="2982.0" y="2077.0" font-size="32.0" font-style="italic">p</text><text x="2999.0" y="2066.5" font-size="21.1">*</text><text x="2997.5" y="2085.0" font-size="21.1" font-style="italic">y|x</text><text x="3028.0" y="2077.0" font-size="32.0">(</text><text x="3038.5" y="2077.0" font-size="32.0" font-style="italic">c</text><text x="3051.5" y="2077.0" font-size="32.0">)</text><text x="3077.0" y="2055.0" font-size="32.0">−</text><text x="3104.0" y="2055.0" font-size="32.0">1</text></g>
<line x1="2979" y1="2047.5" x2="3064.5" y2="2047.5" stroke="#111" stroke-width="1.5"/>
<g font-family="'Liberation Serif',serif" fill="#111" stroke="#111" stroke-width="0.35"><text x="2830.0" y="2292.4" font-size="32.0" font-style="italic">J</text><text x="2847.5" y="2292.4" font-size="32.0">(</text><text x="2859.0" y="2292.4" font-size="32.0" font-style="italic">s</text><text x="2874.0" y="2278.9" font-size="21.1" font-style="italic">M</text><text x="2873.5" y="2300.4" font-size="21.1" font-style="italic">Y|x</text><text x="2909.0" y="2292.4" font-size="32.0">(</text><text x="2919.5" y="2292.4" font-size="32.0" font-style="italic">c</text><text x="2932.5" y="2292.4" font-size="32.0">))</text><text x="2964.0" y="2292.4" font-size="32.0">=</text><text x="2994.5" y="2292.4" font-size="32.0" textLength="54" lengthAdjust="spacingAndGlyphs">max</text><text x="3002.0" y="2312.9" font-size="21.1" font-style="italic">y∈Y</text><text x="3050.5" y="2292.4" font-size="32.0">{</text><text x="3064.0" y="2292.4" font-size="32.0" font-style="italic">s</text><text x="3079.5" y="2278.9" font-size="21.1" font-style="italic">M</text><text x="3079.0" y="2300.4" font-size="21.1" font-style="italic">y|x</text><text x="3108.5" y="2292.4" font-size="32.0">(</text><text x="3119.0" y="2292.4" font-size="32.0" font-style="italic">c</text><text x="3132.0" y="2292.4" font-size="32.0">)</text><text x="3144.0" y="2279.4" font-size="21.1">+</text><text x="3160.5" y="2292.4" font-size="32.0">}</text></g>
<g font-family="'Liberation Serif',serif" fill="#111" stroke="#111" stroke-width="0.35"><text x="2862.0" y="2455.0" font-size="32.0" font-style="italic">r</text><text x="2876.5" y="2461.5" font-size="21.1" font-style="italic">x</text><text x="2899.0" y="2455.0" font-size="32.0">=</text><text x="2929.0" y="2455.0" font-size="32.0" textLength="21" lengthAdjust="spacingAndGlyphs">𝔼</text><text x="2951.5" y="2461.5" font-size="21.1" font-style="italic" textLength="38" lengthAdjust="spacingAndGlyphs">c∼C</text><text x="2992.5" y="2455.0" font-size="32.0">(</text><text x="3004.0" y="2455.0" font-size="32.0" font-style="italic">J</text><text x="3021.5" y="2455.0" font-size="32.0">(</text><text x="3033.0" y="2455.0" font-size="32.0" font-style="italic">s</text><text x="3049.5" y="2441.5" font-size="21.1" font-style="italic">M</text><text x="3049.0" y="2463.0" font-size="21.1" font-style="italic">Y|x</text><text x="3085.0" y="2455.0" font-size="32.0">(</text><text x="3095.5" y="2455.0" font-size="32.0" font-style="italic">c</text><text x="3108.5" y="2455.0" font-size="32.0">)))</text></g>
<g font-family="'Liberation Serif',serif" fill="#111" stroke="#111" stroke-width="0.35"><text x="2873.0" y="2672.5" font-size="32.0" font-style="italic">r</text><text x="2887.5" y="2659.5" font-size="21.1" font-style="italic">b</text><text x="2887.0" y="2680.0" font-size="21.1" font-style="italic">x</text><text x="2910.0" y="2672.5" font-size="32.0">=</text><text x="2941.5" y="2672.5" font-size="32.0" font-style="italic">J</text><text x="2959.5" y="2672.5" font-size="32.0">(</text><text x="2970.5" y="2672.5" font-size="32.0" textLength="21" lengthAdjust="spacingAndGlyphs">𝔼</text><text x="2992.5" y="2679.0" font-size="21.1" font-style="italic" textLength="38" lengthAdjust="spacingAndGlyphs">c∼C</text><text x="3033.5" y="2672.5" font-size="32.0">(</text><text x="3045.5" y="2672.5" font-size="32.0" font-style="italic">s</text><text x="3061.5" y="2659.0" font-size="21.1" font-style="italic">M</text><text x="3061.0" y="2680.5" font-size="21.1" font-style="italic">Y|x</text><text x="3097.0" y="2672.5" font-size="32.0">(</text><text x="3107.5" y="2672.5" font-size="32.0" font-style="italic">c</text><text x="3120.5" y="2672.5" font-size="32.0">)))</text></g>
<g font-family="'Liberation Serif',serif" fill="#111" stroke="#111" stroke-width="0.35"><text x="2934.0" y="2814.0" font-size="32.0" font-style="italic">r</text><text x="2948.5" y="2801.0" font-size="21.1" font-style="italic">v</text><text x="2948.0" y="2821.5" font-size="21.1" font-style="italic">x</text><text x="2971.5" y="2814.0" font-size="32.0">=</text><text x="3002.0" y="2814.0" font-size="32.0" font-style="italic">r</text><text x="3016.0" y="2820.5" font-size="21.1" font-style="italic">x</text><text x="3036.0" y="2814.0" font-size="32.0">−</text><text x="3065.0" y="2814.0" font-size="32.0" font-style="italic">r</text><text x="3079.5" y="2801.0" font-size="21.1" font-style="italic">b</text><text x="3079.0" y="2821.5" font-size="21.1" font-style="italic">x</text></g>
<g stroke="#000" stroke-width="1.5" fill="none"><rect x="3476" y="1953" width="727.5" height="686"/>
<line x1="3573.2" y1="1953" x2="3573.2" y2="2639"/>
<line x1="3476" y1="2056.3" x2="4203.5" y2="2056.3"/>
<line x1="3476" y1="2155.5" x2="4203.5" y2="2155.5"/>
<line x1="3476" y1="2272" x2="4203.5" y2="2272"/>
<line x1="3476" y1="2364.5" x2="4203.5" y2="2364.5"/>
<line x1="3476" y1="2510" x2="4203.5" y2="2510"/>
</g>
</svg>
<div class="t" style="left:135.00px;top:95.32px;font-size:80.7px;line-height:96.84px;color:#000;">Bias and Volatility:</div>
<div class="t" style="left:135.60px;top:204.82px;font-size:56.8px;line-height:68px;color:#000;">A Statistical Framework for Evaluating Large Language Model’s<br>Stereotypes and the Associated Generation Inconsistency</div>
<div class="t" style="left:133.00px;top:368.80px;font-size:35.6px;line-height:42.72px;color:#000;">Yiran Liu<span style="font-size:62%;position:relative;top:-0.42em;letter-spacing:-0.5px">*1</span>,&nbsp; Ke Yang<span style="font-size:62%;position:relative;top:-0.42em;letter-spacing:-0.5px">*2</span>, Zehan Qi<span style="font-size:62%;position:relative;top:-0.42em;letter-spacing:-0.5px">1</span>, Xiao Liu<span style="font-size:62%;position:relative;top:-0.42em;letter-spacing:-0.5px">1</span>, Yang Yu<span style="font-size:62%;position:relative;top:-0.42em;letter-spacing:-0.5px">&#410;3</span>, ChengXiang Zhai<span style="font-size:62%;position:relative;top:-0.42em;letter-spacing:-0.5px">2</span></div>
<div class="t" style="left:1909.50px;top:317.42px;font-size:30.2px;line-height:36.24px;color:#000;"><span style="font-size:62%;position:relative;top:-0.45em">1</span>Tsinghua University</div>
<div class="t" style="left:2311.50px;top:317.42px;font-size:30.2px;line-height:36.24px;color:#000;"><span style="font-size:62%;position:relative;top:-0.45em">2</span>University of Illinois at Urbana-Champaign</div>
<div class="t" style="left:2938.00px;top:317.42px;font-size:30.2px;line-height:36.24px;color:#000;"><span style="font-size:62%;position:relative;top:-0.45em">3</span>China University of Petroleum (Beijing)</div>
<div class="t" style="left:130.50px;top:465.38px;font-size:56.9px;line-height:68.4px;color:#000;"><span class="h">LLM’s&nbsp; Generation Inconsistency Induces</span><br><span class="h">Model’s Stereotype Randomness</span></div>
<div class="t" style="left:143.00px;top:708.77px;font-size:35.3px;line-height:42px;color:#000;font-weight:bold;font-style:italic;"><span style="font-style:italic;font-weight:bold;text-decoration:underline;text-decoration-thickness:2px;text-underline-offset:4px;text-decoration-skip-ink:none">The nurse found</span><br><span style="font-style:italic;font-weight:bold;text-decoration:underline;text-decoration-thickness:2px;text-underline-offset:4px;text-decoration-skip-ink:none">that&nbsp; [Y]</span></div>
<div class="t" style="left:135.00px;top:811.99px;font-size:35.1px;line-height:41.7px;color:#2f4554;"><span style="color:#4472c4">97%</span> probability to<br>choose a <span style="color:#4472c4">male-</span><br><span style="color:#4472c4">oriented</span> word for [Y].</div>
<div class="t" style="left:977.00px;top:708.77px;font-size:35.3px;line-height:42px;color:#000;font-weight:bold;font-style:italic;"><span style="font-style:italic;font-weight:bold;text-decoration:underline;text-decoration-thickness:2px;text-underline-offset:4px;text-decoration-skip-ink:none">The nurse</span><br><span style="font-style:italic;font-weight:bold;text-decoration:underline;text-decoration-thickness:2px;text-underline-offset:4px;text-decoration-skip-ink:none">announced that</span><br><span style="font-style:italic;font-weight:bold;text-decoration:underline;text-decoration-thickness:2px;text-underline-offset:4px;text-decoration-skip-ink:none">[Y]</span></div>
<div class="t" style="left:978.00px;top:800.19px;font-size:35.1px;line-height:42.3px;color:#2f4554;"><span style="color:#c00000">88%</span> probability to<br>choose a <span style="color:#c00000">female-</span><br><span style="color:#c00000">oriented</span> word for [Y].</div>
<div class="t" style="left:195.50px;top:1146.91px;font-size:21.76px;line-height:26.11px;color:#2f4554;">Figure 1. An example of gender stereotypes about nurses in different contexts as distributed by Llama2.</div>
<div class="t" style="left:135.50px;top:1204.33px;font-size:56.9px;line-height:67.5px;color:#000;"><span class="h">Ignoring Inconsistency Will Mislead the</span><br><span class="h">Evaluation of the LLM’s Alignment.</span></div>
<div class="t" style="left:393.00px;top:1404.14px;font-size:40px;line-height:48.0px;color:#2f4554;">Context 1</div>
<div class="t" style="left:593.00px;top:1404.14px;font-size:40px;line-height:48.0px;color:#2f4554;">Context 2</div>
<div class="t" style="left:826.00px;top:1404.14px;font-size:40px;line-height:48.0px;color:#2f4554;">Average</div>
<div class="t" style="left:169.00px;top:1464.14px;font-size:40px;line-height:48.0px;color:#2f4554;">Fair LLM</div>
<div class="t" style="left:169.00px;top:1532.14px;font-size:40px;line-height:48.0px;color:#2f4554;">Unfair LLM</div>
<div class="t" style="left:412.00px;top:1470.32px;font-size:37.7px;line-height:45.24px;color:#2f4554;">(<span style="color:#4472c4">0.5</span>,<span style="color:#c00000">0.5</span>)</div>
<div class="t" style="left:627.50px;top:1470.32px;font-size:37.7px;line-height:45.24px;color:#2f4554;">(<span style="color:#4472c4">0.5</span>,<span style="color:#c00000">0.5</span>)</div>
<div class="t" style="left:831.00px;top:1470.32px;font-size:37.7px;line-height:45.24px;color:#2f4554;">(<span style="color:#4472c4">0.5</span>,<span style="color:#c00000">0.5</span>)</div>
<div class="t" style="left:412.00px;top:1539.32px;font-size:37.7px;line-height:45.24px;color:#2f4554;">(<span style="color:#4472c4">0.4</span>,<span style="color:#c00000">0.6</span>)</div>
<div class="t" style="left:627.50px;top:1539.32px;font-size:37.7px;line-height:45.24px;color:#2f4554;">(<span style="color:#4472c4">0.6</span>,<span style="color:#c00000">0.4</span>)</div>
<div class="t" style="left:831.00px;top:1539.32px;font-size:37.7px;line-height:45.24px;color:#2f4554;">(<span style="color:#4472c4">0.5</span>,<span style="color:#c00000">0.5</span>)</div>
<div class="t" style="left:1027.50px;top:1437.14px;font-size:40px;line-height:48px;color:#2f4554;">The Same Average<br>Behavior of Different<br>Discrimination Risk</div>
<div class="t" style="left:157.50px;top:1618.46px;font-size:21.76px;line-height:26px;color:#2f4554;">Table 1. Examples with identical average behavior but distinct discrimination risks. <span style="color:#4472c4">Blue</span> indicates the intensity of male<br>stereotypes, while <span style="color:#c00000">red</span> denotes the intensity of female stereotypes.</div>
<div class="t" style="left:131.50px;top:1696.44px;font-size:56.9px;line-height:68.28px;color:#000;"><span class="h">Bias and Volatility Framework(BVF)</span></div>
<div class="t" style="left:94.00px;top:1829.43px;font-size:53.6px;line-height:64px;color:#4472c4;text-align:center;width:571px;text-shadow:1.5px 1.5px 2.5px rgba(0,0,0,.3);">Recover LLM’s<br>Stereotype Distribution</div>
<div class="t" style="left:676.00px;top:1829.43px;font-size:53.6px;line-height:64px;color:#4472c4;text-align:center;width:676px;text-shadow:1.5px 1.5px 2.5px rgba(0,0,0,.3);">Decompose Stereotype to<br>Bias v.s. Volatility Risks</div>
<div class="t" style="left:147.50px;top:2024.89px;font-size:30.2px;line-height:36.3px;color:#2f4554;">Analyzing LLM<br>behavior across<br>varying contexts.</div>
<div class="t" style="left:568.00px;top:2004.54px;font-size:30.2px;line-height:36px;color:#2f4554;">Evaluating stereotype<br>distribution by<br>discrimination<br>risk criterion.</div>
<div class="t" style="left:1055.50px;top:2094.84px;font-size:35.1px;line-height:42px;color:#2f4554;">3. Evaluating<br>Discrimination Risk</div>
<div class="t" style="left:90.00px;top:2442.09px;font-size:35.1px;line-height:41.5px;color:#2f4554;">1. <span style="color:#000">Estimating</span> the<br>Distribution of Context</div>
<div class="t" style="left:496.50px;top:2442.09px;font-size:35.1px;line-height:41.5px;color:#2f4554;">2. Estimating the<br>Distribution of Stereotypes</div>
<div class="t" style="left:1003.50px;top:2480.59px;font-size:35.1px;line-height:41.5px;color:#2f4554;">4. Decomposing<br>Discrimination Risk</div>
<div class="t" style="left:327.00px;top:2586.91px;font-size:21.76px;line-height:26.11px;color:#2f4554;">Figure 2. Our statistical framework for measuring stereotypes in LLMs.</div>
<div class="t" style="left:166.50px;top:2646.75px;font-size:26.7px;line-height:32px;color:#000;">* Yiran and Ke made equal&nbsp; contributions.<br>&#410; Yang Yu is the corresponding author.<br>Contacts:&nbsp; liu-yr21@mails.tsinghua.edu.cn</div>
<div class="t" style="left:286.00px;top:2742.75px;font-size:26.7px;line-height:32px;color:#000;">{key4, czhai}@illinois.edu<br>yangyu@cup.edu.cn</div>
<div class="t" style="left:870.50px;top:2637.42px;font-size:30.2px;line-height:36.24px;color:#000;">Paper</div>
<div class="t" style="left:1047.00px;top:2637.42px;font-size:30.2px;line-height:36.24px;color:#000;">Code</div>
<div class="t" style="left:1396.00px;top:477.44px;font-size:56.9px;line-height:68.28px;color:#000;"><span class="h">Result: Which LLM Demonstrates the Most Discrimination</span></div>
<div class="t" style="left:1460.80px;top:574.94px;font-size:40px;line-height:48.0px;color:#2f4554;font-weight:bold;">Rank of Discrimination Risk</div>
<div class="t" style="left:2090.00px;top:576.24px;font-size:40px;line-height:48.2px;color:#2f4554;font-weight:bold;">Most language models exhibit a<br>pro-male bias</div>
<div class="t" style="left:2450.40px;top:651.52px;font-size:35.0px;line-height:41.5px;color:#4472c4;">The stereotype is<br>biased toward male.</div>
<div class="t" style="left:2308.70px;top:1187.87px;font-size:35.0px;line-height:42px;color:#c00000;">The stereotype is<br>biased toward female.</div>
<div class="t" style="left:1536.00px;top:1294.46px;font-size:21.76px;line-height:26px;color:#2f4554;">Figure&nbsp; 3. The discrimination risk of various<br>LLMs concerning gender given occupations</div>
<div class="t" style="left:2006.50px;top:1294.41px;font-size:21.76px;line-height:26.11px;color:#2f4554;">Figure 4. Box plot of the model's average gender predictions for various professions.</div>
<div class="t" style="left:1637.00px;top:1367.14px;font-size:40px;line-height:48.0px;color:#2f4554;font-weight:bold;">Higher-Income Professions Face Greater Discrimination</div>
<div class="t" style="left:1886.00px;top:1719.91px;font-size:21.76px;line-height:26.11px;color:#2f4554;">Figure 5. The regressions between income and discrimination risk.</div>
<div class="t" style="left:2906.00px;top:477.38px;font-size:56.9px;line-height:68.4px;color:#000;"><span class="h">Impacts of Model Training Techniques on Bias Risk</span><br><span class="h">and Volatility Risk</span></div>
<div class="t" style="left:2905.00px;top:958.41px;font-size:21.76px;line-height:26.11px;color:#2f4554;">Figure 6. The impact of&nbsp; toxic data on bias risk and volatility risk.</div>
<div class="t" style="left:3597.50px;top:951.91px;font-size:21.76px;line-height:26.11px;color:#2f4554;">Figure 7. The impact of model size on bias risk and volatility risk.</div>
<div class="t" style="left:2919.00px;top:1001.87px;font-size:35.0px;line-height:42.0px;color:#2f4554;font-weight:bold;">Impact of Toxic Data</div>
<div class="t" style="left:2921.00px;top:1043.87px;font-size:35.0px;line-height:42px;color:#2f4554;">Toxic data reinforces the model's<br>systemic bias, leading to an increase<br>in overall bias risk and a decrease in<br>overall volatility risk.</div>
<div class="t" style="left:3585.50px;top:1001.87px;font-size:35.0px;line-height:42.0px;color:#2f4554;font-weight:bold;">Impact of Model Size</div>
<div class="t" style="left:3585.50px;top:1043.87px;font-size:35.0px;line-height:42px;color:#2f4554;">Larger models tend to show more bias<br>but less volatility, implying they may<br>overfit to biases in data while providing<br>more consistent discriminatory patterns.</div>
<div class="t" style="left:3235.00px;top:1574.71px;font-size:21.76px;line-height:26.11px;color:#2f4554;">Figure 8. The impact of RLHF on bias risk and volatility risk.</div>
<div class="t" style="left:2934.50px;top:1612.17px;font-size:35.0px;line-height:42.0px;color:#2f4554;font-weight:bold;">Impact of RLHF</div>
<div class="t" style="left:2936.50px;top:1653.87px;font-size:35.0px;line-height:42px;color:#2f4554;">The chat versions refined with RLHF exhibit a lower bias risk compared to the<br>base versions, yet they possess a higher&nbsp; volatility risk.</div>
<div class="t" style="left:1460.00px;top:1812.14px;font-size:56.9px;line-height:68.28px;color:#000;text-shadow:1.5px 1.5px 2.5px rgba(0,0,0,.35);">Technical Details of BVF</div>
<div class="t" style="left:1460.00px;top:1908.78px;font-size:35.1px;line-height:42.12px;color:#2f4554;font-weight:bold;">Step 1. Estimating Context Distribution Through Data Mining</div>
<div class="t" style="left:1720.50px;top:2345.41px;font-size:21.76px;line-height:26.11px;color:#2f4554;">Figure 9. Our approach to data mining contexts</div>
<div class="t" style="left:1471.00px;top:2415.78px;font-size:35.1px;line-height:42.12px;color:#2f4554;font-weight:bold;">i) Anchor Groups and Attributes</div>
<div class="t" style="left:1511.00px;top:2471.78px;font-size:35.1px;line-height:42.12px;color:#2f4554;">We find the sentences where the protected attribute <i>y</i> either</div>
<div class="t" style="left:1472.00px;top:2525.78px;font-size:35.1px;line-height:42.12px;color:#2f4554;">co-refers with or modifies the subject, which would later be</div>
<div class="t" style="left:1471.00px;top:2580.78px;font-size:35.1px;line-height:42.12px;color:#2f4554;">replaced with occupation words from <i>X</i> = <i>x</i>.</div>
<div class="t" style="left:1471.00px;top:2634.78px;font-size:35.1px;line-height:42.12px;color:#2f4554;font-weight:bold;">ii) Extracting context templates</div>
<div class="t" style="left:1511.00px;top:2685.28px;font-size:35.1px;line-height:42.12px;color:#2f4554;">We simplify intricate text structures into sentence skeletons,</div>
<div class="t" style="left:1471.00px;top:2735.78px;font-size:35.1px;line-height:42.12px;color:#2f4554;">reducing gender-specific cues for LLMs' inference, and then</div>
<div class="t" style="left:1474.00px;top:2785.28px;font-size:35.1px;line-height:42.12px;color:#2f4554;">we track these predicates' frequency as distribution.</div>
<div class="t" style="left:2534.00px;top:1813.78px;font-size:35.1px;line-height:42.12px;color:#2f4554;font-weight:bold;"><span style="color:#000">Step</span> 2. Estimating the Distribution of Stereotypes</div>
<div class="t" style="left:2535.00px;top:1875.34px;font-size:35.1px;line-height:42px;color:#2f4554;">The stereotypes in language models stem from biases<br>in prediction, while randomness arises from the<br>variability within the context:</div>
<div class="t" style="left:2534.00px;top:2109.28px;font-size:35.1px;line-height:42.12px;color:#2f4554;font-weight:bold;">Step 3. Evaluating Discrimination Risk</div>
<div class="t" style="left:2535.00px;top:2163.09px;font-size:35.1px;line-height:41.5px;color:#2f4554;">We employ a discrimination risk criterion to measure<br>most significant stereotype of LLM, defined as follows:</div>
<div class="t" style="left:2535.00px;top:2335.28px;font-size:35.1px;line-height:42.12px;color:#2f4554;">The discrimination risk measures the risk against <span style="font-size:30px">x</span> for</div>
<div class="t" style="left:2534.00px;top:2384.78px;font-size:35.1px;line-height:42.12px;color:#2f4554;">all the sub-categories of attribute Y, defined as follows:</div>
<div class="t" style="left:2534.00px;top:2488.78px;font-size:35.1px;line-height:42.12px;color:#2f4554;font-weight:bold;">Step 4. Decomposing Discrimination Risk</div>
<div class="t" style="left:2535.00px;top:2552.28px;font-size:35.1px;line-height:42.12px;color:#2f4554;">The bias risk is caused by the systemic bias of LLM's</div>
<div class="t" style="left:2534.00px;top:2597.78px;font-size:35.1px;line-height:42.12px;color:#2f4554;">estimation about the correlation between X and Y:</div>
<div class="t" style="left:2535.00px;top:2699.84px;font-size:35.1px;line-height:42px;color:#2f4554;">The volatility risk assesses inconsistency and<br>randomness about the discrimination risk:</div>
<div class="t" style="left:3595.00px;top:1959.30px;font-size:33.7px;line-height:40.44px;color:#000;">The variable of protected attribute,</div>
<div class="t" style="left:3587.00px;top:2002.30px;font-size:33.7px;line-height:40.44px;color:#000;">where <i style="font-size:31.5px">y</i> denote a specific value of <i style="font-size:31.5px">Y.</i></div>
<div class="t" style="left:3586.00px;top:2063.10px;font-size:33.7px;line-height:40.44px;color:#000;">The variable of demographic group</div>
<div class="t" style="left:3587.00px;top:2106.10px;font-size:33.7px;line-height:40.44px;color:#000;">where <i style="font-size:31.5px">x</i> denote a specific value of <i style="font-size:31.5px">X.</i></div>
<div class="t" style="left:3586.00px;top:2165.10px;font-size:33.7px;line-height:40.44px;color:#000;">The variable of context, where <i style="font-size:28px">c</i> denote</div>
<div class="t" style="left:3585.00px;top:2212.10px;font-size:33.7px;line-height:40.44px;color:#000;">a specific value of <i style="font-size:31.5px">C.</i></div>
<div class="t" style="left:3586.00px;top:2279.48px;font-size:33.3px;line-height:39.96px;color:#000;">The large language model under</div>
<div class="t" style="left:3586.00px;top:2318.98px;font-size:33.3px;line-height:39.96px;color:#000;">Assessment</div>
<div class="t" style="left:3586.00px;top:2373.63px;font-size:34.2px;line-height:41.04px;color:#000;">The probability that model <i style="font-size:31.5px">M</i> predicts</div>
<div class="t" style="left:3586.00px;top:2417.63px;font-size:34.2px;line-height:41.04px;color:#000;">the protected attribute of demographic</div>
<div class="t" style="left:3585.00px;top:2461.13px;font-size:34.2px;line-height:41.04px;color:#000;">group <i style="font-size:31.5px">x</i> to be <i style="font-size:31.5px">y</i>.</div>
<div class="t" style="left:3586.00px;top:2516.13px;font-size:34.2px;line-height:41.04px;color:#000;">The attribute prediction probability of</div>
<div class="t" style="left:3586.00px;top:2556.13px;font-size:34.2px;line-height:41.04px;color:#000;">the unbiased model.</div>
<div class="t" style="left:3725.00px;top:2599.91px;font-size:21.76px;line-height:26.11px;color:#2f4554;">Table 2. Notation summary.</div>
<div class="t" style="left:3476.00px;top:1962.17px;font-size:33px;line-height:39.6px;color:#000;text-align:center;width:97px;"><i>Y</i></div>
<div class="t" style="left:3476.00px;top:2066.77px;font-size:33px;line-height:39.6px;color:#000;text-align:center;width:97px;"><i>X</i></div>
<div class="t" style="left:3476.00px;top:2165.77px;font-size:33px;line-height:39.6px;color:#000;text-align:center;width:97px;"><i>C</i></div>
<div class="t" style="left:3476.00px;top:2282.77px;font-size:33px;line-height:39.6px;color:#000;text-align:center;width:97px;"><i>M</i></div>
<div class="t" style="left:3477.00px;top:2374.77px;font-size:33px;line-height:39.6px;color:#000;text-align:center;width:97px;"><i>p</i><span style="display:inline-block;position:relative;width:34px;height:10px"><i style="position:absolute;left:1px;top:-34px;font-size:23px">M</i><i style="position:absolute;left:1px;top:-11px;font-size:23px">y|x</i></span></div>
<div class="t" style="left:3477.00px;top:2523.77px;font-size:33px;line-height:39.6px;color:#000;text-align:center;width:97px;"><i>p</i><span style="display:inline-block;position:relative;width:34px;height:10px"><i style="position:absolute;left:1px;top:-34px;font-size:23px">*</i><i style="position:absolute;left:1px;top:-11px;font-size:23px">y|x</i></span></div>
</div></body></html>
